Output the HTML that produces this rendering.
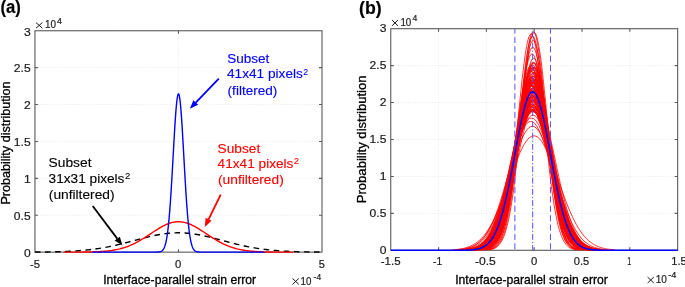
<!DOCTYPE html><html><head><meta charset="utf-8"><style>html,body{margin:0;padding:0;background:#fff;width:685px;height:287px;overflow:hidden}</style></head><body><svg width="685" height="287" viewBox="0 0 685 287" style="position:absolute;left:0;top:0;font-family:'Liberation Sans',sans-serif;will-change:transform">
<rect width="685" height="287" fill="#fff"/>
<line x1="34.95" y1="30.75" x2="34.95" y2="252.15" stroke="#dedede" stroke-width="0.7" stroke-dasharray="0.9,1.55"/>
<line x1="178.48" y1="30.75" x2="178.48" y2="252.15" stroke="#dedede" stroke-width="0.7" stroke-dasharray="0.9,1.55"/>
<line x1="322.00" y1="30.75" x2="322.00" y2="252.15" stroke="#dedede" stroke-width="0.7" stroke-dasharray="0.9,1.55"/>
<line x1="34.95" y1="252.15" x2="322.0" y2="252.15" stroke="#dedede" stroke-width="0.7" stroke-dasharray="0.9,1.55"/>
<line x1="34.95" y1="215.25" x2="322.0" y2="215.25" stroke="#dedede" stroke-width="0.7" stroke-dasharray="0.9,1.55"/>
<line x1="34.95" y1="178.35" x2="322.0" y2="178.35" stroke="#dedede" stroke-width="0.7" stroke-dasharray="0.9,1.55"/>
<line x1="34.95" y1="141.45" x2="322.0" y2="141.45" stroke="#dedede" stroke-width="0.7" stroke-dasharray="0.9,1.55"/>
<line x1="34.95" y1="104.55" x2="322.0" y2="104.55" stroke="#dedede" stroke-width="0.7" stroke-dasharray="0.9,1.55"/>
<line x1="34.95" y1="67.65" x2="322.0" y2="67.65" stroke="#dedede" stroke-width="0.7" stroke-dasharray="0.9,1.55"/>
<line x1="34.95" y1="30.75" x2="322.0" y2="30.75" stroke="#dedede" stroke-width="0.7" stroke-dasharray="0.9,1.55"/>
<line x1="390.75" y1="28.7" x2="390.75" y2="250.3" stroke="#dedede" stroke-width="0.7" stroke-dasharray="0.9,1.55"/>
<line x1="438.57" y1="28.7" x2="438.57" y2="250.3" stroke="#dedede" stroke-width="0.7" stroke-dasharray="0.9,1.55"/>
<line x1="486.38" y1="28.7" x2="486.38" y2="250.3" stroke="#dedede" stroke-width="0.7" stroke-dasharray="0.9,1.55"/>
<line x1="534.20" y1="28.7" x2="534.20" y2="250.3" stroke="#dedede" stroke-width="0.7" stroke-dasharray="0.9,1.55"/>
<line x1="582.02" y1="28.7" x2="582.02" y2="250.3" stroke="#dedede" stroke-width="0.7" stroke-dasharray="0.9,1.55"/>
<line x1="629.83" y1="28.7" x2="629.83" y2="250.3" stroke="#dedede" stroke-width="0.7" stroke-dasharray="0.9,1.55"/>
<line x1="677.65" y1="28.7" x2="677.65" y2="250.3" stroke="#dedede" stroke-width="0.7" stroke-dasharray="0.9,1.55"/>
<line x1="390.75" y1="250.30" x2="677.65" y2="250.30" stroke="#dedede" stroke-width="0.7" stroke-dasharray="0.9,1.55"/>
<line x1="390.75" y1="213.37" x2="677.65" y2="213.37" stroke="#dedede" stroke-width="0.7" stroke-dasharray="0.9,1.55"/>
<line x1="390.75" y1="176.43" x2="677.65" y2="176.43" stroke="#dedede" stroke-width="0.7" stroke-dasharray="0.9,1.55"/>
<line x1="390.75" y1="139.50" x2="677.65" y2="139.50" stroke="#dedede" stroke-width="0.7" stroke-dasharray="0.9,1.55"/>
<line x1="390.75" y1="102.57" x2="677.65" y2="102.57" stroke="#dedede" stroke-width="0.7" stroke-dasharray="0.9,1.55"/>
<line x1="390.75" y1="65.63" x2="677.65" y2="65.63" stroke="#dedede" stroke-width="0.7" stroke-dasharray="0.9,1.55"/>
<line x1="390.75" y1="28.70" x2="677.65" y2="28.70" stroke="#dedede" stroke-width="0.7" stroke-dasharray="0.9,1.55"/>
<rect x="34.95" y="30.75" width="287.05" height="221.40" fill="none" stroke="#5c5c5c" stroke-width="1.1"/>
<path d="M178.48,252.15v-3M178.48,30.75v3M34.95,215.25h3M322.0,215.25h-3M34.95,178.35h3M322.0,178.35h-3M34.95,141.45h3M322.0,141.45h-3M34.95,104.55h3M322.0,104.55h-3M34.95,67.65h3M322.0,67.65h-3" stroke="#5c5c5c" stroke-width="1.1" fill="none"/>
<rect x="390.75" y="28.7" width="286.90" height="221.60" fill="none" stroke="#5c5c5c" stroke-width="1.1"/>
<path d="M438.57,250.3v-3M438.57,28.7v3M486.38,250.3v-3M486.38,28.7v3M534.20,250.3v-3M534.20,28.7v3M582.02,250.3v-3M582.02,28.7v3M629.83,250.3v-3M629.83,28.7v3M390.75,213.37h3M677.65,213.37h-3M390.75,176.43h3M677.65,176.43h-3M390.75,139.50h3M677.65,139.50h-3M390.75,102.57h3M677.65,102.57h-3M390.75,65.63h3M677.65,65.63h-3" stroke="#5c5c5c" stroke-width="1.1" fill="none"/>
<polyline points="34.95,252.06 36.39,252.05 37.82,252.04 39.26,252.03 40.69,252.02 42.13,252.00 43.56,251.98 45.00,251.97 46.43,251.95 47.87,251.93 49.30,251.90 50.74,251.88 52.17,251.85 53.61,251.82 55.04,251.79 56.48,251.76 57.91,251.72 59.35,251.68 60.78,251.63 62.22,251.59 63.66,251.54 65.09,251.48 66.53,251.42 67.96,251.36 69.40,251.29 70.83,251.22 72.27,251.14 73.70,251.06 75.14,250.97 76.57,250.87 78.01,250.77 79.44,250.67 80.88,250.55 82.31,250.43 83.75,250.30 85.18,250.17 86.62,250.03 88.05,249.87 89.49,249.72 90.92,249.55 92.36,249.37 93.80,249.19 95.23,249.00 96.67,248.80 98.10,248.58 99.54,248.36 100.97,248.14 102.41,247.90 103.84,247.65 105.28,247.39 106.71,247.13 108.15,246.85 109.58,246.57 111.02,246.27 112.45,245.97 113.89,245.66 115.32,245.34 116.76,245.01 118.19,244.68 119.63,244.34 121.06,243.99 122.50,243.63 123.94,243.27 125.37,242.91 126.81,242.54 128.24,242.16 129.68,241.78 131.11,241.40 132.55,241.02 133.98,240.63 135.42,240.25 136.85,239.86 138.29,239.48 139.72,239.10 141.16,238.72 142.59,238.35 144.03,237.98 145.46,237.61 146.90,237.26 148.33,236.91 149.77,236.57 151.21,236.23 152.64,235.91 154.08,235.60 155.51,235.31 156.95,235.02 158.38,234.75 159.82,234.50 161.25,234.26 162.69,234.04 164.12,233.83 165.56,233.64 166.99,233.47 168.43,233.32 169.86,233.19 171.30,233.07 172.73,232.98 174.17,232.91 175.60,232.86 177.04,232.82 178.48,232.81 179.91,232.82 181.35,232.86 182.78,232.91 184.22,232.98 185.65,233.07 187.09,233.19 188.52,233.32 189.96,233.47 191.39,233.64 192.83,233.83 194.26,234.04 195.70,234.26 197.13,234.50 198.57,234.75 200.00,235.02 201.44,235.31 202.87,235.60 204.31,235.91 205.74,236.23 207.18,236.57 208.62,236.91 210.05,237.26 211.49,237.61 212.92,237.98 214.36,238.35 215.79,238.72 217.23,239.10 218.66,239.48 220.10,239.86 221.53,240.25 222.97,240.63 224.40,241.02 225.84,241.40 227.27,241.78 228.71,242.16 230.14,242.54 231.58,242.91 233.01,243.27 234.45,243.63 235.89,243.99 237.32,244.34 238.76,244.68 240.19,245.01 241.63,245.34 243.06,245.66 244.50,245.97 245.93,246.27 247.37,246.57 248.80,246.85 250.24,247.13 251.67,247.39 253.11,247.65 254.54,247.90 255.98,248.14 257.41,248.36 258.85,248.58 260.28,248.80 261.72,249.00 263.15,249.19 264.59,249.37 266.03,249.55 267.46,249.72 268.90,249.87 270.33,250.03 271.77,250.17 273.20,250.30 274.64,250.43 276.07,250.55 277.51,250.67 278.94,250.77 280.38,250.87 281.81,250.97 283.25,251.06 284.68,251.14 286.12,251.22 287.55,251.29 288.99,251.36 290.42,251.42 291.86,251.48 293.29,251.54 294.73,251.59 296.17,251.63 297.60,251.68 299.04,251.72 300.47,251.76 301.91,251.79 303.34,251.82 304.78,251.85 306.21,251.88 307.65,251.90 309.08,251.93 310.52,251.95 311.95,251.97 313.39,251.98 314.82,252.00 316.26,252.02 317.69,252.03 319.13,252.04 320.56,252.05 322.00,252.06" fill="none" stroke="#000" stroke-width="1.4" stroke-dasharray="5.6,4.5"/>
<polyline points="63.66,252.14 64.80,252.14 65.95,252.14 67.10,252.14 68.25,252.14 69.40,252.14 70.54,252.13 71.69,252.13 72.84,252.13 73.99,252.12 75.14,252.12 76.29,252.11 77.43,252.11 78.58,252.10 79.73,252.09 80.88,252.09 82.03,252.08 83.17,252.06 84.32,252.05 85.47,252.04 86.62,252.02 87.77,252.00 88.92,251.98 90.06,251.96 91.21,251.93 92.36,251.90 93.51,251.87 94.66,251.83 95.80,251.79 96.95,251.74 98.10,251.69 99.25,251.63 100.40,251.56 101.55,251.49 102.69,251.41 103.84,251.32 104.99,251.23 106.14,251.12 107.29,251.01 108.43,250.88 109.58,250.74 110.73,250.59 111.88,250.43 113.03,250.25 114.18,250.06 115.32,249.85 116.47,249.62 117.62,249.38 118.77,249.12 119.92,248.85 121.07,248.55 122.21,248.23 123.36,247.89 124.51,247.53 125.66,247.15 126.81,246.75 127.95,246.32 129.10,245.87 130.25,245.40 131.40,244.90 132.55,244.39 133.70,243.84 134.84,243.28 135.99,242.69 137.14,242.09 138.29,241.46 139.44,240.81 140.58,240.14 141.73,239.46 142.88,238.76 144.03,238.04 145.18,237.31 146.33,236.57 147.47,235.83 148.62,235.07 149.77,234.31 150.92,233.55 152.07,232.79 153.21,232.03 154.36,231.28 155.51,230.54 156.66,229.80 157.81,229.09 158.96,228.39 160.10,227.71 161.25,227.06 162.40,226.43 163.55,225.83 164.70,225.26 165.84,224.73 166.99,224.23 168.14,223.77 169.29,223.36 170.44,222.99 171.59,222.66 172.73,222.39 173.88,222.16 175.03,221.98 176.18,221.85 177.33,221.77 178.48,221.74 179.62,221.77 180.77,221.85 181.92,221.98 183.07,222.16 184.22,222.39 185.36,222.66 186.51,222.99 187.66,223.36 188.81,223.77 189.96,224.23 191.11,224.73 192.25,225.26 193.40,225.83 194.55,226.43 195.70,227.06 196.85,227.71 197.99,228.39 199.14,229.09 200.29,229.80 201.44,230.54 202.59,231.28 203.74,232.03 204.88,232.79 206.03,233.55 207.18,234.31 208.33,235.07 209.48,235.83 210.62,236.57 211.77,237.31 212.92,238.04 214.07,238.76 215.22,239.46 216.37,240.14 217.51,240.81 218.66,241.46 219.81,242.09 220.96,242.69 222.11,243.28 223.25,243.84 224.40,244.39 225.55,244.90 226.70,245.40 227.85,245.87 229.00,246.32 230.14,246.75 231.29,247.15 232.44,247.53 233.59,247.89 234.74,248.23 235.89,248.55 237.03,248.85 238.18,249.12 239.33,249.38 240.48,249.62 241.63,249.85 242.77,250.06 243.92,250.25 245.07,250.43 246.22,250.59 247.37,250.74 248.52,250.88 249.66,251.01 250.81,251.12 251.96,251.23 253.11,251.32 254.26,251.41 255.40,251.49 256.55,251.56 257.70,251.63 258.85,251.69 260.00,251.74 261.15,251.79 262.29,251.83 263.44,251.87 264.59,251.90 265.74,251.93 266.89,251.96 268.03,251.98 269.18,252.00 270.33,252.02 271.48,252.04 272.63,252.05 273.78,252.06 274.92,252.08 276.07,252.09 277.22,252.09 278.37,252.10 279.52,252.11 280.66,252.11 281.81,252.12 282.96,252.12 284.11,252.13 285.26,252.13 286.41,252.13 287.55,252.14 288.70,252.14 289.85,252.14 291.00,252.14 292.15,252.14 293.29,252.14" fill="none" stroke="#f00" stroke-width="1.4"/>
<polyline points="92.36,252.15 92.70,252.15 93.05,252.15 93.39,252.15 93.74,252.15 94.08,252.15 94.43,252.15 94.77,252.15 95.12,252.15 95.46,252.15 95.80,252.15 96.15,252.15 96.49,252.15 96.84,252.15 97.18,252.15 97.53,252.15 97.87,252.15 98.22,252.15 98.56,252.15 98.90,252.15 99.25,252.15 99.59,252.15 99.94,252.15 100.28,252.15 100.63,252.15 100.97,252.15 101.32,252.15 101.66,252.15 102.00,252.15 102.35,252.15 102.69,252.15 103.04,252.15 103.38,252.15 103.73,252.15 104.07,252.15 104.42,252.15 104.76,252.15 105.11,252.15 105.45,252.15 105.79,252.15 106.14,252.15 106.48,252.15 106.83,252.15 107.17,252.15 107.52,252.15 107.86,252.15 108.21,252.15 108.55,252.15 108.89,252.15 109.24,252.15 109.58,252.15 109.93,252.15 110.27,252.15 110.62,252.15 110.96,252.15 111.31,252.15 111.65,252.15 111.99,252.15 112.34,252.15 112.68,252.15 113.03,252.15 113.37,252.15 113.72,252.15 114.06,252.15 114.41,252.15 114.75,252.15 115.09,252.15 115.44,252.15 115.78,252.15 116.13,252.15 116.47,252.15 116.82,252.15 117.16,252.15 117.51,252.15 117.85,252.15 118.19,252.15 118.54,252.15 118.88,252.15 119.23,252.15 119.57,252.15 119.92,252.15 120.26,252.15 120.61,252.15 120.95,252.15 121.29,252.15 121.64,252.15 121.98,252.15 122.33,252.15 122.67,252.15 123.02,252.15 123.36,252.15 123.71,252.15 124.05,252.15 124.39,252.15 124.74,252.15 125.08,252.15 125.43,252.15 125.77,252.15 126.12,252.15 126.46,252.15 126.81,252.15 127.15,252.15 127.49,252.15 127.84,252.15 128.18,252.15 128.53,252.15 128.87,252.15 129.22,252.15 129.56,252.15 129.91,252.15 130.25,252.15 130.60,252.15 130.94,252.15 131.28,252.15 131.63,252.15 131.97,252.15 132.32,252.15 132.66,252.15 133.01,252.15 133.35,252.15 133.70,252.15 134.04,252.15 134.38,252.15 134.73,252.15 135.07,252.15 135.42,252.15 135.76,252.15 136.11,252.15 136.45,252.15 136.80,252.15 137.14,252.15 137.48,252.15 137.83,252.15 138.17,252.15 138.52,252.15 138.86,252.15 139.21,252.15 139.55,252.15 139.90,252.15 140.24,252.15 140.58,252.15 140.93,252.15 141.27,252.15 141.62,252.15 141.96,252.15 142.31,252.15 142.65,252.15 143.00,252.15 143.34,252.15 143.68,252.15 144.03,252.15 144.37,252.15 144.72,252.15 145.06,252.15 145.41,252.15 145.75,252.15 146.10,252.15 146.44,252.15 146.78,252.15 147.13,252.15 147.47,252.15 147.82,252.15 148.16,252.15 148.51,252.15 148.85,252.15 149.20,252.15 149.54,252.15 149.88,252.15 150.23,252.15 150.57,252.15 150.92,252.15 151.26,252.15 151.61,252.15 151.95,252.15 152.30,252.15 152.64,252.15 152.98,252.15 153.33,252.15 153.67,252.15 154.02,252.15 154.36,252.14 154.71,252.14 155.05,252.14 155.40,252.14 155.74,252.13 156.09,252.13 156.43,252.12 156.77,252.11 157.12,252.10 157.46,252.08 157.81,252.06 158.15,252.04 158.50,252.01 158.84,251.97 159.19,251.92 159.53,251.86 159.87,251.78 160.22,251.69 160.56,251.58 160.91,251.44 161.25,251.28 161.60,251.08 161.94,250.84 162.29,250.56 162.63,250.21 162.97,249.81 163.32,249.34 163.66,248.78 164.01,248.12 164.35,247.36 164.70,246.49 165.04,245.47 165.39,244.31 165.73,242.99 166.07,241.49 166.42,239.79 166.76,237.88 167.11,235.74 167.45,233.36 167.80,230.73 168.14,227.83 168.49,224.66 168.83,221.19 169.17,217.44 169.52,213.39 169.86,209.05 170.21,204.42 170.55,199.51 170.90,194.35 171.24,188.93 171.59,183.30 171.93,177.48 172.27,171.50 172.62,165.41 172.96,159.24 173.31,153.05 173.65,146.88 174.00,140.79 174.34,134.85 174.69,129.09 175.03,123.60 175.37,118.41 175.72,113.59 176.06,109.20 176.41,105.28 176.75,101.88 177.10,99.03 177.44,96.79 177.79,95.16 178.13,94.18 178.48,93.85 178.82,94.18 179.16,95.16 179.51,96.79 179.85,99.03 180.20,101.88 180.54,105.28 180.89,109.20 181.23,113.59 181.58,118.41 181.92,123.60 182.26,129.09 182.61,134.85 182.95,140.79 183.30,146.88 183.64,153.05 183.99,159.24 184.33,165.41 184.68,171.50 185.02,177.48 185.36,183.30 185.71,188.93 186.05,194.35 186.40,199.51 186.74,204.42 187.09,209.05 187.43,213.39 187.78,217.44 188.12,221.19 188.46,224.66 188.81,227.83 189.15,230.73 189.50,233.36 189.84,235.74 190.19,237.88 190.53,239.79 190.88,241.49 191.22,242.99 191.56,244.31 191.91,245.47 192.25,246.49 192.60,247.36 192.94,248.12 193.29,248.78 193.63,249.34 193.98,249.81 194.32,250.21 194.66,250.56 195.01,250.84 195.35,251.08 195.70,251.28 196.04,251.44 196.39,251.58 196.73,251.69 197.08,251.78 197.42,251.86 197.76,251.92 198.11,251.97 198.45,252.01 198.80,252.04 199.14,252.06 199.49,252.08 199.83,252.10 200.18,252.11 200.52,252.12 200.86,252.13 201.21,252.13 201.55,252.14 201.90,252.14 202.24,252.14 202.59,252.14 202.93,252.15 203.28,252.15 203.62,252.15 203.97,252.15 204.31,252.15 204.65,252.15 205.00,252.15 205.34,252.15 205.69,252.15 206.03,252.15 206.38,252.15 206.72,252.15 207.07,252.15 207.41,252.15 207.75,252.15 208.10,252.15 208.44,252.15 208.79,252.15 209.13,252.15 209.48,252.15 209.82,252.15 210.17,252.15 210.51,252.15 210.85,252.15 211.20,252.15 211.54,252.15 211.89,252.15 212.23,252.15 212.58,252.15 212.92,252.15 213.27,252.15 213.61,252.15 213.95,252.15 214.30,252.15 214.64,252.15 214.99,252.15 215.33,252.15 215.68,252.15 216.02,252.15 216.37,252.15 216.71,252.15 217.05,252.15 217.40,252.15 217.74,252.15 218.09,252.15 218.43,252.15 218.78,252.15 219.12,252.15 219.47,252.15 219.81,252.15 220.15,252.15 220.50,252.15 220.84,252.15 221.19,252.15 221.53,252.15 221.88,252.15 222.22,252.15 222.57,252.15 222.91,252.15 223.25,252.15 223.60,252.15 223.94,252.15 224.29,252.15 224.63,252.15 224.98,252.15 225.32,252.15 225.67,252.15 226.01,252.15 226.35,252.15 226.70,252.15 227.04,252.15 227.39,252.15 227.73,252.15 228.08,252.15 228.42,252.15 228.77,252.15 229.11,252.15 229.46,252.15 229.80,252.15 230.14,252.15 230.49,252.15 230.83,252.15 231.18,252.15 231.52,252.15 231.87,252.15 232.21,252.15 232.56,252.15 232.90,252.15 233.24,252.15 233.59,252.15 233.93,252.15 234.28,252.15 234.62,252.15 234.97,252.15 235.31,252.15 235.66,252.15 236.00,252.15 236.34,252.15 236.69,252.15 237.03,252.15 237.38,252.15 237.72,252.15 238.07,252.15 238.41,252.15 238.76,252.15 239.10,252.15 239.44,252.15 239.79,252.15 240.13,252.15 240.48,252.15 240.82,252.15 241.17,252.15 241.51,252.15 241.86,252.15 242.20,252.15 242.54,252.15 242.89,252.15 243.23,252.15 243.58,252.15 243.92,252.15 244.27,252.15 244.61,252.15 244.96,252.15 245.30,252.15 245.64,252.15 245.99,252.15 246.33,252.15 246.68,252.15 247.02,252.15 247.37,252.15 247.71,252.15 248.06,252.15 248.40,252.15 248.74,252.15 249.09,252.15 249.43,252.15 249.78,252.15 250.12,252.15 250.47,252.15 250.81,252.15 251.16,252.15 251.50,252.15 251.84,252.15 252.19,252.15 252.53,252.15 252.88,252.15 253.22,252.15 253.57,252.15 253.91,252.15 254.26,252.15 254.60,252.15 254.95,252.15 255.29,252.15 255.63,252.15 255.98,252.15 256.32,252.15 256.67,252.15 257.01,252.15 257.36,252.15 257.70,252.15 258.05,252.15 258.39,252.15 258.73,252.15 259.08,252.15 259.42,252.15 259.77,252.15 260.11,252.15 260.46,252.15 260.80,252.15 261.15,252.15 261.49,252.15 261.83,252.15 262.18,252.15 262.52,252.15 262.87,252.15 263.21,252.15 263.56,252.15 263.90,252.15 264.25,252.15 264.59,252.15" fill="none" stroke="#00f" stroke-width="1.4"/>
<g fill="none" stroke="#f00" stroke-width="0.8">
<polyline points="452.9,249.8 455.0,249.6 457.0,249.4 459.0,249.2 461.0,248.9 463.1,248.5 465.1,248.0 467.1,247.4 469.1,246.7 471.1,245.8 473.2,244.8 475.2,243.6 477.2,242.2 479.2,240.5 481.3,238.6 483.3,236.4 485.3,233.9 487.3,231.1 489.3,227.9 491.4,224.5 493.4,220.6 495.4,216.4 497.4,211.9 499.5,207.1 501.5,202.0 503.5,196.7 505.5,191.2 507.6,185.6 509.6,179.9 511.6,174.2 513.6,168.6 515.6,163.2 517.7,158.0 519.7,153.3 521.7,148.9 523.7,145.1 525.8,141.8 527.8,139.2 529.8,137.3 531.8,136.2 533.8,135.8 535.9,136.2 537.9,137.3 539.9,139.2 541.9,141.8 544.0,145.1 546.0,148.9 548.0,153.3 550.0,158.0 552.0,163.2 554.1,168.6 556.1,174.2 558.1,179.9 560.1,185.6 562.2,191.2 564.2,196.7 566.2,202.0 568.2,207.1 570.2,211.9 572.3,216.4 574.3,220.6 576.3,224.5 578.3,227.9 580.4,231.1 582.4,233.9 584.4,236.4 586.4,238.6 588.4,240.5 590.5,242.2 592.5,243.6 594.5,244.8 596.5,245.8 598.6,246.7 600.6,247.4 602.6,248.0 604.6,248.5 606.6,248.9 608.7,249.2 610.7,249.4 612.7,249.6 614.7,249.8"/>
<polyline points="457.2,249.8 459.1,249.6 460.9,249.4 462.8,249.2 464.7,248.8 466.6,248.4 468.5,247.9 470.3,247.3 472.2,246.6 474.1,245.7 476.0,244.6 477.9,243.3 479.7,241.8 481.6,240.1 483.5,238.1 485.4,235.7 487.3,233.0 489.1,230.0 491.0,226.7 492.9,222.9 494.8,218.8 496.6,214.3 498.5,209.4 500.4,204.2 502.3,198.7 504.2,192.9 506.0,186.9 507.9,180.7 509.8,174.5 511.7,168.3 513.6,162.2 515.4,156.3 517.3,150.6 519.2,145.4 521.1,140.6 523.0,136.4 524.8,132.8 526.7,130.0 528.6,127.9 530.5,126.6 532.4,126.2 534.2,126.6 536.1,127.9 538.0,130.0 539.9,132.8 541.8,136.4 543.6,140.6 545.5,145.4 547.4,150.6 549.3,156.3 551.2,162.2 553.0,168.3 554.9,174.5 556.8,180.7 558.7,186.9 560.6,192.9 562.4,198.7 564.3,204.2 566.2,209.4 568.1,214.3 570.0,218.8 571.8,222.9 573.7,226.7 575.6,230.0 577.5,233.0 579.4,235.7 581.2,238.1 583.1,240.1 585.0,241.8 586.9,243.3 588.8,244.6 590.6,245.7 592.5,246.6 594.4,247.3 596.3,247.9 598.2,248.4 600.0,248.8 601.9,249.2 603.8,249.4 605.7,249.6 607.5,249.8"/>
<polyline points="458.1,249.8 460.0,249.6 461.8,249.4 463.6,249.2 465.4,248.8 467.2,248.4 469.0,247.9 470.9,247.3 472.7,246.5 474.5,245.6 476.3,244.5 478.1,243.2 479.9,241.7 481.8,239.9 483.6,237.8 485.4,235.4 487.2,232.6 489.0,229.5 490.8,226.0 492.7,222.1 494.5,217.9 496.3,213.2 498.1,208.1 499.9,202.7 501.7,197.0 503.5,191.0 505.4,184.7 507.2,178.3 509.0,171.9 510.8,165.4 512.6,159.0 514.4,152.8 516.3,146.9 518.1,141.4 519.9,136.5 521.7,132.1 523.5,128.3 525.3,125.3 527.2,123.2 529.0,121.8 530.8,121.4 532.6,121.8 534.4,123.2 536.2,125.3 538.0,128.3 539.9,132.1 541.7,136.5 543.5,141.4 545.3,146.9 547.1,152.8 548.9,159.0 550.8,165.4 552.6,171.9 554.4,178.3 556.2,184.7 558.0,191.0 559.8,197.0 561.7,202.7 563.5,208.1 565.3,213.2 567.1,217.9 568.9,222.1 570.7,226.0 572.6,229.5 574.4,232.6 576.2,235.4 578.0,237.8 579.8,239.9 581.6,241.7 583.4,243.2 585.3,244.5 587.1,245.6 588.9,246.5 590.7,247.3 592.5,247.9 594.3,248.4 596.2,248.8 598.0,249.2 599.8,249.4 601.6,249.6 603.4,249.8"/>
<polyline points="460.7,249.8 462.5,249.6 464.3,249.4 466.1,249.1 467.8,248.8 469.6,248.4 471.4,247.9 473.2,247.3 474.9,246.5 476.7,245.6 478.5,244.5 480.3,243.1 482.0,241.6 483.8,239.7 485.6,237.6 487.4,235.1 489.1,232.3 490.9,229.2 492.7,225.6 494.5,221.6 496.2,217.2 498.0,212.5 499.8,207.3 501.6,201.7 503.3,195.8 505.1,189.7 506.9,183.3 508.7,176.7 510.4,170.0 512.2,163.4 514.0,156.8 515.7,150.4 517.5,144.4 519.3,138.7 521.1,133.6 522.8,129.1 524.6,125.2 526.4,122.1 528.2,119.9 529.9,118.5 531.7,118.1 533.5,118.5 535.3,119.9 537.0,122.1 538.8,125.2 540.6,129.1 542.4,133.6 544.1,138.7 545.9,144.4 547.7,150.4 549.5,156.8 551.2,163.4 553.0,170.0 554.8,176.7 556.6,183.3 558.3,189.7 560.1,195.8 561.9,201.7 563.7,207.3 565.4,212.5 567.2,217.2 569.0,221.6 570.8,225.6 572.5,229.2 574.3,232.3 576.1,235.1 577.8,237.6 579.6,239.7 581.4,241.6 583.2,243.1 584.9,244.5 586.7,245.6 588.5,246.5 590.3,247.3 592.0,247.9 593.8,248.4 595.6,248.8 597.4,249.1 599.1,249.4 600.9,249.6 602.7,249.8"/>
<polyline points="463.4,249.8 465.1,249.6 466.8,249.4 468.6,249.1 470.3,248.8 472.1,248.4 473.8,247.9 475.5,247.2 477.3,246.5 479.0,245.5 480.7,244.4 482.5,243.1 484.2,241.5 486.0,239.6 487.7,237.4 489.4,234.9 491.2,232.1 492.9,228.8 494.7,225.2 496.4,221.2 498.1,216.7 499.9,211.8 501.6,206.5 503.4,200.8 505.1,194.8 506.8,188.5 508.6,181.9 510.3,175.2 512.1,168.4 513.8,161.6 515.5,154.8 517.3,148.3 519.0,142.1 520.7,136.3 522.5,131.0 524.2,126.4 526.0,122.4 527.7,119.3 529.4,117.0 531.2,115.6 532.9,115.1 534.7,115.6 536.4,117.0 538.1,119.3 539.9,122.4 541.6,126.4 543.4,131.0 545.1,136.3 546.8,142.1 548.6,148.3 550.3,154.8 552.0,161.6 553.8,168.4 555.5,175.2 557.3,181.9 559.0,188.5 560.7,194.8 562.5,200.8 564.2,206.5 566.0,211.8 567.7,216.7 569.4,221.2 571.2,225.2 572.9,228.8 574.7,232.1 576.4,234.9 578.1,237.4 579.9,239.6 581.6,241.5 583.4,243.1 585.1,244.4 586.8,245.5 588.6,246.5 590.3,247.2 592.0,247.9 593.8,248.4 595.5,248.8 597.3,249.1 599.0,249.4 600.7,249.6 602.5,249.8"/>
<polyline points="465.3,249.8 467.0,249.6 468.7,249.4 470.4,249.1 472.0,248.8 473.7,248.4 475.4,247.9 477.1,247.2 478.8,246.4 480.5,245.5 482.2,244.3 483.9,243.0 485.6,241.3 487.3,239.4 489.0,237.2 490.7,234.7 492.4,231.8 494.1,228.5 495.8,224.8 497.5,220.6 499.2,216.0 500.9,211.0 502.6,205.6 504.3,199.8 506.0,193.6 507.7,187.1 509.4,180.4 511.1,173.5 512.8,166.5 514.5,159.5 516.2,152.5 517.9,145.8 519.6,139.4 521.3,133.5 523.0,128.0 524.7,123.3 526.4,119.2 528.1,115.9 529.8,113.6 531.5,112.1 533.2,111.7 534.9,112.1 536.6,113.6 538.3,115.9 540.0,119.2 541.7,123.3 543.4,128.0 545.1,133.5 546.8,139.4 548.5,145.8 550.2,152.5 551.9,159.5 553.6,166.5 555.3,173.5 557.0,180.4 558.7,187.1 560.4,193.6 562.1,199.8 563.8,205.6 565.5,211.0 567.2,216.0 568.9,220.6 570.6,224.8 572.3,228.5 574.0,231.8 575.7,234.7 577.4,237.2 579.1,239.4 580.8,241.3 582.5,243.0 584.2,244.3 585.9,245.5 587.6,246.4 589.3,247.2 591.0,247.9 592.7,248.4 594.4,248.8 596.1,249.1 597.8,249.4 599.5,249.6 601.2,249.8"/>
<polyline points="483.2,249.8 484.5,249.6 485.7,249.4 487.0,249.1 488.3,248.7 489.5,248.2 490.8,247.6 492.1,246.9 493.3,245.9 494.6,244.8 495.8,243.4 497.1,241.7 498.4,239.7 499.6,237.3 500.9,234.5 502.2,231.3 503.4,227.5 504.7,223.2 505.9,218.2 507.2,212.7 508.5,206.6 509.7,199.8 511.0,192.4 512.3,184.3 513.5,175.8 514.8,166.7 516.0,157.3 517.3,147.5 518.6,137.5 519.8,127.5 521.1,117.6 522.3,108.0 523.6,98.7 524.9,90.1 526.1,82.2 527.4,75.2 528.7,69.3 529.9,64.5 531.2,61.1 532.4,59.0 533.7,58.2 535.0,59.0 536.2,61.1 537.5,64.5 538.8,69.3 540.0,75.2 541.3,82.2 542.5,90.1 543.8,98.7 545.1,108.0 546.3,117.6 547.6,127.5 548.9,137.5 550.1,147.5 551.4,157.3 552.6,166.7 553.9,175.8 555.2,184.3 556.4,192.4 557.7,199.8 558.9,206.6 560.2,212.7 561.5,218.2 562.7,223.2 564.0,227.5 565.3,231.3 566.5,234.5 567.8,237.3 569.0,239.7 570.3,241.7 571.6,243.4 572.8,244.8 574.1,245.9 575.4,246.9 576.6,247.6 577.9,248.2 579.1,248.7 580.4,249.1 581.7,249.4 582.9,249.6 584.2,249.8"/>
<polyline points="482.6,249.8 483.8,249.6 485.0,249.4 486.3,249.1 487.5,248.7 488.7,248.2 490.0,247.6 491.2,246.9 492.4,245.9 493.7,244.8 494.9,243.3 496.2,241.6 497.4,239.6 498.6,237.2 499.9,234.3 501.1,231.0 502.3,227.1 503.6,222.7 504.8,217.7 506.0,212.1 507.3,205.8 508.5,198.9 509.8,191.3 511.0,183.1 512.2,174.3 513.5,165.1 514.7,155.4 515.9,145.4 517.2,135.2 518.4,124.9 519.6,114.8 520.9,104.8 522.1,95.4 523.3,86.5 524.6,78.4 525.8,71.2 527.1,65.1 528.3,60.3 529.5,56.7 530.8,54.5 532.0,53.8 533.2,54.5 534.5,56.7 535.7,60.3 536.9,65.1 538.2,71.2 539.4,78.4 540.6,86.5 541.9,95.4 543.1,104.8 544.4,114.8 545.6,124.9 546.8,135.2 548.1,145.4 549.3,155.4 550.5,165.1 551.8,174.3 553.0,183.1 554.2,191.3 555.5,198.9 556.7,205.8 558.0,212.1 559.2,217.7 560.4,222.7 561.7,227.1 562.9,231.0 564.1,234.3 565.4,237.2 566.6,239.6 567.8,241.6 569.1,243.3 570.3,244.8 571.5,245.9 572.8,246.9 574.0,247.6 575.3,248.2 576.5,248.7 577.7,249.1 579.0,249.4 580.2,249.6 581.4,249.8"/>
<polyline points="484.7,249.8 485.9,249.6 487.1,249.4 488.3,249.1 489.5,248.7 490.7,248.2 491.9,247.6 493.1,246.8 494.3,245.9 495.5,244.7 496.7,243.2 497.9,241.5 499.1,239.4 500.3,236.9 501.5,234.0 502.7,230.6 503.9,226.6 505.1,222.1 506.3,217.0 507.5,211.1 508.7,204.7 509.9,197.5 511.1,189.7 512.3,181.2 513.5,172.2 514.7,162.6 515.9,152.6 517.1,142.2 518.3,131.6 519.5,121.0 520.7,110.5 521.9,100.2 523.1,90.3 524.3,81.1 525.5,72.7 526.7,65.3 527.9,58.9 529.1,53.9 530.3,50.2 531.5,47.9 532.7,47.2 533.9,47.9 535.1,50.2 536.3,53.9 537.5,58.9 538.7,65.3 539.9,72.7 541.1,81.1 542.3,90.3 543.5,100.2 544.7,110.5 545.9,121.0 547.1,131.6 548.3,142.2 549.5,152.6 550.7,162.6 551.9,172.2 553.1,181.2 554.3,189.7 555.4,197.5 556.6,204.7 557.8,211.1 559.0,217.0 560.2,222.1 561.4,226.6 562.6,230.6 563.8,234.0 565.0,236.9 566.2,239.4 567.4,241.5 568.6,243.2 569.8,244.7 571.0,245.9 572.2,246.8 573.4,247.6 574.6,248.2 575.8,248.7 577.0,249.1 578.2,249.4 579.4,249.6 580.6,249.8"/>
<polyline points="486.5,249.8 487.7,249.6 488.9,249.4 490.0,249.1 491.2,248.7 492.4,248.2 493.5,247.6 494.7,246.8 495.9,245.8 497.0,244.6 498.2,243.1 499.3,241.4 500.5,239.2 501.7,236.7 502.8,233.7 504.0,230.2 505.2,226.2 506.3,221.5 507.5,216.2 508.7,210.2 509.8,203.6 511.0,196.2 512.2,188.1 513.3,179.4 514.5,170.0 515.6,160.1 516.8,149.8 518.0,139.1 519.1,128.1 520.3,117.1 521.5,106.2 522.6,95.5 523.8,85.3 525.0,75.8 526.1,67.0 527.3,59.3 528.4,52.7 529.6,47.5 530.8,43.6 531.9,41.3 533.1,40.5 534.3,41.3 535.4,43.6 536.6,47.5 537.8,52.7 538.9,59.3 540.1,67.0 541.3,75.8 542.4,85.3 543.6,95.5 544.7,106.2 545.9,117.1 547.1,128.1 548.2,139.1 549.4,149.8 550.6,160.1 551.7,170.0 552.9,179.4 554.1,188.1 555.2,196.2 556.4,203.6 557.5,210.2 558.7,216.2 559.9,221.5 561.0,226.2 562.2,230.2 563.4,233.7 564.5,236.7 565.7,239.2 566.9,241.4 568.0,243.1 569.2,244.6 570.4,245.8 571.5,246.8 572.7,247.6 573.8,248.2 575.0,248.7 576.2,249.1 577.3,249.4 578.5,249.6 579.7,249.8"/>
<polyline points="486.9,249.8 488.0,249.6 489.2,249.4 490.3,249.1 491.5,248.7 492.6,248.2 493.7,247.5 494.9,246.8 496.0,245.8 497.2,244.6 498.3,243.1 499.5,241.3 500.6,239.1 501.7,236.5 502.9,233.5 504.0,230.0 505.2,225.8 506.3,221.1 507.4,215.7 508.6,209.6 509.7,202.8 510.9,195.3 512.0,187.1 513.2,178.2 514.3,168.6 515.4,158.5 516.6,147.9 517.7,137.0 518.9,125.8 520.0,114.5 521.1,103.3 522.3,92.4 523.4,82.0 524.6,72.2 525.7,63.3 526.9,55.3 528.0,48.6 529.1,43.2 530.3,39.3 531.4,36.9 532.6,36.1 533.7,36.9 534.8,39.3 536.0,43.2 537.1,48.6 538.3,55.3 539.4,63.3 540.6,72.2 541.7,82.0 542.8,92.4 544.0,103.3 545.1,114.5 546.3,125.8 547.4,137.0 548.6,147.9 549.7,158.5 550.8,168.6 552.0,178.2 553.1,187.1 554.3,195.3 555.4,202.8 556.5,209.6 557.7,215.7 558.8,221.1 560.0,225.8 561.1,230.0 562.3,233.5 563.4,236.5 564.5,239.1 565.7,241.3 566.8,243.1 568.0,244.6 569.1,245.8 570.2,246.8 571.4,247.5 572.5,248.2 573.7,248.7 574.8,249.1 576.0,249.4 577.1,249.6 578.2,249.8"/>
<polyline points="485.8,249.8 487.0,249.6 488.1,249.4 489.2,249.1 490.4,248.7 491.5,248.2 492.6,247.5 493.8,246.7 494.9,245.8 496.0,244.5 497.1,243.0 498.3,241.2 499.4,239.1 500.5,236.5 501.7,233.4 502.8,229.8 503.9,225.7 505.1,220.9 506.2,215.4 507.3,209.3 508.5,202.5 509.6,194.9 510.7,186.6 511.9,177.6 513.0,167.9 514.1,157.7 515.2,147.0 516.4,135.9 517.5,124.6 518.6,113.2 519.8,101.9 520.9,90.9 522.0,80.3 523.2,70.4 524.3,61.4 525.4,53.4 526.6,46.5 527.7,41.1 528.8,37.1 530.0,34.7 531.1,33.9 532.2,34.7 533.3,37.1 534.5,41.1 535.6,46.5 536.7,53.4 537.9,61.4 539.0,70.4 540.1,80.3 541.3,90.9 542.4,101.9 543.5,113.2 544.7,124.6 545.8,135.9 546.9,147.0 548.1,157.7 549.2,167.9 550.3,177.6 551.4,186.6 552.6,194.9 553.7,202.5 554.8,209.3 556.0,215.4 557.1,220.9 558.2,225.7 559.4,229.8 560.5,233.4 561.6,236.5 562.8,239.1 563.9,241.2 565.0,243.0 566.1,244.5 567.3,245.8 568.4,246.7 569.5,247.5 570.7,248.2 571.8,248.7 572.9,249.1 574.1,249.4 575.2,249.6 576.3,249.8"/>
<polyline points="488.4,249.8 489.5,249.6 490.6,249.4 491.7,249.1 492.9,248.7 494.0,248.2 495.1,247.5 496.2,246.7 497.4,245.7 498.5,244.5 499.6,243.0 500.7,241.2 501.8,239.0 503.0,236.4 504.1,233.3 505.2,229.7 506.3,225.5 507.4,220.7 508.6,215.2 509.7,209.0 510.8,202.1 511.9,194.4 513.0,186.0 514.2,177.0 515.3,167.2 516.4,156.9 517.5,146.1 518.6,134.9 519.8,123.4 520.9,111.9 522.0,100.5 523.1,89.3 524.2,78.6 525.4,68.6 526.5,59.5 527.6,51.4 528.7,44.5 529.8,39.0 531.0,34.9 532.1,32.5 533.2,31.7 534.3,32.5 535.5,34.9 536.6,39.0 537.7,44.5 538.8,51.4 539.9,59.5 541.1,68.6 542.2,78.6 543.3,89.3 544.4,100.5 545.5,111.9 546.7,123.4 547.8,134.9 548.9,146.1 550.0,156.9 551.1,167.2 552.3,177.0 553.4,186.0 554.5,194.4 555.6,202.1 556.7,209.0 557.9,215.2 559.0,220.7 560.1,225.5 561.2,229.7 562.3,233.3 563.5,236.4 564.6,239.0 565.7,241.2 566.8,243.0 567.9,244.5 569.1,245.7 570.2,246.7 571.3,247.5 572.4,248.2 573.6,248.7 574.7,249.1 575.8,249.4 576.9,249.6 578.0,249.8"/>
<polyline points="489.3,249.8 490.4,249.6 491.5,249.4 492.6,249.1 493.8,248.7 494.9,248.2 496.0,247.5 497.1,246.7 498.2,245.7 499.4,244.5 500.5,243.0 501.6,241.2 502.7,239.0 503.9,236.4 505.0,233.3 506.1,229.7 507.2,225.6 508.4,220.8 509.5,215.3 510.6,209.1 511.7,202.2 512.9,194.6 514.0,186.2 515.1,177.2 516.2,167.4 517.4,157.2 518.5,146.4 519.6,135.2 520.7,123.8 521.9,112.3 523.0,100.9 524.1,89.8 525.2,79.2 526.3,69.2 527.5,60.1 528.6,52.0 529.7,45.2 530.8,39.7 532.0,35.7 533.1,33.2 534.2,32.4 535.3,33.2 536.5,35.7 537.6,39.7 538.7,45.2 539.8,52.0 541.0,60.1 542.1,69.2 543.2,79.2 544.3,89.8 545.5,100.9 546.6,112.3 547.7,123.8 548.8,135.2 550.0,146.4 551.1,157.2 552.2,167.4 553.3,177.2 554.5,186.2 555.6,194.6 556.7,202.2 557.8,209.1 558.9,215.3 560.1,220.8 561.2,225.6 562.3,229.7 563.4,233.3 564.6,236.4 565.7,239.0 566.8,241.2 567.9,243.0 569.1,244.5 570.2,245.7 571.3,246.7 572.4,247.5 573.6,248.2 574.7,248.7 575.8,249.1 576.9,249.4 578.1,249.6 579.2,249.8"/>
<polyline points="470.3,249.8 471.9,249.6 473.5,249.4 475.0,249.1 476.6,248.8 478.2,248.3 479.8,247.8 481.4,247.1 483.0,246.3 484.6,245.3 486.1,244.1 487.7,242.7 489.3,241.0 490.9,239.0 492.5,236.7 494.1,234.0 495.7,230.9 497.2,227.3 498.8,223.4 500.4,218.9 502.0,214.0 503.6,208.7 505.2,202.8 506.8,196.6 508.4,189.9 509.9,182.9 511.5,175.6 513.1,168.1 514.7,160.5 516.3,152.9 517.9,145.3 519.5,138.0 521.0,131.1 522.6,124.6 524.2,118.6 525.8,113.4 527.4,109.0 529.0,105.4 530.6,102.8 532.1,101.3 533.7,100.7 535.3,101.3 536.9,102.8 538.5,105.4 540.1,109.0 541.7,113.4 543.2,118.6 544.8,124.6 546.4,131.1 548.0,138.0 549.6,145.3 551.2,152.9 552.8,160.5 554.3,168.1 555.9,175.6 557.5,182.9 559.1,189.9 560.7,196.6 562.3,202.8 563.9,208.7 565.4,214.0 567.0,218.9 568.6,223.4 570.2,227.3 571.8,230.9 573.4,234.0 575.0,236.7 576.5,239.0 578.1,241.0 579.7,242.7 581.3,244.1 582.9,245.3 584.5,246.3 586.1,247.1 587.6,247.8 589.2,248.3 590.8,248.8 592.4,249.1 594.0,249.4 595.6,249.6 597.2,249.8"/>
<polyline points="469.2,249.8 470.8,249.6 472.4,249.4 473.9,249.1 475.5,248.8 477.0,248.3 478.6,247.8 480.2,247.1 481.7,246.3 483.3,245.3 484.9,244.1 486.4,242.6 488.0,240.9 489.5,238.9 491.1,236.5 492.7,233.8 494.2,230.6 495.8,227.1 497.3,223.0 498.9,218.6 500.5,213.6 502.0,208.1 503.6,202.2 505.2,195.8 506.7,189.0 508.3,181.9 509.8,174.5 511.4,166.9 513.0,159.1 514.5,151.3 516.1,143.7 517.6,136.2 519.2,129.1 520.8,122.5 522.3,116.5 523.9,111.1 525.5,106.6 527.0,103.0 528.6,100.3 530.1,98.7 531.7,98.2 533.3,98.7 534.8,100.3 536.4,103.0 538.0,106.6 539.5,111.1 541.1,116.5 542.6,122.5 544.2,129.1 545.8,136.2 547.3,143.7 548.9,151.3 550.4,159.1 552.0,166.9 553.6,174.5 555.1,181.9 556.7,189.0 558.3,195.8 559.8,202.2 561.4,208.1 562.9,213.6 564.5,218.6 566.1,223.0 567.6,227.1 569.2,230.6 570.7,233.8 572.3,236.5 573.9,238.9 575.4,240.9 577.0,242.6 578.6,244.1 580.1,245.3 581.7,246.3 583.2,247.1 584.8,247.8 586.4,248.3 587.9,248.8 589.5,249.1 591.1,249.4 592.6,249.6 594.2,249.8"/>
<polyline points="472.8,249.8 474.3,249.6 475.8,249.4 477.3,249.1 478.8,248.8 480.3,248.3 481.7,247.8 483.2,247.1 484.7,246.2 486.2,245.2 487.7,243.9 489.2,242.4 490.6,240.6 492.1,238.5 493.6,236.1 495.1,233.2 496.6,229.9 498.1,226.2 499.6,222.0 501.0,217.3 502.5,212.0 504.0,206.3 505.5,200.0 507.0,193.3 508.5,186.1 510.0,178.6 511.4,170.7 512.9,162.6 514.4,154.4 515.9,146.2 517.4,138.0 518.9,130.1 520.4,122.6 521.8,115.5 523.3,109.1 524.8,103.4 526.3,98.5 527.8,94.7 529.3,91.9 530.8,90.2 532.2,89.6 533.7,90.2 535.2,91.9 536.7,94.7 538.2,98.5 539.7,103.4 541.1,109.1 542.6,115.5 544.1,122.6 545.6,130.1 547.1,138.0 548.6,146.2 550.1,154.4 551.5,162.6 553.0,170.7 554.5,178.6 556.0,186.1 557.5,193.3 559.0,200.0 560.5,206.3 561.9,212.0 563.4,217.3 564.9,222.0 566.4,226.2 567.9,229.9 569.4,233.2 570.9,236.1 572.3,238.5 573.8,240.6 575.3,242.4 576.8,243.9 578.3,245.2 579.8,246.2 581.2,247.1 582.7,247.8 584.2,248.3 585.7,248.8 587.2,249.1 588.7,249.4 590.2,249.6 591.6,249.8"/>
<polyline points="469.6,249.8 471.2,249.6 472.8,249.4 474.3,249.1 475.9,248.8 477.5,248.3 479.1,247.8 480.7,247.1 482.2,246.3 483.8,245.3 485.4,244.1 487.0,242.7 488.6,241.0 490.2,239.0 491.7,236.6 493.3,233.9 494.9,230.8 496.5,227.3 498.1,223.3 499.7,218.9 501.2,214.0 502.8,208.6 504.4,202.8 506.0,196.5 507.6,189.8 509.2,182.8 510.7,175.5 512.3,167.9 513.9,160.3 515.5,152.7 517.1,145.1 518.7,137.8 520.2,130.8 521.8,124.3 523.4,118.4 525.0,113.1 526.6,108.7 528.2,105.1 529.7,102.5 531.3,101.0 532.9,100.4 534.5,101.0 536.1,102.5 537.7,105.1 539.2,108.7 540.8,113.1 542.4,118.4 544.0,124.3 545.6,130.8 547.1,137.8 548.7,145.1 550.3,152.7 551.9,160.3 553.5,167.9 555.1,175.5 556.6,182.8 558.2,189.8 559.8,196.5 561.4,202.8 563.0,208.6 564.6,214.0 566.1,218.9 567.7,223.3 569.3,227.3 570.9,230.8 572.5,233.9 574.1,236.6 575.6,239.0 577.2,241.0 578.8,242.7 580.4,244.1 582.0,245.3 583.6,246.3 585.1,247.1 586.7,247.8 588.3,248.3 589.9,248.8 591.5,249.1 593.1,249.4 594.6,249.6 596.2,249.8"/>
<polyline points="472.4,249.8 473.9,249.6 475.5,249.4 477.1,249.1 478.6,248.8 480.2,248.3 481.8,247.8 483.4,247.1 484.9,246.3 486.5,245.3 488.1,244.1 489.7,242.7 491.2,241.0 492.8,238.9 494.4,236.6 496.0,233.9 497.5,230.7 499.1,227.2 500.7,223.2 502.2,218.7 503.8,213.8 505.4,208.4 507.0,202.5 508.5,196.2 510.1,189.5 511.7,182.4 513.3,175.0 514.8,167.5 516.4,159.8 518.0,152.1 519.6,144.5 521.1,137.1 522.7,130.1 524.3,123.5 525.8,117.5 527.4,112.2 529.0,107.8 530.6,104.2 532.1,101.6 533.7,100.0 535.3,99.4 536.9,100.0 538.4,101.6 540.0,104.2 541.6,107.8 543.2,112.2 544.7,117.5 546.3,123.5 547.9,130.1 549.4,137.1 551.0,144.5 552.6,152.1 554.2,159.8 555.7,167.5 557.3,175.0 558.9,182.4 560.5,189.5 562.0,196.2 563.6,202.5 565.2,208.4 566.8,213.8 568.3,218.7 569.9,223.2 571.5,227.2 573.0,230.7 574.6,233.9 576.2,236.6 577.8,238.9 579.3,241.0 580.9,242.7 582.5,244.1 584.1,245.3 585.6,246.3 587.2,247.1 588.8,247.8 590.4,248.3 591.9,248.8 593.5,249.1 595.1,249.4 596.6,249.6 598.2,249.8"/>
<polyline points="471.1,249.8 472.6,249.6 474.2,249.4 475.8,249.1 477.3,248.8 478.9,248.3 480.4,247.8 482.0,247.1 483.5,246.3 485.1,245.3 486.6,244.1 488.2,242.6 489.8,240.9 491.3,238.9 492.9,236.5 494.4,233.7 496.0,230.6 497.5,227.0 499.1,223.0 500.6,218.5 502.2,213.5 503.8,208.0 505.3,202.0 506.9,195.6 508.4,188.8 510.0,181.7 511.5,174.2 513.1,166.5 514.7,158.8 516.2,151.0 517.8,143.2 519.3,135.8 520.9,128.6 522.4,122.0 524.0,115.9 525.5,110.5 527.1,106.0 528.7,102.4 530.2,99.7 531.8,98.1 533.3,97.5 534.9,98.1 536.4,99.7 538.0,102.4 539.5,106.0 541.1,110.5 542.7,115.9 544.2,122.0 545.8,128.6 547.3,135.8 548.9,143.2 550.4,151.0 552.0,158.8 553.5,166.5 555.1,174.2 556.7,181.7 558.2,188.8 559.8,195.6 561.3,202.0 562.9,208.0 564.4,213.5 566.0,218.5 567.5,223.0 569.1,227.0 570.7,230.6 572.2,233.7 573.8,236.5 575.3,238.9 576.9,240.9 578.4,242.6 580.0,244.1 581.5,245.3 583.1,246.3 584.7,247.1 586.2,247.8 587.8,248.3 589.3,248.8 590.9,249.1 592.4,249.4 594.0,249.6 595.5,249.8"/>
<polyline points="466.8,249.8 468.5,249.6 470.1,249.4 471.8,249.1 473.4,248.8 475.1,248.4 476.7,247.8 478.3,247.2 480.0,246.4 481.6,245.4 483.3,244.2 484.9,242.8 486.6,241.2 488.2,239.3 489.9,237.0 491.5,234.4 493.2,231.4 494.8,228.0 496.5,224.2 498.1,219.9 499.8,215.2 501.4,210.0 503.1,204.4 504.7,198.4 506.4,192.1 508.0,185.4 509.7,178.4 511.3,171.2 513.0,164.0 514.6,156.7 516.3,149.5 517.9,142.6 519.6,135.9 521.2,129.7 522.9,124.1 524.5,119.1 526.2,114.9 527.8,111.5 529.5,109.1 531.1,107.6 532.8,107.1 534.4,107.6 536.1,109.1 537.7,111.5 539.4,114.9 541.0,119.1 542.7,124.1 544.3,129.7 546.0,135.9 547.6,142.6 549.3,149.5 550.9,156.7 552.6,164.0 554.2,171.2 555.9,178.4 557.5,185.4 559.2,192.1 560.8,198.4 562.5,204.4 564.1,210.0 565.8,215.2 567.4,219.9 569.1,224.2 570.7,228.0 572.4,231.4 574.0,234.4 575.7,237.0 577.3,239.3 579.0,241.2 580.6,242.8 582.3,244.2 583.9,245.4 585.6,246.4 587.2,247.2 588.9,247.8 590.5,248.4 592.2,248.8 593.8,249.1 595.5,249.4 597.1,249.6 598.8,249.8"/>
<polyline points="471.4,249.8 473.0,249.6 474.6,249.4 476.1,249.1 477.7,248.8 479.3,248.3 480.8,247.8 482.4,247.1 484.0,246.3 485.6,245.3 487.1,244.1 488.7,242.7 490.3,240.9 491.9,238.9 493.4,236.6 495.0,233.9 496.6,230.7 498.1,227.2 499.7,223.2 501.3,218.7 502.9,213.8 504.4,208.4 506.0,202.5 507.6,196.2 509.1,189.4 510.7,182.3 512.3,175.0 513.9,167.4 515.4,159.7 517.0,152.0 518.6,144.4 520.2,137.0 521.7,130.0 523.3,123.4 524.9,117.4 526.4,112.1 528.0,107.7 529.6,104.1 531.2,101.5 532.7,99.9 534.3,99.3 535.9,99.9 537.5,101.5 539.0,104.1 540.6,107.7 542.2,112.1 543.7,117.4 545.3,123.4 546.9,130.0 548.5,137.0 550.0,144.4 551.6,152.0 553.2,159.7 554.8,167.4 556.3,175.0 557.9,182.3 559.5,189.4 561.0,196.2 562.6,202.5 564.2,208.4 565.8,213.8 567.3,218.7 568.9,223.2 570.5,227.2 572.0,230.7 573.6,233.9 575.2,236.6 576.8,238.9 578.3,240.9 579.9,242.7 581.5,244.1 583.1,245.3 584.6,246.3 586.2,247.1 587.8,247.8 589.3,248.3 590.9,248.8 592.5,249.1 594.1,249.4 595.6,249.6 597.2,249.8"/>
<polyline points="470.7,249.8 472.3,249.6 473.8,249.4 475.4,249.1 476.9,248.8 478.5,248.3 480.0,247.8 481.6,247.1 483.1,246.3 484.6,245.3 486.2,244.1 487.7,242.6 489.3,240.9 490.8,238.8 492.4,236.4 493.9,233.7 495.5,230.5 497.0,226.9 498.6,222.8 500.1,218.3 501.7,213.3 503.2,207.8 504.7,201.8 506.3,195.3 507.8,188.5 509.4,181.3 510.9,173.8 512.5,166.0 514.0,158.2 515.6,150.3 517.1,142.6 518.7,135.1 520.2,127.9 521.8,121.2 523.3,115.0 524.9,109.6 526.4,105.1 527.9,101.4 529.5,98.7 531.0,97.1 532.6,96.5 534.1,97.1 535.7,98.7 537.2,101.4 538.8,105.1 540.3,109.6 541.9,115.0 543.4,121.2 545.0,127.9 546.5,135.1 548.0,142.6 549.6,150.3 551.1,158.2 552.7,166.0 554.2,173.8 555.8,181.3 557.3,188.5 558.9,195.3 560.4,201.8 562.0,207.8 563.5,213.3 565.1,218.3 566.6,222.8 568.2,226.9 569.7,230.5 571.2,233.7 572.8,236.4 574.3,238.8 575.9,240.9 577.4,242.6 579.0,244.1 580.5,245.3 582.1,246.3 583.6,247.1 585.2,247.8 586.7,248.3 588.3,248.8 589.8,249.1 591.3,249.4 592.9,249.6 594.4,249.8"/>
<polyline points="474.2,249.8 475.7,249.6 477.2,249.4 478.7,249.1 480.2,248.8 481.7,248.3 483.2,247.8 484.7,247.1 486.2,246.2 487.8,245.2 489.3,244.0 490.8,242.5 492.3,240.7 493.8,238.7 495.3,236.2 496.8,233.4 498.3,230.2 499.9,226.5 501.4,222.4 502.9,217.7 504.4,212.6 505.9,206.9 507.4,200.8 508.9,194.2 510.4,187.2 511.9,179.8 513.5,172.1 515.0,164.2 516.5,156.1 518.0,148.0 519.5,140.1 521.0,132.3 522.5,124.9 524.0,118.0 525.6,111.7 527.1,106.2 528.6,101.4 530.1,97.7 531.6,94.9 533.1,93.2 534.6,92.7 536.1,93.2 537.7,94.9 539.2,97.7 540.7,101.4 542.2,106.2 543.7,111.7 545.2,118.0 546.7,124.9 548.2,132.3 549.7,140.1 551.3,148.0 552.8,156.1 554.3,164.2 555.8,172.1 557.3,179.8 558.8,187.2 560.3,194.2 561.8,200.8 563.4,206.9 564.9,212.6 566.4,217.7 567.9,222.4 569.4,226.5 570.9,230.2 572.4,233.4 573.9,236.2 575.4,238.7 577.0,240.7 578.5,242.5 580.0,244.0 581.5,245.2 583.0,246.2 584.5,247.1 586.0,247.8 587.5,248.3 589.1,248.8 590.6,249.1 592.1,249.4 593.6,249.6 595.1,249.8"/>
<polyline points="465.1,249.8 466.7,249.6 468.4,249.4 470.1,249.1 471.7,248.8 473.4,248.4 475.1,247.8 476.8,247.2 478.4,246.4 480.1,245.4 481.8,244.3 483.4,242.9 485.1,241.3 486.8,239.3 488.5,237.1 490.1,234.5 491.8,231.6 493.5,228.2 495.2,224.4 496.8,220.2 498.5,215.6 500.2,210.5 501.8,205.0 503.5,199.1 505.2,192.8 506.9,186.2 508.5,179.3 510.2,172.3 511.9,165.1 513.6,158.0 515.2,150.9 516.9,144.1 518.6,137.6 520.2,131.5 521.9,125.9 523.6,121.0 525.3,116.9 526.9,113.6 528.6,111.2 530.3,109.7 531.9,109.2 533.6,109.7 535.3,111.2 537.0,113.6 538.6,116.9 540.3,121.0 542.0,125.9 543.7,131.5 545.3,137.6 547.0,144.1 548.7,150.9 550.3,158.0 552.0,165.1 553.7,172.3 555.4,179.3 557.0,186.2 558.7,192.8 560.4,199.1 562.1,205.0 563.7,210.5 565.4,215.6 567.1,220.2 568.7,224.4 570.4,228.2 572.1,231.6 573.8,234.5 575.4,237.1 577.1,239.3 578.8,241.3 580.5,242.9 582.1,244.3 583.8,245.4 585.5,246.4 587.1,247.2 588.8,247.8 590.5,248.4 592.2,248.8 593.8,249.1 595.5,249.4 597.2,249.6 598.8,249.8"/>
<polyline points="467.3,249.8 469.0,249.6 470.6,249.4 472.2,249.1 473.8,248.8 475.4,248.4 477.1,247.8 478.7,247.2 480.3,246.4 481.9,245.4 483.5,244.2 485.2,242.8 486.8,241.1 488.4,239.1 490.0,236.8 491.7,234.2 493.3,231.2 494.9,227.7 496.5,223.8 498.1,219.5 499.8,214.7 501.4,209.4 503.0,203.7 504.6,197.6 506.2,191.1 507.9,184.3 509.5,177.1 511.1,169.8 512.7,162.4 514.3,155.0 516.0,147.7 517.6,140.6 519.2,133.8 520.8,127.4 522.4,121.7 524.1,116.6 525.7,112.3 527.3,108.8 528.9,106.3 530.5,104.8 532.2,104.3 533.8,104.8 535.4,106.3 537.0,108.8 538.7,112.3 540.3,116.6 541.9,121.7 543.5,127.4 545.1,133.8 546.8,140.6 548.4,147.7 550.0,155.0 551.6,162.4 553.2,169.8 554.9,177.1 556.5,184.3 558.1,191.1 559.7,197.6 561.3,203.7 563.0,209.4 564.6,214.7 566.2,219.5 567.8,223.8 569.4,227.7 571.1,231.2 572.7,234.2 574.3,236.8 575.9,239.1 577.6,241.1 579.2,242.8 580.8,244.2 582.4,245.4 584.0,246.4 585.7,247.2 587.3,247.8 588.9,248.4 590.5,248.8 592.1,249.1 593.8,249.4 595.4,249.6 597.0,249.8"/>
<polyline points="466.5,249.8 468.2,249.6 469.8,249.4 471.5,249.1 473.2,248.8 474.9,248.4 476.5,247.8 478.2,247.2 479.9,246.4 481.6,245.4 483.2,244.3 484.9,242.9 486.6,241.3 488.2,239.3 489.9,237.1 491.6,234.5 493.3,231.6 494.9,228.2 496.6,224.5 498.3,220.2 500.0,215.6 501.6,210.5 503.3,205.0 505.0,199.1 506.7,192.8 508.3,186.2 510.0,179.4 511.7,172.3 513.3,165.2 515.0,158.0 516.7,151.0 518.4,144.1 520.0,137.6 521.7,131.5 523.4,126.0 525.1,121.1 526.7,117.0 528.4,113.7 530.1,111.3 531.8,109.8 533.4,109.3 535.1,109.8 536.8,111.3 538.4,113.7 540.1,117.0 541.8,121.1 543.5,126.0 545.1,131.5 546.8,137.6 548.5,144.1 550.2,151.0 551.8,158.0 553.5,165.2 555.2,172.3 556.9,179.4 558.5,186.2 560.2,192.8 561.9,199.1 563.5,205.0 565.2,210.5 566.9,215.6 568.6,220.2 570.2,224.5 571.9,228.2 573.6,231.6 575.3,234.5 576.9,237.1 578.6,239.3 580.3,241.3 582.0,242.9 583.6,244.3 585.3,245.4 587.0,246.4 588.6,247.2 590.3,247.8 592.0,248.4 593.7,248.8 595.3,249.1 597.0,249.4 598.7,249.6 600.4,249.8"/>
<polyline points="473.8,249.8 475.3,249.6 476.8,249.4 478.4,249.1 479.9,248.8 481.4,248.3 482.9,247.8 484.4,247.1 485.9,246.2 487.4,245.2 488.9,244.0 490.4,242.5 491.9,240.7 493.4,238.6 494.9,236.2 496.5,233.4 498.0,230.2 499.5,226.5 501.0,222.3 502.5,217.7 504.0,212.5 505.5,206.9 507.0,200.7 508.5,194.1 510.0,187.1 511.5,179.6 513.1,171.9 514.6,164.0 516.1,155.9 517.6,147.8 519.1,139.8 520.6,132.0 522.1,124.6 523.6,117.7 525.1,111.4 526.6,105.8 528.1,101.1 529.6,97.3 531.2,94.5 532.7,92.9 534.2,92.3 535.7,92.9 537.2,94.5 538.7,97.3 540.2,101.1 541.7,105.8 543.2,111.4 544.7,117.7 546.2,124.6 547.7,132.0 549.3,139.8 550.8,147.8 552.3,155.9 553.8,164.0 555.3,171.9 556.8,179.6 558.3,187.1 559.8,194.1 561.3,200.7 562.8,206.9 564.3,212.5 565.8,217.7 567.4,222.3 568.9,226.5 570.4,230.2 571.9,233.4 573.4,236.2 574.9,238.6 576.4,240.7 577.9,242.5 579.4,244.0 580.9,245.2 582.4,246.2 583.9,247.1 585.5,247.8 587.0,248.3 588.5,248.8 590.0,249.1 591.5,249.4 593.0,249.6 594.5,249.8"/>
<polyline points="472.0,249.8 473.6,249.6 475.1,249.4 476.6,249.1 478.2,248.8 479.7,248.3 481.2,247.8 482.8,247.1 484.3,246.3 485.8,245.3 487.4,244.0 488.9,242.6 490.4,240.8 492.0,238.8 493.5,236.4 495.0,233.6 496.6,230.4 498.1,226.8 499.6,222.7 501.2,218.1 502.7,213.0 504.2,207.4 505.8,201.4 507.3,194.9 508.8,188.0 510.4,180.7 511.9,173.1 513.4,165.3 515.0,157.4 516.5,149.4 518.0,141.6 519.6,134.0 521.1,126.7 522.6,119.9 524.2,113.7 525.7,108.3 527.2,103.6 528.8,99.9 530.3,97.2 531.8,95.6 533.4,95.0 534.9,95.6 536.4,97.2 538.0,99.9 539.5,103.6 541.0,108.3 542.6,113.7 544.1,119.9 545.6,126.7 547.2,134.0 548.7,141.6 550.2,149.4 551.8,157.4 553.3,165.3 554.8,173.1 556.3,180.7 557.9,188.0 559.4,194.9 560.9,201.4 562.5,207.4 564.0,213.0 565.5,218.1 567.1,222.7 568.6,226.8 570.1,230.4 571.7,233.6 573.2,236.4 574.7,238.8 576.3,240.8 577.8,242.6 579.3,244.0 580.9,245.3 582.4,246.3 583.9,247.1 585.5,247.8 587.0,248.3 588.5,248.8 590.1,249.1 591.6,249.4 593.1,249.6 594.7,249.8"/>
<polyline points="465.6,249.8 467.2,249.6 468.9,249.4 470.6,249.1 472.3,248.8 474.0,248.4 475.7,247.9 477.4,247.2 479.0,246.4 480.7,245.5 482.4,244.3 484.1,242.9 485.8,241.3 487.5,239.4 489.2,237.2 490.8,234.6 492.5,231.7 494.2,228.3 495.9,224.6 497.6,220.4 499.3,215.8 501.0,210.8 502.6,205.3 504.3,199.4 506.0,193.2 507.7,186.7 509.4,179.9 511.1,172.9 512.8,165.8 514.4,158.7 516.1,151.7 517.8,145.0 519.5,138.5 521.2,132.5 522.9,127.0 524.6,122.2 526.2,118.1 527.9,114.8 529.6,112.4 531.3,110.9 533.0,110.4 534.7,110.9 536.4,112.4 538.0,114.8 539.7,118.1 541.4,122.2 543.1,127.0 544.8,132.5 546.5,138.5 548.2,145.0 549.8,151.7 551.5,158.7 553.2,165.8 554.9,172.9 556.6,179.9 558.3,186.7 560.0,193.2 561.6,199.4 563.3,205.3 565.0,210.8 566.7,215.8 568.4,220.4 570.1,224.6 571.8,228.3 573.4,231.7 575.1,234.6 576.8,237.2 578.5,239.4 580.2,241.3 581.9,242.9 583.6,244.3 585.3,245.5 586.9,246.4 588.6,247.2 590.3,247.9 592.0,248.4 593.7,248.8 595.4,249.1 597.1,249.4 598.7,249.6 600.4,249.8"/>
<polyline points="471.8,249.8 473.3,249.6 474.8,249.4 476.2,249.1 477.7,248.8 479.2,248.3 480.6,247.8 482.1,247.1 483.6,246.2 485.1,245.2 486.5,243.9 488.0,242.4 489.5,240.6 491.0,238.5 492.4,236.0 493.9,233.1 495.4,229.8 496.9,226.1 498.3,221.8 499.8,217.1 501.3,211.8 502.8,206.0 504.2,199.7 505.7,192.9 507.2,185.7 508.6,178.1 510.1,170.1 511.6,162.0 513.1,153.7 514.5,145.4 516.0,137.1 517.5,129.1 519.0,121.5 520.4,114.4 521.9,107.9 523.4,102.1 524.9,97.3 526.3,93.4 527.8,90.5 529.3,88.8 530.8,88.2 532.2,88.8 533.7,90.5 535.2,93.4 536.6,97.3 538.1,102.1 539.6,107.9 541.1,114.4 542.5,121.5 544.0,129.1 545.5,137.1 547.0,145.4 548.4,153.7 549.9,162.0 551.4,170.1 552.9,178.1 554.3,185.7 555.8,192.9 557.3,199.7 558.8,206.0 560.2,211.8 561.7,217.1 563.2,221.8 564.6,226.1 566.1,229.8 567.6,233.1 569.1,236.0 570.5,238.5 572.0,240.6 573.5,242.4 575.0,243.9 576.4,245.2 577.9,246.2 579.4,247.1 580.9,247.8 582.3,248.3 583.8,248.8 585.3,249.1 586.8,249.4 588.2,249.6 589.7,249.8"/>
<polyline points="472.8,249.8 474.3,249.6 475.8,249.4 477.3,249.1 478.7,248.8 480.2,248.3 481.7,247.8 483.2,247.1 484.7,246.2 486.1,245.2 487.6,243.9 489.1,242.4 490.6,240.6 492.0,238.5 493.5,236.0 495.0,233.2 496.5,229.9 497.9,226.1 499.4,221.9 500.9,217.1 502.4,211.9 503.9,206.1 505.3,199.8 506.8,193.0 508.3,185.8 509.8,178.2 511.2,170.3 512.7,162.2 514.2,153.9 515.7,145.6 517.1,137.4 518.6,129.4 520.1,121.8 521.6,114.7 523.1,108.2 524.5,102.5 526.0,97.7 527.5,93.8 529.0,90.9 530.4,89.2 531.9,88.6 533.4,89.2 534.9,90.9 536.4,93.8 537.8,97.7 539.3,102.5 540.8,108.2 542.3,114.7 543.7,121.8 545.2,129.4 546.7,137.4 548.2,145.6 549.6,153.9 551.1,162.2 552.6,170.3 554.1,178.2 555.6,185.8 557.0,193.0 558.5,199.8 560.0,206.1 561.5,211.9 562.9,217.1 564.4,221.9 565.9,226.1 567.4,229.9 568.8,233.2 570.3,236.0 571.8,238.5 573.3,240.6 574.8,242.4 576.2,243.9 577.7,245.2 579.2,246.2 580.7,247.1 582.1,247.8 583.6,248.3 585.1,248.8 586.6,249.1 588.1,249.4 589.5,249.6 591.0,249.8"/>
<polyline points="470.4,249.8 471.9,249.6 473.5,249.4 475.0,249.1 476.5,248.8 478.1,248.3 479.6,247.8 481.2,247.1 482.7,246.3 484.2,245.3 485.8,244.0 487.3,242.6 488.9,240.8 490.4,238.8 492.0,236.4 493.5,233.6 495.0,230.5 496.6,226.8 498.1,222.8 499.7,218.2 501.2,213.2 502.7,207.6 504.3,201.6 505.8,195.2 507.4,188.3 508.9,181.1 510.5,173.5 512.0,165.8 513.5,157.9 515.1,150.0 516.6,142.2 518.2,134.6 519.7,127.4 521.2,120.7 522.8,114.5 524.3,109.1 525.9,104.5 527.4,100.8 528.9,98.2 530.5,96.5 532.0,96.0 533.6,96.5 535.1,98.2 536.7,100.8 538.2,104.5 539.7,109.1 541.3,114.5 542.8,120.7 544.4,127.4 545.9,134.6 547.4,142.2 549.0,150.0 550.5,157.9 552.1,165.8 553.6,173.5 555.1,181.1 556.7,188.3 558.2,195.2 559.8,201.6 561.3,207.6 562.9,213.2 564.4,218.2 565.9,222.8 567.5,226.8 569.0,230.5 570.6,233.6 572.1,236.4 573.6,238.8 575.2,240.8 576.7,242.6 578.3,244.0 579.8,245.3 581.3,246.3 582.9,247.1 584.4,247.8 586.0,248.3 587.5,248.8 589.1,249.1 590.6,249.4 592.1,249.6 593.7,249.8"/>
<polyline points="470.1,249.8 471.7,249.6 473.2,249.4 474.8,249.1 476.3,248.8 477.9,248.3 479.4,247.8 481.0,247.1 482.5,246.3 484.1,245.3 485.6,244.1 487.2,242.6 488.7,240.9 490.3,238.8 491.8,236.5 493.4,233.7 494.9,230.5 496.5,226.9 498.0,222.9 499.6,218.4 501.1,213.3 502.7,207.8 504.2,201.9 505.8,195.4 507.3,188.6 508.9,181.4 510.4,173.9 512.0,166.2 513.5,158.4 515.1,150.6 516.6,142.8 518.2,135.3 519.7,128.1 521.3,121.4 522.8,115.3 524.4,109.9 525.9,105.4 527.5,101.7 529.0,99.0 530.6,97.4 532.1,96.9 533.7,97.4 535.2,99.0 536.8,101.7 538.3,105.4 539.9,109.9 541.4,115.3 543.0,121.4 544.5,128.1 546.1,135.3 547.6,142.8 549.2,150.6 550.7,158.4 552.3,166.2 553.8,173.9 555.4,181.4 556.9,188.6 558.5,195.4 560.0,201.9 561.5,207.8 563.1,213.3 564.6,218.4 566.2,222.9 567.7,226.9 569.3,230.5 570.8,233.7 572.4,236.5 573.9,238.8 575.5,240.9 577.0,242.6 578.6,244.1 580.1,245.3 581.7,246.3 583.2,247.1 584.8,247.8 586.3,248.3 587.9,248.8 589.4,249.1 591.0,249.4 592.5,249.6 594.1,249.8"/>
<polyline points="467.0,249.8 468.7,249.6 470.3,249.4 472.0,249.1 473.7,248.8 475.3,248.4 477.0,247.8 478.6,247.2 480.3,246.4 481.9,245.4 483.6,244.3 485.2,242.9 486.9,241.2 488.6,239.3 490.2,237.0 491.9,234.4 493.5,231.4 495.2,228.1 496.8,224.2 498.5,220.0 500.2,215.3 501.8,210.2 503.5,204.6 505.1,198.6 506.8,192.3 508.4,185.6 510.1,178.7 511.8,171.5 513.4,164.3 515.1,157.1 516.7,149.9 518.4,143.0 520.0,136.4 521.7,130.3 523.3,124.6 525.0,119.7 526.7,115.5 528.3,112.1 530.0,109.7 531.6,108.2 533.3,107.7 534.9,108.2 536.6,109.7 538.3,112.1 539.9,115.5 541.6,119.7 543.2,124.6 544.9,130.3 546.5,136.4 548.2,143.0 549.9,149.9 551.5,157.1 553.2,164.3 554.8,171.5 556.5,178.7 558.1,185.6 559.8,192.3 561.4,198.6 563.1,204.6 564.8,210.2 566.4,215.3 568.1,220.0 569.7,224.2 571.4,228.1 573.0,231.4 574.7,234.4 576.4,237.0 578.0,239.3 579.7,241.2 581.3,242.9 583.0,244.3 584.6,245.4 586.3,246.4 587.9,247.2 589.6,247.8 591.3,248.4 592.9,248.8 594.6,249.1 596.2,249.4 597.9,249.6 599.5,249.8"/>
<polyline points="464.6,249.8 466.3,249.6 468.0,249.4 469.7,249.1 471.4,248.8 473.1,248.4 474.8,247.9 476.5,247.2 478.1,246.4 479.8,245.5 481.5,244.3 483.2,242.9 484.9,241.3 486.6,239.4 488.3,237.2 490.0,234.7 491.7,231.7 493.4,228.4 495.1,224.7 496.8,220.5 498.5,215.9 500.2,210.9 501.8,205.5 503.5,199.6 505.2,193.4 506.9,186.9 508.6,180.2 510.3,173.2 512.0,166.2 513.7,159.1 515.4,152.2 517.1,145.4 518.8,139.0 520.5,133.0 522.2,127.5 523.9,122.7 525.5,118.7 527.2,115.4 528.9,113.0 530.6,111.6 532.3,111.1 534.0,111.6 535.7,113.0 537.4,115.4 539.1,118.7 540.8,122.7 542.5,127.5 544.2,133.0 545.9,139.0 547.6,145.4 549.2,152.2 550.9,159.1 552.6,166.2 554.3,173.2 556.0,180.2 557.7,186.9 559.4,193.4 561.1,199.6 562.8,205.5 564.5,210.9 566.2,215.9 567.9,220.5 569.6,224.7 571.3,228.4 572.9,231.7 574.6,234.7 576.3,237.2 578.0,239.4 579.7,241.3 581.4,242.9 583.1,244.3 584.8,245.5 586.5,246.4 588.2,247.2 589.9,247.9 591.6,248.4 593.3,248.8 595.0,249.1 596.6,249.4 598.3,249.6 600.0,249.8"/>
<polyline points="470.7,249.8 472.3,249.6 473.9,249.4 475.5,249.1 477.0,248.8 478.6,248.3 480.2,247.8 481.7,247.1 483.3,246.3 484.9,245.3 486.4,244.1 488.0,242.7 489.6,240.9 491.1,238.9 492.7,236.6 494.3,233.8 495.8,230.7 497.4,227.2 499.0,223.1 500.6,218.7 502.1,213.7 503.7,208.3 505.3,202.4 506.8,196.0 508.4,189.3 510.0,182.2 511.5,174.8 513.1,167.2 514.7,159.5 516.2,151.8 517.8,144.2 519.4,136.8 520.9,129.7 522.5,123.1 524.1,117.1 525.7,111.8 527.2,107.3 528.8,103.7 530.4,101.1 531.9,99.5 533.5,98.9 535.1,99.5 536.6,101.1 538.2,103.7 539.8,107.3 541.3,111.8 542.9,117.1 544.5,123.1 546.0,129.7 547.6,136.8 549.2,144.2 550.8,151.8 552.3,159.5 553.9,167.2 555.5,174.8 557.0,182.2 558.6,189.3 560.2,196.0 561.7,202.4 563.3,208.3 564.9,213.7 566.4,218.7 568.0,223.1 569.6,227.2 571.1,230.7 572.7,233.8 574.3,236.6 575.9,238.9 577.4,240.9 579.0,242.7 580.6,244.1 582.1,245.3 583.7,246.3 585.3,247.1 586.8,247.8 588.4,248.3 590.0,248.8 591.5,249.1 593.1,249.4 594.7,249.6 596.2,249.8"/>
<polyline points="465.5,249.8 467.2,249.6 468.9,249.4 470.5,249.1 472.2,248.8 473.9,248.4 475.6,247.9 477.3,247.2 479.0,246.4 480.6,245.5 482.3,244.3 484.0,242.9 485.7,241.3 487.4,239.4 489.0,237.2 490.7,234.6 492.4,231.6 494.1,228.3 495.8,224.5 497.4,220.4 499.1,215.7 500.8,210.7 502.5,205.2 504.2,199.3 505.9,193.1 507.5,186.5 509.2,179.7 510.9,172.7 512.6,165.6 514.3,158.5 515.9,151.5 517.6,144.7 519.3,138.2 521.0,132.1 522.7,126.6 524.3,121.8 526.0,117.7 527.7,114.4 529.4,112.0 531.1,110.5 532.8,110.0 534.4,110.5 536.1,112.0 537.8,114.4 539.5,117.7 541.2,121.8 542.8,126.6 544.5,132.1 546.2,138.2 547.9,144.7 549.6,151.5 551.3,158.5 552.9,165.6 554.6,172.7 556.3,179.7 558.0,186.5 559.7,193.1 561.3,199.3 563.0,205.2 564.7,210.7 566.4,215.7 568.1,220.4 569.7,224.5 571.4,228.3 573.1,231.6 574.8,234.6 576.5,237.2 578.2,239.4 579.8,241.3 581.5,242.9 583.2,244.3 584.9,245.5 586.6,246.4 588.2,247.2 589.9,247.9 591.6,248.4 593.3,248.8 595.0,249.1 596.6,249.4 598.3,249.6 600.0,249.8"/>
<polyline points="466.4,249.8 468.0,249.6 469.7,249.4 471.3,249.1 473.0,248.8 474.6,248.4 476.3,247.8 477.9,247.2 479.6,246.4 481.2,245.4 482.9,244.2 484.5,242.8 486.2,241.2 487.8,239.2 489.5,237.0 491.1,234.4 492.8,231.4 494.4,228.0 496.1,224.2 497.7,219.9 499.4,215.2 501.0,210.0 502.7,204.4 504.3,198.4 505.9,192.0 507.6,185.3 509.2,178.3 510.9,171.2 512.5,163.9 514.2,156.6 515.8,149.4 517.5,142.5 519.1,135.8 520.8,129.6 522.4,124.0 524.1,119.0 525.7,114.8 527.4,111.4 529.0,108.9 530.7,107.4 532.3,106.9 534.0,107.4 535.6,108.9 537.3,111.4 538.9,114.8 540.6,119.0 542.2,124.0 543.9,129.6 545.5,135.8 547.2,142.5 548.8,149.4 550.5,156.6 552.1,163.9 553.7,171.2 555.4,178.3 557.0,185.3 558.7,192.0 560.3,198.4 562.0,204.4 563.6,210.0 565.3,215.2 566.9,219.9 568.6,224.2 570.2,228.0 571.9,231.4 573.5,234.4 575.2,237.0 576.8,239.2 578.5,241.2 580.1,242.8 581.8,244.2 583.4,245.4 585.1,246.4 586.7,247.2 588.4,247.8 590.0,248.4 591.7,248.8 593.3,249.1 595.0,249.4 596.6,249.6 598.3,249.8"/>
<polyline points="467.4,249.8 469.0,249.6 470.6,249.4 472.3,249.1 473.9,248.8 475.5,248.4 477.2,247.8 478.8,247.2 480.5,246.4 482.1,245.4 483.7,244.2 485.4,242.8 487.0,241.2 488.6,239.2 490.3,236.9 491.9,234.3 493.5,231.3 495.2,227.8 496.8,224.0 498.4,219.7 500.1,214.9 501.7,209.7 503.4,204.1 505.0,198.0 506.6,191.6 508.3,184.8 509.9,177.8 511.5,170.6 513.2,163.2 514.8,155.9 516.4,148.6 518.1,141.6 519.7,134.9 521.3,128.6 523.0,122.9 524.6,117.9 526.3,113.6 527.9,110.2 529.5,107.7 531.2,106.2 532.8,105.7 534.4,106.2 536.1,107.7 537.7,110.2 539.3,113.6 541.0,117.9 542.6,122.9 544.2,128.6 545.9,134.9 547.5,141.6 549.2,148.6 550.8,155.9 552.4,163.2 554.1,170.6 555.7,177.8 557.3,184.8 559.0,191.6 560.6,198.0 562.2,204.1 563.9,209.7 565.5,214.9 567.1,219.7 568.8,224.0 570.4,227.8 572.0,231.3 573.7,234.3 575.3,236.9 577.0,239.2 578.6,241.2 580.2,242.8 581.9,244.2 583.5,245.4 585.1,246.4 586.8,247.2 588.4,247.8 590.0,248.4 591.7,248.8 593.3,249.1 594.9,249.4 596.6,249.6 598.2,249.8"/>
<polyline points="465.6,249.8 467.3,249.6 468.9,249.4 470.6,249.1 472.3,248.8 474.0,248.4 475.7,247.9 477.4,247.2 479.1,246.4 480.8,245.5 482.5,244.3 484.1,242.9 485.8,241.3 487.5,239.4 489.2,237.2 490.9,234.6 492.6,231.7 494.3,228.4 496.0,224.6 497.7,220.5 499.3,215.9 501.0,210.8 502.7,205.4 504.4,199.5 506.1,193.3 507.8,186.8 509.5,180.0 511.2,173.0 512.9,166.0 514.5,158.9 516.2,151.9 517.9,145.2 519.6,138.7 521.3,132.7 523.0,127.2 524.7,122.4 526.4,118.3 528.1,115.0 529.7,112.7 531.4,111.2 533.1,110.7 534.8,111.2 536.5,112.7 538.2,115.0 539.9,118.3 541.6,122.4 543.3,127.2 544.9,132.7 546.6,138.7 548.3,145.2 550.0,151.9 551.7,158.9 553.4,166.0 555.1,173.0 556.8,180.0 558.5,186.8 560.1,193.3 561.8,199.5 563.5,205.4 565.2,210.8 566.9,215.9 568.6,220.5 570.3,224.6 572.0,228.4 573.7,231.7 575.3,234.6 577.0,237.2 578.7,239.4 580.4,241.3 582.1,242.9 583.8,244.3 585.5,245.5 587.2,246.4 588.9,247.2 590.5,247.9 592.2,248.4 593.9,248.8 595.6,249.1 597.3,249.4 599.0,249.6 600.7,249.8"/>
<polyline points="470.2,249.8 471.8,249.6 473.4,249.4 475.0,249.1 476.6,248.8 478.2,248.3 479.7,247.8 481.3,247.1 482.9,246.3 484.5,245.3 486.1,244.1 487.7,242.7 489.2,241.0 490.8,239.0 492.4,236.6 494.0,233.9 495.6,230.8 497.2,227.3 498.7,223.3 500.3,218.9 501.9,214.0 503.5,208.6 505.1,202.8 506.7,196.5 508.2,189.8 509.8,182.8 511.4,175.5 513.0,168.0 514.6,160.3 516.2,152.7 517.7,145.2 519.3,137.8 520.9,130.9 522.5,124.3 524.1,118.4 525.7,113.2 527.2,108.7 528.8,105.2 530.4,102.6 532.0,101.0 533.6,100.5 535.2,101.0 536.7,102.6 538.3,105.2 539.9,108.7 541.5,113.2 543.1,118.4 544.7,124.3 546.2,130.9 547.8,137.8 549.4,145.2 551.0,152.7 552.6,160.3 554.2,168.0 555.7,175.5 557.3,182.8 558.9,189.8 560.5,196.5 562.1,202.8 563.7,208.6 565.2,214.0 566.8,218.9 568.4,223.3 570.0,227.3 571.6,230.8 573.2,233.9 574.7,236.6 576.3,239.0 577.9,241.0 579.5,242.7 581.1,244.1 582.7,245.3 584.2,246.3 585.8,247.1 587.4,247.8 589.0,248.3 590.6,248.8 592.2,249.1 593.7,249.4 595.3,249.6 596.9,249.8"/>
<polyline points="468.6,249.8 470.2,249.6 471.8,249.4 473.4,249.1 475.0,248.8 476.6,248.3 478.2,247.8 479.7,247.1 481.3,246.3 482.9,245.3 484.5,244.1 486.1,242.7 487.7,241.0 489.3,239.0 490.9,236.7 492.5,234.0 494.0,230.9 495.6,227.4 497.2,223.4 498.8,219.0 500.4,214.1 502.0,208.7 503.6,202.9 505.2,196.6 506.7,190.0 508.3,183.0 509.9,175.7 511.5,168.2 513.1,160.6 514.7,153.0 516.3,145.5 517.9,138.2 519.5,131.3 521.0,124.8 522.6,118.9 524.2,113.7 525.8,109.2 527.4,105.7 529.0,103.1 530.6,101.5 532.2,101.0 533.8,101.5 535.3,103.1 536.9,105.7 538.5,109.2 540.1,113.7 541.7,118.9 543.3,124.8 544.9,131.3 546.5,138.2 548.1,145.5 549.6,153.0 551.2,160.6 552.8,168.2 554.4,175.7 556.0,183.0 557.6,190.0 559.2,196.6 560.8,202.9 562.4,208.7 563.9,214.1 565.5,219.0 567.1,223.4 568.7,227.4 570.3,230.9 571.9,234.0 573.5,236.7 575.1,239.0 576.7,241.0 578.2,242.7 579.8,244.1 581.4,245.3 583.0,246.3 584.6,247.1 586.2,247.8 587.8,248.3 589.4,248.8 590.9,249.1 592.5,249.4 594.1,249.6 595.7,249.8"/>
<polyline points="472.4,249.8 473.9,249.6 475.4,249.4 476.9,249.1 478.4,248.8 479.9,248.3 481.4,247.8 482.9,247.1 484.4,246.2 485.9,245.2 487.4,244.0 488.9,242.5 490.4,240.7 491.9,238.6 493.4,236.2 494.9,233.3 496.4,230.1 497.9,226.4 499.4,222.2 500.9,217.5 502.4,212.4 503.9,206.7 505.4,200.5 506.9,193.9 508.4,186.8 509.9,179.3 511.4,171.6 512.9,163.6 514.4,155.5 515.9,147.3 517.4,139.3 518.9,131.5 520.4,124.0 521.9,117.1 523.4,110.7 524.9,105.1 526.4,100.4 527.9,96.6 529.4,93.8 530.9,92.1 532.4,91.5 533.9,92.1 535.4,93.8 536.9,96.6 538.4,100.4 539.9,105.1 541.4,110.7 542.9,117.1 544.4,124.0 545.9,131.5 547.4,139.3 548.9,147.3 550.4,155.5 551.9,163.6 553.4,171.6 555.0,179.3 556.5,186.8 558.0,193.9 559.5,200.5 561.0,206.7 562.5,212.4 564.0,217.5 565.5,222.2 567.0,226.4 568.5,230.1 570.0,233.3 571.5,236.2 573.0,238.6 574.5,240.7 576.0,242.5 577.5,244.0 579.0,245.2 580.5,246.2 582.0,247.1 583.5,247.8 585.0,248.3 586.5,248.8 588.0,249.1 589.5,249.4 591.0,249.6 592.5,249.8"/>
<polyline points="468.4,249.8 470.0,249.6 471.5,249.4 473.1,249.1 474.7,248.8 476.3,248.3 477.8,247.8 479.4,247.1 481.0,246.3 482.5,245.3 484.1,244.1 485.7,242.7 487.3,240.9 488.8,238.9 490.4,236.6 492.0,233.9 493.5,230.7 495.1,227.2 496.7,223.2 498.2,218.7 499.8,213.7 501.4,208.3 503.0,202.4 504.5,196.1 506.1,189.4 507.7,182.3 509.2,174.9 510.8,167.3 512.4,159.6 514.0,151.9 515.5,144.3 517.1,136.9 518.7,129.9 520.2,123.3 521.8,117.3 523.4,112.0 525.0,107.5 526.5,103.9 528.1,101.3 529.7,99.7 531.2,99.2 532.8,99.7 534.4,101.3 535.9,103.9 537.5,107.5 539.1,112.0 540.7,117.3 542.2,123.3 543.8,129.9 545.4,136.9 546.9,144.3 548.5,151.9 550.1,159.6 551.7,167.3 553.2,174.9 554.8,182.3 556.4,189.4 557.9,196.1 559.5,202.4 561.1,208.3 562.7,213.7 564.2,218.7 565.8,223.2 567.4,227.2 568.9,230.7 570.5,233.9 572.1,236.6 573.6,238.9 575.2,240.9 576.8,242.7 578.4,244.1 579.9,245.3 581.5,246.3 583.1,247.1 584.6,247.8 586.2,248.3 587.8,248.8 589.4,249.1 590.9,249.4 592.5,249.6 594.1,249.8"/>
<polyline points="472.6,249.8 474.1,249.6 475.7,249.4 477.2,249.1 478.8,248.8 480.3,248.3 481.9,247.8 483.4,247.1 484.9,246.3 486.5,245.3 488.0,244.0 489.6,242.6 491.1,240.9 492.7,238.8 494.2,236.4 495.8,233.7 497.3,230.5 498.8,226.9 500.4,222.8 501.9,218.3 503.5,213.2 505.0,207.7 506.6,201.7 508.1,195.3 509.7,188.4 511.2,181.2 512.7,173.7 514.3,165.9 515.8,158.1 517.4,150.2 518.9,142.4 520.5,134.9 522.0,127.7 523.5,120.9 525.1,114.8 526.6,109.4 528.2,104.8 529.7,101.2 531.3,98.5 532.8,96.8 534.4,96.3 535.9,96.8 537.4,98.5 539.0,101.2 540.5,104.8 542.1,109.4 543.6,114.8 545.2,120.9 546.7,127.7 548.3,134.9 549.8,142.4 551.3,150.2 552.9,158.1 554.4,165.9 556.0,173.7 557.5,181.2 559.1,188.4 560.6,195.3 562.2,201.7 563.7,207.7 565.2,213.2 566.8,218.3 568.3,222.8 569.9,226.9 571.4,230.5 573.0,233.7 574.5,236.4 576.0,238.8 577.6,240.9 579.1,242.6 580.7,244.0 582.2,245.3 583.8,246.3 585.3,247.1 586.9,247.8 588.4,248.3 589.9,248.8 591.5,249.1 593.0,249.4 594.6,249.6 596.1,249.8"/>
<polyline points="471.2,249.8 472.8,249.6 474.3,249.4 475.9,249.1 477.5,248.8 479.1,248.3 480.6,247.8 482.2,247.1 483.8,246.3 485.4,245.3 486.9,244.1 488.5,242.7 490.1,241.0 491.7,238.9 493.2,236.6 494.8,233.9 496.4,230.8 498.0,227.2 499.5,223.2 501.1,218.8 502.7,213.8 504.3,208.4 505.8,202.5 507.4,196.2 509.0,189.5 510.6,182.5 512.1,175.1 513.7,167.6 515.3,159.9 516.9,152.2 518.4,144.6 520.0,137.2 521.6,130.2 523.2,123.7 524.7,117.7 526.3,112.4 527.9,107.9 529.5,104.4 531.0,101.7 532.6,100.2 534.2,99.6 535.8,100.2 537.3,101.7 538.9,104.4 540.5,107.9 542.1,112.4 543.6,117.7 545.2,123.7 546.8,130.2 548.4,137.2 549.9,144.6 551.5,152.2 553.1,159.9 554.7,167.6 556.2,175.1 557.8,182.5 559.4,189.5 561.0,196.2 562.6,202.5 564.1,208.4 565.7,213.8 567.3,218.8 568.9,223.2 570.4,227.2 572.0,230.8 573.6,233.9 575.2,236.6 576.7,238.9 578.3,241.0 579.9,242.7 581.5,244.1 583.0,245.3 584.6,246.3 586.2,247.1 587.8,247.8 589.3,248.3 590.9,248.8 592.5,249.1 594.1,249.4 595.6,249.6 597.2,249.8"/>
<polyline points="470.9,249.8 472.4,249.6 474.0,249.4 475.5,249.1 477.1,248.8 478.6,248.3 480.1,247.8 481.7,247.1 483.2,246.3 484.8,245.3 486.3,244.0 487.8,242.6 489.4,240.8 490.9,238.8 492.5,236.4 494.0,233.6 495.5,230.4 497.1,226.8 498.6,222.7 500.2,218.2 501.7,213.1 503.2,207.6 504.8,201.6 506.3,195.1 507.9,188.2 509.4,181.0 510.9,173.4 512.5,165.7 514.0,157.8 515.5,149.9 517.1,142.1 518.6,134.5 520.2,127.3 521.7,120.5 523.2,114.4 524.8,108.9 526.3,104.3 527.9,100.6 529.4,98.0 530.9,96.3 532.5,95.8 534.0,96.3 535.6,98.0 537.1,100.6 538.6,104.3 540.2,108.9 541.7,114.4 543.3,120.5 544.8,127.3 546.3,134.5 547.9,142.1 549.4,149.9 551.0,157.8 552.5,165.7 554.0,173.4 555.6,181.0 557.1,188.2 558.7,195.1 560.2,201.6 561.7,207.6 563.3,213.1 564.8,218.2 566.3,222.7 567.9,226.8 569.4,230.4 571.0,233.6 572.5,236.4 574.0,238.8 575.6,240.8 577.1,242.6 578.7,244.0 580.2,245.3 581.7,246.3 583.3,247.1 584.8,247.8 586.4,248.3 587.9,248.8 589.4,249.1 591.0,249.4 592.5,249.6 594.1,249.8"/>
<polyline points="468.8,249.8 470.4,249.6 471.9,249.4 473.5,249.1 475.1,248.8 476.7,248.3 478.3,247.8 479.9,247.1 481.5,246.3 483.0,245.3 484.6,244.1 486.2,242.7 487.8,241.0 489.4,239.0 491.0,236.7 492.5,233.9 494.1,230.8 495.7,227.3 497.3,223.4 498.9,218.9 500.5,214.0 502.1,208.6 503.6,202.8 505.2,196.5 506.8,189.9 508.4,182.8 510.0,175.5 511.6,168.0 513.1,160.4 514.7,152.8 516.3,145.3 517.9,138.0 519.5,131.0 521.1,124.5 522.7,118.5 524.2,113.3 525.8,108.9 527.4,105.3 529.0,102.7 530.6,101.1 532.2,100.6 533.8,101.1 535.3,102.7 536.9,105.3 538.5,108.9 540.1,113.3 541.7,118.5 543.3,124.5 544.8,131.0 546.4,138.0 548.0,145.3 549.6,152.8 551.2,160.4 552.8,168.0 554.4,175.5 555.9,182.8 557.5,189.9 559.1,196.5 560.7,202.8 562.3,208.6 563.9,214.0 565.4,218.9 567.0,223.4 568.6,227.3 570.2,230.8 571.8,233.9 573.4,236.7 575.0,239.0 576.5,241.0 578.1,242.7 579.7,244.1 581.3,245.3 582.9,246.3 584.5,247.1 586.1,247.8 587.6,248.3 589.2,248.8 590.8,249.1 592.4,249.4 594.0,249.6 595.6,249.8"/>
<polyline points="466.3,249.8 467.9,249.6 469.6,249.4 471.2,249.1 472.8,248.8 474.4,248.4 476.1,247.8 477.7,247.2 479.3,246.4 480.9,245.4 482.6,244.2 484.2,242.8 485.8,241.1 487.4,239.2 489.1,236.9 490.7,234.2 492.3,231.2 494.0,227.8 495.6,223.9 497.2,219.6 498.8,214.8 500.5,209.6 502.1,203.9 503.7,197.8 505.3,191.3 507.0,184.5 508.6,177.4 510.2,170.1 511.8,162.7 513.5,155.4 515.1,148.1 516.7,141.0 518.4,134.2 520.0,127.9 521.6,122.2 523.2,117.1 524.9,112.8 526.5,109.4 528.1,106.9 529.7,105.4 531.4,104.9 533.0,105.4 534.6,106.9 536.3,109.4 537.9,112.8 539.5,117.1 541.1,122.2 542.8,127.9 544.4,134.2 546.0,141.0 547.6,148.1 549.3,155.4 550.9,162.7 552.5,170.1 554.1,177.4 555.8,184.5 557.4,191.3 559.0,197.8 560.7,203.9 562.3,209.6 563.9,214.8 565.5,219.6 567.2,223.9 568.8,227.8 570.4,231.2 572.0,234.2 573.7,236.9 575.3,239.2 576.9,241.1 578.5,242.8 580.2,244.2 581.8,245.4 583.4,246.4 585.1,247.2 586.7,247.8 588.3,248.4 589.9,248.8 591.6,249.1 593.2,249.4 594.8,249.6 596.4,249.8"/>
<polyline points="474.0,249.8 475.5,249.6 477.0,249.4 478.4,249.1 479.9,248.8 481.4,248.3 482.8,247.8 484.3,247.1 485.8,246.2 487.3,245.2 488.7,243.9 490.2,242.4 491.7,240.6 493.1,238.5 494.6,236.0 496.1,233.1 497.6,229.8 499.0,226.0 500.5,221.8 502.0,217.0 503.4,211.7 504.9,205.9 506.4,199.6 507.8,192.8 509.3,185.6 510.8,177.9 512.3,170.0 513.7,161.8 515.2,153.5 516.7,145.1 518.1,136.9 519.6,128.9 521.1,121.2 522.6,114.1 524.0,107.6 525.5,101.8 527.0,96.9 528.4,93.0 529.9,90.2 531.4,88.4 532.8,87.8 534.3,88.4 535.8,90.2 537.3,93.0 538.7,96.9 540.2,101.8 541.7,107.6 543.1,114.1 544.6,121.2 546.1,128.9 547.6,136.9 549.0,145.1 550.5,153.5 552.0,161.8 553.4,170.0 554.9,177.9 556.4,185.6 557.9,192.8 559.3,199.6 560.8,205.9 562.3,211.7 563.7,217.0 565.2,221.8 566.7,226.0 568.1,229.8 569.6,233.1 571.1,236.0 572.6,238.5 574.0,240.6 575.5,242.4 577.0,243.9 578.4,245.2 579.9,246.2 581.4,247.1 582.9,247.8 584.3,248.3 585.8,248.8 587.3,249.1 588.7,249.4 590.2,249.6 591.7,249.8"/>
<polyline points="474.0,249.8 475.5,249.6 477.0,249.4 478.5,249.1 479.9,248.8 481.4,248.3 482.9,247.8 484.3,247.1 485.8,246.2 487.3,245.2 488.8,243.9 490.2,242.4 491.7,240.6 493.2,238.5 494.6,236.0 496.1,233.1 497.6,229.8 499.1,226.0 500.5,221.8 502.0,217.0 503.5,211.7 504.9,205.9 506.4,199.6 507.9,192.8 509.3,185.6 510.8,177.9 512.3,170.0 513.8,161.8 515.2,153.5 516.7,145.2 518.2,136.9 519.6,128.9 521.1,121.3 522.6,114.1 524.1,107.6 525.5,101.8 527.0,97.0 528.5,93.1 529.9,90.2 531.4,88.5 532.9,87.9 534.4,88.5 535.8,90.2 537.3,93.1 538.8,97.0 540.2,101.8 541.7,107.6 543.2,114.1 544.7,121.3 546.1,128.9 547.6,136.9 549.1,145.2 550.5,153.5 552.0,161.8 553.5,170.0 555.0,177.9 556.4,185.6 557.9,192.8 559.4,199.6 560.8,205.9 562.3,211.7 563.8,217.0 565.3,221.8 566.7,226.0 568.2,229.8 569.7,233.1 571.1,236.0 572.6,238.5 574.1,240.6 575.5,242.4 577.0,243.9 578.5,245.2 580.0,246.2 581.4,247.1 582.9,247.8 584.4,248.3 585.8,248.8 587.3,249.1 588.8,249.4 590.3,249.6 591.7,249.8"/>
<polyline points="474.9,249.8 476.4,249.6 477.9,249.4 479.4,249.1 480.9,248.8 482.4,248.3 483.9,247.8 485.4,247.1 486.9,246.2 488.4,245.2 489.9,244.0 491.4,242.5 492.9,240.7 494.4,238.6 495.9,236.2 497.4,233.4 498.9,230.1 500.4,226.4 501.9,222.2 503.4,217.6 504.9,212.4 506.4,206.7 507.9,200.5 509.4,193.9 510.9,186.8 512.4,179.4 513.9,171.6 515.4,163.6 516.9,155.5 518.4,147.4 519.9,139.3 521.4,131.5 522.9,124.1 524.4,117.1 526.0,110.8 527.5,105.2 529.0,100.4 530.5,96.6 532.0,93.8 533.5,92.1 535.0,91.6 536.5,92.1 538.0,93.8 539.5,96.6 541.0,100.4 542.5,105.2 544.0,110.8 545.5,117.1 547.0,124.1 548.5,131.5 550.0,139.3 551.5,147.4 553.0,155.5 554.5,163.6 556.0,171.6 557.5,179.4 559.0,186.8 560.5,193.9 562.0,200.5 563.5,206.7 565.0,212.4 566.5,217.6 568.0,222.2 569.5,226.4 571.0,230.1 572.5,233.4 574.0,236.2 575.5,238.6 577.0,240.7 578.5,242.5 580.0,244.0 581.5,245.2 583.0,246.2 584.5,247.1 586.0,247.8 587.5,248.3 589.0,248.8 590.5,249.1 592.0,249.4 593.5,249.6 595.1,249.8"/>
<polyline points="471.7,249.8 473.3,249.6 474.8,249.4 476.3,249.1 477.9,248.8 479.4,248.3 480.9,247.8 482.4,247.1 484.0,246.3 485.5,245.2 487.0,244.0 488.6,242.6 490.1,240.8 491.6,238.7 493.2,236.3 494.7,233.6 496.2,230.4 497.7,226.7 499.3,222.6 500.8,218.0 502.3,212.9 503.9,207.4 505.4,201.3 506.9,194.8 508.5,187.9 510.0,180.6 511.5,173.0 513.0,165.1 514.6,157.2 516.1,149.2 517.6,141.4 519.2,133.7 520.7,126.5 522.2,119.7 523.8,113.5 525.3,108.0 526.8,103.3 528.3,99.6 529.9,96.9 531.4,95.3 532.9,94.7 534.5,95.3 536.0,96.9 537.5,99.6 539.0,103.3 540.6,108.0 542.1,113.5 543.6,119.7 545.2,126.5 546.7,133.7 548.2,141.4 549.8,149.2 551.3,157.2 552.8,165.1 554.3,173.0 555.9,180.6 557.4,187.9 558.9,194.8 560.5,201.3 562.0,207.4 563.5,212.9 565.1,218.0 566.6,222.6 568.1,226.7 569.6,230.4 571.2,233.6 572.7,236.3 574.2,238.7 575.8,240.8 577.3,242.6 578.8,244.0 580.4,245.2 581.9,246.3 583.4,247.1 584.9,247.8 586.5,248.3 588.0,248.8 589.5,249.1 591.1,249.4 592.6,249.6 594.1,249.8"/>
<polyline points="467.1,249.8 468.8,249.6 470.4,249.4 472.0,249.1 473.6,248.8 475.2,248.4 476.8,247.8 478.5,247.2 480.1,246.4 481.7,245.4 483.3,244.2 484.9,242.8 486.5,241.1 488.2,239.1 489.8,236.8 491.4,234.2 493.0,231.1 494.6,227.7 496.3,223.8 497.9,219.4 499.5,214.6 501.1,209.4 502.7,203.7 504.3,197.5 506.0,191.0 507.6,184.2 509.2,177.0 510.8,169.7 512.4,162.3 514.1,154.8 515.7,147.5 517.3,140.4 518.9,133.6 520.5,127.2 522.1,121.4 523.8,116.3 525.4,112.0 527.0,108.6 528.6,106.0 530.2,104.5 531.9,104.0 533.5,104.5 535.1,106.0 536.7,108.6 538.3,112.0 539.9,116.3 541.6,121.4 543.2,127.2 544.8,133.6 546.4,140.4 548.0,147.5 549.6,154.8 551.3,162.3 552.9,169.7 554.5,177.0 556.1,184.2 557.7,191.0 559.4,197.5 561.0,203.7 562.6,209.4 564.2,214.6 565.8,219.4 567.4,223.8 569.1,227.7 570.7,231.1 572.3,234.2 573.9,236.8 575.5,239.1 577.2,241.1 578.8,242.8 580.4,244.2 582.0,245.4 583.6,246.4 585.2,247.2 586.9,247.8 588.5,248.4 590.1,248.8 591.7,249.1 593.3,249.4 595.0,249.6 596.6,249.8"/>
<polyline points="464.6,249.8 466.2,249.6 467.8,249.4 469.5,249.1 471.1,248.8 472.7,248.4 474.4,247.8 476.0,247.2 477.7,246.4 479.3,245.4 480.9,244.2 482.6,242.8 484.2,241.2 485.9,239.2 487.5,236.9 489.1,234.3 490.8,231.3 492.4,227.9 494.0,224.0 495.7,219.7 497.3,215.0 499.0,209.8 500.6,204.2 502.2,198.1 503.9,191.7 505.5,184.9 507.2,177.9 508.8,170.7 510.4,163.4 512.1,156.0 513.7,148.8 515.4,141.8 517.0,135.1 518.6,128.9 520.3,123.2 521.9,118.2 523.5,113.9 525.2,110.5 526.8,108.0 528.5,106.5 530.1,106.0 531.7,106.5 533.4,108.0 535.0,110.5 536.7,113.9 538.3,118.2 539.9,123.2 541.6,128.9 543.2,135.1 544.8,141.8 546.5,148.8 548.1,156.0 549.8,163.4 551.4,170.7 553.0,177.9 554.7,184.9 556.3,191.7 558.0,198.1 559.6,204.2 561.2,209.8 562.9,215.0 564.5,219.7 566.1,224.0 567.8,227.9 569.4,231.3 571.1,234.3 572.7,236.9 574.3,239.2 576.0,241.2 577.6,242.8 579.3,244.2 580.9,245.4 582.5,246.4 584.2,247.2 585.8,247.8 587.4,248.4 589.1,248.8 590.7,249.1 592.4,249.4 594.0,249.6 595.6,249.8"/>
<polyline points="469.2,249.8 470.8,249.6 472.4,249.4 474.1,249.1 475.7,248.8 477.3,248.4 478.9,247.8 480.6,247.2 482.2,246.4 483.8,245.4 485.4,244.2 487.1,242.8 488.7,241.1 490.3,239.2 491.9,236.9 493.5,234.2 495.2,231.2 496.8,227.7 498.4,223.9 500.0,219.5 501.7,214.7 503.3,209.5 504.9,203.8 506.5,197.7 508.2,191.2 509.8,184.4 511.4,177.3 513.0,170.0 514.7,162.6 516.3,155.2 517.9,147.9 519.5,140.8 521.2,134.0 522.8,127.7 524.4,122.0 526.0,116.9 527.7,112.6 529.3,109.1 530.9,106.6 532.5,105.1 534.2,104.6 535.8,105.1 537.4,106.6 539.0,109.1 540.6,112.6 542.3,116.9 543.9,122.0 545.5,127.7 547.1,134.0 548.8,140.8 550.4,147.9 552.0,155.2 553.6,162.6 555.3,170.0 556.9,177.3 558.5,184.4 560.1,191.2 561.8,197.7 563.4,203.8 565.0,209.5 566.6,214.7 568.3,219.5 569.9,223.9 571.5,227.7 573.1,231.2 574.8,234.2 576.4,236.9 578.0,239.2 579.6,241.1 581.3,242.8 582.9,244.2 584.5,245.4 586.1,246.4 587.8,247.2 589.4,247.8 591.0,248.4 592.6,248.8 594.2,249.1 595.9,249.4 597.5,249.6 599.1,249.8"/>
<polyline points="465.7,249.8 467.4,249.6 469.1,249.4 470.8,249.1 472.4,248.8 474.1,248.4 475.8,247.9 477.5,247.2 479.2,246.4 480.8,245.5 482.5,244.3 484.2,242.9 485.9,241.3 487.5,239.4 489.2,237.1 490.9,234.6 492.6,231.6 494.3,228.3 495.9,224.5 497.6,220.3 499.3,215.7 501.0,210.6 502.7,205.1 504.3,199.2 506.0,193.0 507.7,186.4 509.4,179.6 511.0,172.6 512.7,165.4 514.4,158.3 516.1,151.3 517.8,144.5 519.4,138.0 521.1,131.9 522.8,126.4 524.5,121.6 526.2,117.4 527.8,114.1 529.5,111.7 531.2,110.3 532.9,109.8 534.5,110.3 536.2,111.7 537.9,114.1 539.6,117.4 541.3,121.6 542.9,126.4 544.6,131.9 546.3,138.0 548.0,144.5 549.7,151.3 551.3,158.3 553.0,165.4 554.7,172.6 556.4,179.6 558.0,186.4 559.7,193.0 561.4,199.2 563.1,205.1 564.8,210.6 566.4,215.7 568.1,220.3 569.8,224.5 571.5,228.3 573.2,231.6 574.8,234.6 576.5,237.1 578.2,239.4 579.9,241.3 581.5,242.9 583.2,244.3 584.9,245.5 586.6,246.4 588.3,247.2 589.9,247.9 591.6,248.4 593.3,248.8 595.0,249.1 596.7,249.4 598.3,249.6 600.0,249.8"/>
<polyline points="470.3,249.8 471.8,249.6 473.3,249.4 474.8,249.1 476.3,248.8 477.9,248.3 479.4,247.8 480.9,247.1 482.4,246.3 483.9,245.2 485.5,244.0 487.0,242.5 488.5,240.8 490.0,238.7 491.5,236.3 493.0,233.5 494.6,230.2 496.1,226.6 497.6,222.4 499.1,217.8 500.6,212.7 502.1,207.1 503.7,201.0 505.2,194.4 506.7,187.4 508.2,180.0 509.7,172.4 511.3,164.5 512.8,156.4 514.3,148.4 515.8,140.5 517.3,132.8 518.8,125.4 520.4,118.5 521.9,112.3 523.4,106.7 524.9,102.0 526.4,98.3 527.9,95.5 529.5,93.9 531.0,93.3 532.5,93.9 534.0,95.5 535.5,98.3 537.0,102.0 538.6,106.7 540.1,112.3 541.6,118.5 543.1,125.4 544.6,132.8 546.2,140.5 547.7,148.4 549.2,156.4 550.7,164.5 552.2,172.4 553.7,180.0 555.3,187.4 556.8,194.4 558.3,201.0 559.8,207.1 561.3,212.7 562.8,217.8 564.4,222.4 565.9,226.6 567.4,230.2 568.9,233.5 570.4,236.3 571.9,238.7 573.5,240.8 575.0,242.5 576.5,244.0 578.0,245.2 579.5,246.3 581.1,247.1 582.6,247.8 584.1,248.3 585.6,248.8 587.1,249.1 588.6,249.4 590.2,249.6 591.7,249.8"/>
<polyline points="468.9,249.8 470.5,249.6 472.1,249.4 473.7,249.1 475.3,248.8 476.9,248.4 478.5,247.8 480.1,247.1 481.7,246.3 483.3,245.3 484.9,244.2 486.5,242.7 488.1,241.0 489.7,239.0 491.3,236.7 492.9,234.0 494.5,231.0 496.1,227.5 497.7,223.5 499.3,219.1 500.9,214.3 502.5,208.9 504.1,203.1 505.7,196.9 507.3,190.3 508.9,183.4 510.5,176.1 512.1,168.7 513.7,161.2 515.3,153.6 516.9,146.2 518.5,138.9 520.1,132.0 521.7,125.6 523.3,119.7 524.9,114.5 526.5,110.1 528.1,106.6 529.7,104.1 531.3,102.5 532.9,102.0 534.5,102.5 536.1,104.1 537.7,106.6 539.3,110.1 540.8,114.5 542.4,119.7 544.0,125.6 545.6,132.0 547.2,138.9 548.8,146.2 550.4,153.6 552.0,161.2 553.6,168.7 555.2,176.1 556.8,183.4 558.4,190.3 560.0,196.9 561.6,203.1 563.2,208.9 564.8,214.3 566.4,219.1 568.0,223.5 569.6,227.5 571.2,231.0 572.8,234.0 574.4,236.7 576.0,239.0 577.6,241.0 579.2,242.7 580.8,244.2 582.4,245.3 584.0,246.3 585.6,247.1 587.2,247.8 588.8,248.4 590.4,248.8 592.0,249.1 593.6,249.4 595.2,249.6 596.8,249.8"/>
<polyline points="470.9,249.8 472.4,249.6 473.9,249.4 475.4,249.1 476.9,248.8 478.4,248.3 479.9,247.8 481.4,247.1 482.9,246.2 484.5,245.2 486.0,244.0 487.5,242.5 489.0,240.7 490.5,238.6 492.0,236.2 493.5,233.3 495.0,230.1 496.5,226.4 498.0,222.2 499.5,217.5 501.0,212.4 502.5,206.7 504.0,200.5 505.5,193.8 507.0,186.8 508.5,179.3 510.0,171.5 511.5,163.5 513.0,155.4 514.5,147.3 516.0,139.2 517.5,131.4 519.0,124.0 520.5,117.0 522.0,110.6 523.5,105.0 525.0,100.3 526.5,96.5 528.0,93.7 529.5,92.0 531.0,91.4 532.5,92.0 534.0,93.7 535.5,96.5 537.0,100.3 538.5,105.0 540.0,110.6 541.5,117.0 543.0,124.0 544.5,131.4 546.0,139.2 547.5,147.3 549.0,155.4 550.5,163.5 552.0,171.5 553.5,179.3 555.0,186.8 556.5,193.8 558.0,200.5 559.5,206.7 561.0,212.4 562.5,217.5 564.0,222.2 565.5,226.4 567.0,230.1 568.5,233.3 570.0,236.2 571.5,238.6 573.0,240.7 574.5,242.5 576.0,244.0 577.5,245.2 579.0,246.2 580.5,247.1 582.0,247.8 583.5,248.3 585.0,248.8 586.5,249.1 588.0,249.4 589.5,249.6 591.0,249.8"/>
<polyline points="472.3,249.8 473.9,249.6 475.5,249.4 477.1,249.1 478.7,248.8 480.3,248.4 481.9,247.8 483.5,247.2 485.1,246.3 486.7,245.3 488.3,244.2 489.9,242.7 491.5,241.0 493.1,239.1 494.7,236.7 496.3,234.1 497.9,231.0 499.5,227.5 501.1,223.6 502.7,219.2 504.3,214.3 505.9,209.0 507.5,203.2 509.1,197.0 510.7,190.4 512.3,183.5 513.9,176.3 515.5,168.9 517.1,161.3 518.7,153.8 520.3,146.4 521.9,139.2 523.5,132.3 525.1,125.8 526.7,120.0 528.3,114.8 529.9,110.4 531.5,106.9 533.1,104.4 534.7,102.8 536.3,102.3 537.9,102.8 539.5,104.4 541.1,106.9 542.7,110.4 544.3,114.8 545.9,120.0 547.5,125.8 549.1,132.3 550.7,139.2 552.3,146.4 553.9,153.8 555.5,161.3 557.1,168.9 558.7,176.3 560.3,183.5 561.9,190.4 563.6,197.0 565.2,203.2 566.8,209.0 568.4,214.3 570.0,219.2 571.6,223.6 573.2,227.5 574.8,231.0 576.4,234.1 578.0,236.7 579.6,239.1 581.2,241.0 582.8,242.7 584.4,244.2 586.0,245.3 587.6,246.3 589.2,247.2 590.8,247.8 592.4,248.4 594.0,248.8 595.6,249.1 597.2,249.4 598.8,249.6 600.4,249.8"/>
<polyline points="474.7,249.8 476.2,249.6 477.7,249.4 479.1,249.1 480.6,248.8 482.1,248.3 483.6,247.8 485.1,247.1 486.5,246.2 488.0,245.2 489.5,243.9 491.0,242.4 492.4,240.6 493.9,238.5 495.4,236.0 496.9,233.2 498.4,229.9 499.8,226.1 501.3,221.9 502.8,217.1 504.3,211.9 505.8,206.1 507.2,199.8 508.7,193.1 510.2,185.9 511.7,178.3 513.1,170.4 514.6,162.3 516.1,154.0 517.6,145.7 519.1,137.5 520.5,129.5 522.0,121.9 523.5,114.8 525.0,108.4 526.5,102.7 527.9,97.8 529.4,93.9 530.9,91.1 532.4,89.4 533.8,88.8 535.3,89.4 536.8,91.1 538.3,93.9 539.8,97.8 541.2,102.7 542.7,108.4 544.2,114.8 545.7,121.9 547.2,129.5 548.6,137.5 550.1,145.7 551.6,154.0 553.1,162.3 554.5,170.4 556.0,178.3 557.5,185.9 559.0,193.1 560.5,199.8 561.9,206.1 563.4,211.9 564.9,217.1 566.4,221.9 567.9,226.1 569.3,229.9 570.8,233.2 572.3,236.0 573.8,238.5 575.2,240.6 576.7,242.4 578.2,243.9 579.7,245.2 581.2,246.2 582.6,247.1 584.1,247.8 585.6,248.3 587.1,248.8 588.6,249.1 590.0,249.4 591.5,249.6 593.0,249.8"/>
<polyline points="473.2,249.8 474.7,249.6 476.2,249.4 477.7,249.1 479.2,248.8 480.7,248.3 482.2,247.8 483.7,247.1 485.2,246.2 486.7,245.2 488.3,244.0 489.8,242.5 491.3,240.7 492.8,238.6 494.3,236.2 495.8,233.3 497.3,230.1 498.8,226.4 500.3,222.2 501.8,217.5 503.3,212.3 504.8,206.7 506.3,200.5 507.8,193.8 509.3,186.8 510.8,179.3 512.3,171.5 513.8,163.5 515.3,155.4 516.8,147.3 518.3,139.2 519.8,131.4 521.3,123.9 522.8,117.0 524.3,110.6 525.8,105.0 527.3,100.2 528.8,96.4 530.3,93.7 531.8,92.0 533.3,91.4 534.8,92.0 536.3,93.7 537.8,96.4 539.3,100.2 540.8,105.0 542.3,110.6 543.8,117.0 545.3,123.9 546.8,131.4 548.3,139.2 549.8,147.3 551.3,155.4 552.8,163.5 554.3,171.5 555.8,179.3 557.3,186.8 558.8,193.8 560.3,200.5 561.8,206.7 563.3,212.3 564.8,217.5 566.3,222.2 567.8,226.4 569.3,230.1 570.8,233.3 572.3,236.2 573.8,238.6 575.3,240.7 576.8,242.5 578.3,244.0 579.8,245.2 581.3,246.2 582.8,247.1 584.3,247.8 585.8,248.3 587.3,248.8 588.8,249.1 590.3,249.4 591.8,249.6 593.3,249.8"/>
<polyline points="464.6,249.8 466.3,249.6 468.0,249.4 469.7,249.1 471.4,248.8 473.1,248.4 474.8,247.9 476.5,247.2 478.2,246.4 479.9,245.5 481.6,244.3 483.3,243.0 485.0,241.3 486.7,239.4 488.4,237.2 490.1,234.7 491.8,231.8 493.5,228.4 495.2,224.7 496.9,220.6 498.6,216.0 500.2,211.0 501.9,205.6 503.6,199.7 505.3,193.5 507.0,187.1 508.7,180.3 510.4,173.4 512.1,166.3 513.8,159.3 515.5,152.4 517.2,145.7 518.9,139.3 520.6,133.3 522.3,127.8 524.0,123.0 525.7,119.0 527.4,115.7 529.1,113.3 530.8,111.9 532.5,111.4 534.2,111.9 535.9,113.3 537.6,115.7 539.3,119.0 541.0,123.0 542.7,127.8 544.4,133.3 546.1,139.3 547.8,145.7 549.5,152.4 551.1,159.3 552.8,166.3 554.5,173.4 556.2,180.3 557.9,187.1 559.6,193.5 561.3,199.7 563.0,205.6 564.7,211.0 566.4,216.0 568.1,220.6 569.8,224.7 571.5,228.4 573.2,231.8 574.9,234.7 576.6,237.2 578.3,239.4 580.0,241.3 581.7,243.0 583.4,244.3 585.1,245.5 586.8,246.4 588.5,247.2 590.2,247.9 591.9,248.4 593.6,248.8 595.3,249.1 597.0,249.4 598.7,249.6 600.4,249.8"/>
<polyline points="464.7,249.8 466.3,249.6 468.0,249.4 469.6,249.1 471.3,248.8 472.9,248.4 474.5,247.8 476.2,247.2 477.8,246.4 479.5,245.4 481.1,244.2 482.8,242.8 484.4,241.2 486.0,239.2 487.7,237.0 489.3,234.3 491.0,231.3 492.6,227.9 494.3,224.1 495.9,219.8 497.5,215.1 499.2,209.9 500.8,204.3 502.5,198.3 504.1,191.9 505.8,185.1 507.4,178.1 509.1,170.9 510.7,163.6 512.3,156.3 514.0,149.1 515.6,142.1 517.3,135.5 518.9,129.2 520.6,123.6 522.2,118.6 523.8,114.3 525.5,111.0 527.1,108.5 528.8,107.0 530.4,106.5 532.1,107.0 533.7,108.5 535.3,111.0 537.0,114.3 538.6,118.6 540.3,123.6 541.9,129.2 543.6,135.5 545.2,142.1 546.9,149.1 548.5,156.3 550.1,163.6 551.8,170.9 553.4,178.1 555.1,185.1 556.7,191.9 558.4,198.3 560.0,204.3 561.6,209.9 563.3,215.1 564.9,219.8 566.6,224.1 568.2,227.9 569.9,231.3 571.5,234.3 573.1,237.0 574.8,239.2 576.4,241.2 578.1,242.8 579.7,244.2 581.4,245.4 583.0,246.4 584.7,247.2 586.3,247.8 587.9,248.4 589.6,248.8 591.2,249.1 592.9,249.4 594.5,249.6 596.2,249.8"/>
<polyline points="473.0,249.8 474.5,249.6 476.0,249.4 477.5,249.1 479.0,248.8 480.5,248.3 481.9,247.8 483.4,247.1 484.9,246.2 486.4,245.2 487.9,243.9 489.4,242.4 490.9,240.7 492.4,238.6 493.8,236.1 495.3,233.2 496.8,230.0 498.3,226.2 499.8,222.0 501.3,217.3 502.8,212.1 504.3,206.3 505.8,200.1 507.2,193.4 508.7,186.3 510.2,178.7 511.7,170.9 513.2,162.8 514.7,154.6 516.2,146.4 517.7,138.2 519.1,130.3 520.6,122.8 522.1,115.8 523.6,109.3 525.1,103.7 526.6,98.9 528.1,95.0 529.6,92.2 531.0,90.5 532.5,89.9 534.0,90.5 535.5,92.2 537.0,95.0 538.5,98.9 540.0,103.7 541.5,109.3 543.0,115.8 544.4,122.8 545.9,130.3 547.4,138.2 548.9,146.4 550.4,154.6 551.9,162.8 553.4,170.9 554.9,178.7 556.3,186.3 557.8,193.4 559.3,200.1 560.8,206.3 562.3,212.1 563.8,217.3 565.3,222.0 566.8,226.2 568.2,230.0 569.7,233.2 571.2,236.1 572.7,238.6 574.2,240.7 575.7,242.4 577.2,243.9 578.7,245.2 580.2,246.2 581.6,247.1 583.1,247.8 584.6,248.3 586.1,248.8 587.6,249.1 589.1,249.4 590.6,249.6 592.1,249.8"/>
<polyline points="467.8,249.8 469.3,249.6 470.9,249.4 472.5,249.1 474.1,248.8 475.7,248.3 477.2,247.8 478.8,247.1 480.4,246.3 482.0,245.3 483.6,244.1 485.2,242.7 486.7,241.0 488.3,239.0 489.9,236.6 491.5,233.9 493.1,230.8 494.7,227.3 496.2,223.3 497.8,218.9 499.4,214.0 501.0,208.6 502.6,202.7 504.1,196.4 505.7,189.8 507.3,182.7 508.9,175.4 510.5,167.9 512.1,160.3 513.6,152.6 515.2,145.1 516.8,137.7 518.4,130.8 520.0,124.2 521.5,118.3 523.1,113.0 524.7,108.6 526.3,105.0 527.9,102.4 529.5,100.9 531.0,100.3 532.6,100.9 534.2,102.4 535.8,105.0 537.4,108.6 538.9,113.0 540.5,118.3 542.1,124.2 543.7,130.8 545.3,137.7 546.9,145.1 548.4,152.6 550.0,160.3 551.6,167.9 553.2,175.4 554.8,182.7 556.3,189.8 557.9,196.4 559.5,202.7 561.1,208.6 562.7,214.0 564.3,218.9 565.8,223.3 567.4,227.3 569.0,230.8 570.6,233.9 572.2,236.6 573.7,239.0 575.3,241.0 576.9,242.7 578.5,244.1 580.1,245.3 581.7,246.3 583.2,247.1 584.8,247.8 586.4,248.3 588.0,248.8 589.6,249.1 591.1,249.4 592.7,249.6 594.3,249.8"/>
<polyline points="474.3,249.8 475.8,249.6 477.3,249.4 478.8,249.1 480.2,248.8 481.7,248.3 483.2,247.8 484.7,247.1 486.1,246.2 487.6,245.2 489.1,243.9 490.5,242.4 492.0,240.6 493.5,238.5 495.0,236.0 496.4,233.1 497.9,229.8 499.4,226.1 500.9,221.8 502.3,217.1 503.8,211.8 505.3,206.0 506.8,199.7 508.2,192.9 509.7,185.7 511.2,178.1 512.7,170.2 514.1,162.0 515.6,153.7 517.1,145.4 518.6,137.2 520.0,129.2 521.5,121.5 523.0,114.4 524.5,107.9 525.9,102.2 527.4,97.3 528.9,93.4 530.3,90.6 531.8,88.8 533.3,88.3 534.8,88.8 536.2,90.6 537.7,93.4 539.2,97.3 540.7,102.2 542.1,107.9 543.6,114.4 545.1,121.5 546.6,129.2 548.0,137.2 549.5,145.4 551.0,153.7 552.5,162.0 553.9,170.2 555.4,178.1 556.9,185.7 558.4,192.9 559.8,199.7 561.3,206.0 562.8,211.8 564.3,217.1 565.7,221.8 567.2,226.1 568.7,229.8 570.1,233.1 571.6,236.0 573.1,238.5 574.6,240.6 576.0,242.4 577.5,243.9 579.0,245.2 580.5,246.2 581.9,247.1 583.4,247.8 584.9,248.3 586.4,248.8 587.8,249.1 589.3,249.4 590.8,249.6 592.3,249.8"/>
<polyline points="466.5,249.8 468.1,249.6 469.7,249.4 471.3,249.1 472.9,248.8 474.5,248.4 476.1,247.8 477.7,247.1 479.3,246.3 480.9,245.3 482.5,244.2 484.1,242.7 485.7,241.0 487.3,239.0 488.9,236.7 490.5,234.0 492.1,231.0 493.7,227.5 495.3,223.5 496.8,219.1 498.4,214.3 500.0,208.9 501.6,203.2 503.2,196.9 504.8,190.3 506.4,183.4 508.0,176.2 509.6,168.7 511.2,161.2 512.8,153.7 514.4,146.2 516.0,139.0 517.6,132.1 519.2,125.6 520.8,119.8 522.4,114.6 524.0,110.2 525.6,106.7 527.2,104.1 528.8,102.6 530.4,102.0 532.0,102.6 533.6,104.1 535.2,106.7 536.8,110.2 538.4,114.6 540.0,119.8 541.6,125.6 543.2,132.1 544.8,139.0 546.4,146.2 548.0,153.7 549.6,161.2 551.2,168.7 552.8,176.2 554.4,183.4 556.0,190.3 557.6,196.9 559.2,203.2 560.8,208.9 562.4,214.3 564.0,219.1 565.6,223.5 567.2,227.5 568.8,231.0 570.4,234.0 572.0,236.7 573.6,239.0 575.2,241.0 576.8,242.7 578.4,244.2 580.0,245.3 581.6,246.3 583.2,247.1 584.8,247.8 586.4,248.4 588.0,248.8 589.6,249.1 591.2,249.4 592.8,249.6 594.4,249.8"/>
<polyline points="464.6,249.8 466.3,249.6 468.0,249.4 469.6,249.1 471.3,248.8 473.0,248.4 474.7,247.9 476.3,247.2 478.0,246.4 479.7,245.4 481.4,244.3 483.1,242.9 484.7,241.3 486.4,239.4 488.1,237.1 489.8,234.6 491.4,231.6 493.1,228.3 494.8,224.5 496.5,220.3 498.2,215.7 499.8,210.6 501.5,205.1 503.2,199.2 504.9,193.0 506.5,186.4 508.2,179.5 509.9,172.5 511.6,165.4 513.3,158.3 514.9,151.3 516.6,144.4 518.3,137.9 520.0,131.9 521.6,126.4 523.3,121.5 525.0,117.4 526.7,114.1 528.4,111.7 530.0,110.2 531.7,109.7 533.4,110.2 535.1,111.7 536.7,114.1 538.4,117.4 540.1,121.5 541.8,126.4 543.5,131.9 545.1,137.9 546.8,144.4 548.5,151.3 550.2,158.3 551.8,165.4 553.5,172.5 555.2,179.5 556.9,186.4 558.6,193.0 560.2,199.2 561.9,205.1 563.6,210.6 565.3,215.7 567.0,220.3 568.6,224.5 570.3,228.3 572.0,231.6 573.7,234.6 575.3,237.1 577.0,239.4 578.7,241.3 580.4,242.9 582.1,244.3 583.7,245.4 585.4,246.4 587.1,247.2 588.8,247.9 590.4,248.4 592.1,248.8 593.8,249.1 595.5,249.4 597.2,249.6 598.8,249.8"/>
<polyline points="472.1,249.8 473.6,249.6 475.2,249.4 476.7,249.1 478.3,248.8 479.8,248.3 481.4,247.8 482.9,247.1 484.5,246.3 486.0,245.3 487.6,244.1 489.1,242.6 490.7,240.9 492.2,238.8 493.7,236.4 495.3,233.7 496.8,230.5 498.4,226.9 499.9,222.8 501.5,218.3 503.0,213.3 504.6,207.8 506.1,201.8 507.7,195.3 509.2,188.5 510.8,181.3 512.3,173.8 513.8,166.0 515.4,158.2 516.9,150.4 518.5,142.6 520.0,135.1 521.6,127.9 523.1,121.2 524.7,115.0 526.2,109.6 527.8,105.1 529.3,101.4 530.9,98.7 532.4,97.1 534.0,96.6 535.5,97.1 537.0,98.7 538.6,101.4 540.1,105.1 541.7,109.6 543.2,115.0 544.8,121.2 546.3,127.9 547.9,135.1 549.4,142.6 551.0,150.4 552.5,158.2 554.1,166.0 555.6,173.8 557.2,181.3 558.7,188.5 560.2,195.3 561.8,201.8 563.3,207.8 564.9,213.3 566.4,218.3 568.0,222.8 569.5,226.9 571.1,230.5 572.6,233.7 574.2,236.4 575.7,238.8 577.3,240.9 578.8,242.6 580.3,244.1 581.9,245.3 583.4,246.3 585.0,247.1 586.5,247.8 588.1,248.3 589.6,248.8 591.2,249.1 592.7,249.4 594.3,249.6 595.8,249.8"/>
<polyline points="481.5,249.8 482.9,249.6 484.2,249.4 485.5,249.1 486.8,248.7 488.1,248.3 489.5,247.7 490.8,246.9 492.1,246.0 493.4,244.9 494.8,243.6 496.1,241.9 497.4,240.0 498.7,237.7 500.0,235.0 501.4,231.8 502.7,228.2 504.0,224.0 505.3,219.3 506.6,214.1 508.0,208.2 509.3,201.7 510.6,194.6 511.9,187.0 513.3,178.9 514.6,170.3 515.9,161.3 517.2,152.0 518.5,142.6 519.9,133.1 521.2,123.7 522.5,114.6 523.8,105.9 525.1,97.7 526.5,90.3 527.8,83.7 529.1,78.1 530.4,73.6 531.8,70.3 533.1,68.3 534.4,67.7 535.7,68.3 537.0,70.3 538.4,73.6 539.7,78.1 541.0,83.7 542.3,90.3 543.6,97.7 545.0,105.9 546.3,114.6 547.6,123.7 548.9,133.1 550.3,142.6 551.6,152.0 552.9,161.3 554.2,170.3 555.5,178.9 556.9,187.0 558.2,194.6 559.5,201.7 560.8,208.2 562.1,214.1 563.5,219.3 564.8,224.0 566.1,228.2 567.4,231.8 568.8,235.0 570.1,237.7 571.4,240.0 572.7,241.9 574.0,243.6 575.4,244.9 576.7,246.0 578.0,246.9 579.3,247.7 580.7,248.3 582.0,248.7 583.3,249.1 584.6,249.4 585.9,249.6 587.3,249.8"/>
<polyline points="474.8,249.8 476.2,249.6 477.7,249.4 479.1,249.1 480.5,248.7 481.9,248.3 483.3,247.7 484.7,247.0 486.2,246.1 487.6,245.1 489.0,243.8 490.4,242.2 491.8,240.4 493.2,238.2 494.6,235.6 496.1,232.7 497.5,229.2 498.9,225.3 500.3,220.9 501.7,216.0 503.1,210.5 504.5,204.4 506.0,197.9 507.4,190.8 508.8,183.2 510.2,175.2 511.6,166.9 513.0,158.4 514.4,149.7 515.9,140.9 517.3,132.3 518.7,123.9 520.1,115.9 521.5,108.4 522.9,101.5 524.4,95.5 525.8,90.4 527.2,86.3 528.6,83.3 530.0,81.4 531.4,80.8 532.8,81.4 534.3,83.3 535.7,86.3 537.1,90.4 538.5,95.5 539.9,101.5 541.3,108.4 542.7,115.9 544.2,123.9 545.6,132.3 547.0,140.9 548.4,149.7 549.8,158.4 551.2,166.9 552.7,175.2 554.1,183.2 555.5,190.8 556.9,197.9 558.3,204.4 559.7,210.5 561.1,216.0 562.6,220.9 564.0,225.3 565.4,229.2 566.8,232.7 568.2,235.6 569.6,238.2 571.0,240.4 572.5,242.2 573.9,243.8 575.3,245.1 576.7,246.1 578.1,247.0 579.5,247.7 580.9,248.3 582.4,248.7 583.8,249.1 585.2,249.4 586.6,249.6 588.0,249.8"/>
<polyline points="473.0,249.8 474.4,249.6 475.9,249.4 477.3,249.1 478.8,248.8 480.2,248.3 481.7,247.7 483.1,247.0 484.6,246.2 486.0,245.1 487.5,243.9 489.0,242.3 490.4,240.5 491.9,238.4 493.3,235.9 494.8,233.0 496.2,229.6 497.7,225.8 499.1,221.5 500.6,216.7 502.0,211.3 503.5,205.4 504.9,199.0 506.4,192.1 507.8,184.8 509.3,177.0 510.7,169.0 512.2,160.7 513.6,152.2 515.1,143.8 516.5,135.4 518.0,127.2 519.4,119.5 520.9,112.2 522.3,105.6 523.8,99.7 525.2,94.8 526.7,90.8 528.2,87.9 529.6,86.1 531.1,85.5 532.5,86.1 534.0,87.9 535.4,90.8 536.9,94.8 538.3,99.7 539.8,105.6 541.2,112.2 542.7,119.5 544.1,127.2 545.6,135.4 547.0,143.8 548.5,152.2 549.9,160.7 551.4,169.0 552.8,177.0 554.3,184.8 555.7,192.1 557.2,199.0 558.6,205.4 560.1,211.3 561.5,216.7 563.0,221.5 564.4,225.8 565.9,229.6 567.4,233.0 568.8,235.9 570.3,238.4 571.7,240.5 573.2,242.3 574.6,243.9 576.1,245.1 577.5,246.2 579.0,247.0 580.4,247.7 581.9,248.3 583.3,248.8 584.8,249.1 586.2,249.4 587.7,249.6 589.1,249.8"/>
<polyline points="477.5,249.8 478.9,249.6 480.3,249.4 481.7,249.1 483.1,248.7 484.5,248.3 485.9,247.7 487.3,247.0 488.7,246.1 490.1,245.1 491.5,243.8 492.9,242.2 494.3,240.3 495.7,238.1 497.1,235.6 498.5,232.6 499.9,229.1 501.3,225.2 502.7,220.7 504.1,215.7 505.5,210.2 506.9,204.1 508.3,197.5 509.8,190.3 511.2,182.7 512.6,174.6 514.0,166.2 515.4,157.6 516.8,148.8 518.2,140.0 519.6,131.2 521.0,122.7 522.4,114.6 523.8,107.0 525.2,100.1 526.6,94.0 528.0,88.8 529.4,84.7 530.8,81.7 532.2,79.8 533.6,79.2 535.0,79.8 536.4,81.7 537.8,84.7 539.2,88.8 540.6,94.0 542.0,100.1 543.4,107.0 544.8,114.6 546.2,122.7 547.6,131.2 549.0,140.0 550.4,148.8 551.8,157.6 553.2,166.2 554.6,174.6 556.0,182.7 557.4,190.3 558.8,197.5 560.2,204.1 561.6,210.2 563.1,215.7 564.5,220.7 565.9,225.2 567.3,229.1 568.7,232.6 570.1,235.6 571.5,238.1 572.9,240.3 574.3,242.2 575.7,243.8 577.1,245.1 578.5,246.1 579.9,247.0 581.3,247.7 582.7,248.3 584.1,248.7 585.5,249.1 586.9,249.4 588.3,249.6 589.7,249.8"/>
<polyline points="481.9,249.8 483.2,249.6 484.5,249.4 485.8,249.1 487.1,248.7 488.4,248.2 489.7,247.6 491.0,246.9 492.3,246.0 493.6,244.9 494.9,243.5 496.1,241.8 497.4,239.9 498.7,237.5 500.0,234.8 501.3,231.5 502.6,227.8 503.9,223.6 505.2,218.8 506.5,213.4 507.8,207.3 509.0,200.7 510.3,193.5 511.6,185.6 512.9,177.3 514.2,168.5 515.5,159.2 516.8,149.7 518.1,140.0 519.4,130.3 520.7,120.6 522.0,111.2 523.2,102.2 524.5,93.8 525.8,86.1 527.1,79.4 528.4,73.6 529.7,69.0 531.0,65.6 532.3,63.6 533.6,62.9 534.9,63.6 536.1,65.6 537.4,69.0 538.7,73.6 540.0,79.4 541.3,86.1 542.6,93.8 543.9,102.2 545.2,111.2 546.5,120.6 547.8,130.3 549.1,140.0 550.3,149.7 551.6,159.2 552.9,168.5 554.2,177.3 555.5,185.6 556.8,193.5 558.1,200.7 559.4,207.3 560.7,213.4 562.0,218.8 563.2,223.6 564.5,227.8 565.8,231.5 567.1,234.8 568.4,237.5 569.7,239.9 571.0,241.8 572.3,243.5 573.6,244.9 574.9,246.0 576.2,246.9 577.4,247.6 578.7,248.2 580.0,248.7 581.3,249.1 582.6,249.4 583.9,249.6 585.2,249.8"/>
<polyline points="478.6,249.8 480.0,249.6 481.3,249.4 482.6,249.1 483.9,248.7 485.3,248.3 486.6,247.7 487.9,246.9 489.2,246.0 490.6,244.9 491.9,243.6 493.2,242.0 494.5,240.0 495.9,237.7 497.2,235.0 498.5,231.9 499.8,228.2 501.2,224.1 502.5,219.4 503.8,214.1 505.1,208.3 506.5,201.8 507.8,194.8 509.1,187.2 510.4,179.0 511.8,170.5 513.1,161.5 514.4,152.3 515.7,142.9 517.1,133.4 518.4,124.1 519.7,115.0 521.0,106.3 522.4,98.1 523.7,90.7 525.0,84.1 526.3,78.6 527.7,74.1 529.0,70.8 530.3,68.9 531.6,68.2 533.0,68.9 534.3,70.8 535.6,74.1 536.9,78.6 538.3,84.1 539.6,90.7 540.9,98.1 542.2,106.3 543.6,115.0 544.9,124.1 546.2,133.4 547.5,142.9 548.9,152.3 550.2,161.5 551.5,170.5 552.8,179.0 554.2,187.2 555.5,194.8 556.8,201.8 558.1,208.3 559.5,214.1 560.8,219.4 562.1,224.1 563.4,228.2 564.8,231.9 566.1,235.0 567.4,237.7 568.7,240.0 570.1,242.0 571.4,243.6 572.7,244.9 574.0,246.0 575.4,246.9 576.7,247.7 578.0,248.3 579.3,248.7 580.7,249.1 582.0,249.4 583.3,249.6 584.6,249.8"/>
<polyline points="474.1,249.8 475.6,249.6 477.0,249.4 478.5,249.1 479.9,248.8 481.3,248.3 482.8,247.7 484.2,247.0 485.7,246.2 487.1,245.1 488.6,243.8 490.0,242.3 491.5,240.5 492.9,238.3 494.4,235.8 495.8,232.9 497.2,229.6 498.7,225.7 500.1,221.4 501.6,216.5 503.0,211.2 504.5,205.3 505.9,198.8 507.4,191.9 508.8,184.5 510.3,176.7 511.7,168.6 513.1,160.3 514.6,151.8 516.0,143.3 517.5,134.9 518.9,126.7 520.4,118.9 521.8,111.6 523.3,104.9 524.7,99.0 526.2,94.0 527.6,90.0 529.0,87.1 530.5,85.3 531.9,84.7 533.4,85.3 534.8,87.1 536.3,90.0 537.7,94.0 539.2,99.0 540.6,104.9 542.1,111.6 543.5,118.9 544.9,126.7 546.4,134.9 547.8,143.3 549.3,151.8 550.7,160.3 552.2,168.6 553.6,176.7 555.1,184.5 556.5,191.9 558.0,198.8 559.4,205.3 560.8,211.2 562.3,216.5 563.7,221.4 565.2,225.7 566.6,229.6 568.1,232.9 569.5,235.8 571.0,238.3 572.4,240.5 573.9,242.3 575.3,243.8 576.8,245.1 578.2,246.2 579.6,247.0 581.1,247.7 582.5,248.3 584.0,248.8 585.4,249.1 586.9,249.4 588.3,249.6 589.8,249.8"/>
<polyline points="475.2,249.8 476.6,249.6 478.0,249.4 479.4,249.1 480.8,248.7 482.3,248.3 483.7,247.7 485.1,247.0 486.5,246.1 487.9,245.1 489.4,243.8 490.8,242.2 492.2,240.4 493.6,238.2 495.0,235.7 496.5,232.7 497.9,229.3 499.3,225.4 500.7,221.0 502.1,216.1 503.5,210.6 505.0,204.6 506.4,198.0 507.8,190.9 509.2,183.4 510.6,175.5 512.1,167.2 513.5,158.7 514.9,150.0 516.3,141.3 517.7,132.7 519.2,124.3 520.6,116.3 522.0,108.9 523.4,102.0 524.8,96.0 526.3,90.9 527.7,86.8 529.1,83.8 530.5,82.0 531.9,81.4 533.4,82.0 534.8,83.8 536.2,86.8 537.6,90.9 539.0,96.0 540.5,102.0 541.9,108.9 543.3,116.3 544.7,124.3 546.1,132.7 547.6,141.3 549.0,150.0 550.4,158.7 551.8,167.2 553.2,175.5 554.7,183.4 556.1,190.9 557.5,198.0 558.9,204.6 560.3,210.6 561.8,216.1 563.2,221.0 564.6,225.4 566.0,229.3 567.4,232.7 568.8,235.7 570.3,238.2 571.7,240.4 573.1,242.2 574.5,243.8 575.9,245.1 577.4,246.1 578.8,247.0 580.2,247.7 581.6,248.3 583.0,248.7 584.5,249.1 585.9,249.4 587.3,249.6 588.7,249.8"/>
<polyline points="473.5,249.8 474.9,249.6 476.4,249.4 477.8,249.1 479.3,248.8 480.7,248.3 482.2,247.7 483.6,247.0 485.1,246.2 486.5,245.1 487.9,243.9 489.4,242.3 490.8,240.5 492.3,238.4 493.7,235.9 495.2,232.9 496.6,229.6 498.1,225.8 499.5,221.4 501.0,216.6 502.4,211.2 503.9,205.3 505.3,198.9 506.8,192.0 508.2,184.7 509.7,176.9 511.1,168.8 512.6,160.5 514.0,152.0 515.5,143.5 516.9,135.1 518.4,127.0 519.8,119.2 521.3,111.9 522.7,105.3 524.2,99.4 525.6,94.4 527.1,90.5 528.5,87.5 530.0,85.8 531.4,85.2 532.9,85.8 534.3,87.5 535.8,90.5 537.2,94.4 538.7,99.4 540.1,105.3 541.6,111.9 543.0,119.2 544.5,127.0 545.9,135.1 547.4,143.5 548.8,152.0 550.3,160.5 551.7,168.8 553.2,176.9 554.6,184.7 556.1,192.0 557.5,198.9 558.9,205.3 560.4,211.2 561.8,216.6 563.3,221.4 564.7,225.8 566.2,229.6 567.6,232.9 569.1,235.9 570.5,238.4 572.0,240.5 573.4,242.3 574.9,243.9 576.3,245.1 577.8,246.2 579.2,247.0 580.7,247.7 582.1,248.3 583.6,248.8 585.0,249.1 586.5,249.4 587.9,249.6 589.4,249.8"/>
<polyline points="473.7,249.8 475.1,249.6 476.6,249.4 478.0,249.1 479.5,248.8 480.9,248.3 482.4,247.7 483.9,247.0 485.3,246.2 486.8,245.1 488.2,243.9 489.7,242.4 491.1,240.5 492.6,238.4 494.1,235.9 495.5,233.0 497.0,229.7 498.4,225.9 499.9,221.6 501.3,216.8 502.8,211.4 504.3,205.6 505.7,199.2 507.2,192.3 508.6,185.0 510.1,177.3 511.5,169.3 513.0,161.0 514.5,152.6 515.9,144.2 517.4,135.8 518.8,127.7 520.3,120.0 521.8,112.8 523.2,106.2 524.7,100.4 526.1,95.4 527.6,91.5 529.0,88.6 530.5,86.8 532.0,86.2 533.4,86.8 534.9,88.6 536.3,91.5 537.8,95.4 539.2,100.4 540.7,106.2 542.2,112.8 543.6,120.0 545.1,127.7 546.5,135.8 548.0,144.2 549.4,152.6 550.9,161.0 552.4,169.3 553.8,177.3 555.3,185.0 556.7,192.3 558.2,199.2 559.6,205.6 561.1,211.4 562.6,216.8 564.0,221.6 565.5,225.9 566.9,229.7 568.4,233.0 569.9,235.9 571.3,238.4 572.8,240.5 574.2,242.4 575.7,243.9 577.1,245.1 578.6,246.2 580.1,247.0 581.5,247.7 583.0,248.3 584.4,248.8 585.9,249.1 587.3,249.4 588.8,249.6 590.3,249.8"/>
<polyline points="481.3,249.8 482.6,249.6 483.9,249.4 485.2,249.1 486.5,248.7 487.8,248.3 489.2,247.7 490.5,246.9 491.8,246.0 493.1,244.9 494.4,243.6 495.8,241.9 497.1,240.0 498.4,237.7 499.7,235.0 501.0,231.8 502.3,228.2 503.7,224.0 505.0,219.3 506.3,214.0 507.6,208.1 508.9,201.6 510.3,194.5 511.6,186.9 512.9,178.7 514.2,170.1 515.5,161.1 516.8,151.8 518.2,142.3 519.5,132.8 520.8,123.4 522.1,114.3 523.4,105.5 524.8,97.3 526.1,89.8 527.4,83.2 528.7,77.6 530.0,73.1 531.3,69.9 532.7,67.9 534.0,67.2 535.3,67.9 536.6,69.9 537.9,73.1 539.3,77.6 540.6,83.2 541.9,89.8 543.2,97.3 544.5,105.5 545.9,114.3 547.2,123.4 548.5,132.8 549.8,142.3 551.1,151.8 552.4,161.1 553.8,170.1 555.1,178.7 556.4,186.9 557.7,194.5 559.0,201.6 560.4,208.1 561.7,214.0 563.0,219.3 564.3,224.0 565.6,228.2 566.9,231.8 568.3,235.0 569.6,237.7 570.9,240.0 572.2,241.9 573.5,243.6 574.9,244.9 576.2,246.0 577.5,246.9 578.8,247.7 580.1,248.3 581.4,248.7 582.8,249.1 584.1,249.4 585.4,249.6 586.7,249.8"/>
<polyline points="476.1,249.8 477.5,249.6 478.9,249.4 480.4,249.1 481.8,248.7 483.2,248.3 484.7,247.7 486.1,247.0 487.5,246.2 489.0,245.1 490.4,243.8 491.8,242.3 493.3,240.5 494.7,238.3 496.1,235.8 497.6,232.8 499.0,229.4 500.4,225.6 501.9,221.2 503.3,216.3 504.7,210.9 506.2,204.9 507.6,198.4 509.0,191.5 510.5,184.0 511.9,176.2 513.3,168.0 514.8,159.5 516.2,151.0 517.6,142.4 519.1,133.9 520.5,125.6 521.9,117.7 523.4,110.3 524.8,103.6 526.2,97.6 527.7,92.6 529.1,88.5 530.5,85.6 532.0,83.8 533.4,83.2 534.8,83.8 536.3,85.6 537.7,88.5 539.1,92.6 540.6,97.6 542.0,103.6 543.4,110.3 544.9,117.7 546.3,125.6 547.7,133.9 549.2,142.4 550.6,151.0 552.0,159.5 553.5,168.0 554.9,176.2 556.3,184.0 557.8,191.5 559.2,198.4 560.6,204.9 562.1,210.9 563.5,216.3 564.9,221.2 566.4,225.6 567.8,229.4 569.2,232.8 570.7,235.8 572.1,238.3 573.5,240.5 575.0,242.3 576.4,243.8 577.8,245.1 579.3,246.2 580.7,247.0 582.1,247.7 583.6,248.3 585.0,248.7 586.4,249.1 587.9,249.4 589.3,249.6 590.7,249.8"/>
<polyline points="480.4,249.8 481.8,249.6 483.1,249.4 484.5,249.1 485.9,248.7 487.2,248.3 488.6,247.7 489.9,247.0 491.3,246.1 492.7,245.0 494.0,243.7 495.4,242.1 496.8,240.2 498.1,237.9 499.5,235.3 500.8,232.2 502.2,228.6 503.6,224.6 504.9,220.0 506.3,214.9 507.6,209.2 509.0,202.9 510.4,196.0 511.7,188.6 513.1,180.7 514.4,172.4 515.8,163.7 517.2,154.8 518.5,145.6 519.9,136.5 521.2,127.4 522.6,118.6 524.0,110.2 525.3,102.3 526.7,95.1 528.0,88.8 529.4,83.4 530.8,79.0 532.1,75.9 533.5,74.0 534.8,73.3 536.2,74.0 537.6,75.9 538.9,79.0 540.3,83.4 541.6,88.8 543.0,95.1 544.4,102.3 545.7,110.2 547.1,118.6 548.4,127.4 549.8,136.5 551.2,145.6 552.5,154.8 553.9,163.7 555.2,172.4 556.6,180.7 558.0,188.6 559.3,196.0 560.7,202.9 562.0,209.2 563.4,214.9 564.8,220.0 566.1,224.6 567.5,228.6 568.8,232.2 570.2,235.3 571.6,237.9 572.9,240.2 574.3,242.1 575.6,243.7 577.0,245.0 578.4,246.1 579.7,247.0 581.1,247.7 582.4,248.3 583.8,248.7 585.2,249.1 586.5,249.4 587.9,249.6 589.2,249.8"/>
<polyline points="477.3,249.8 478.7,249.6 480.1,249.4 481.5,249.1 482.9,248.7 484.3,248.3 485.6,247.7 487.0,247.0 488.4,246.1 489.8,245.0 491.2,243.7 492.5,242.1 493.9,240.2 495.3,238.0 496.7,235.4 498.1,232.4 499.4,228.9 500.8,224.9 502.2,220.4 503.6,215.3 505.0,209.7 506.3,203.5 507.7,196.7 509.1,189.4 510.5,181.7 511.9,173.5 513.2,165.0 514.6,156.2 516.0,147.2 517.4,138.2 518.8,129.3 520.2,120.6 521.5,112.4 522.9,104.6 524.3,97.6 525.7,91.4 527.1,86.1 528.4,81.8 529.8,78.7 531.2,76.9 532.6,76.2 534.0,76.9 535.3,78.7 536.7,81.8 538.1,86.1 539.5,91.4 540.9,97.6 542.2,104.6 543.6,112.4 545.0,120.6 546.4,129.3 547.8,138.2 549.1,147.2 550.5,156.2 551.9,165.0 553.3,173.5 554.7,181.7 556.1,189.4 557.4,196.7 558.8,203.5 560.2,209.7 561.6,215.3 563.0,220.4 564.3,224.9 565.7,228.9 567.1,232.4 568.5,235.4 569.9,238.0 571.2,240.2 572.6,242.1 574.0,243.7 575.4,245.0 576.8,246.1 578.1,247.0 579.5,247.7 580.9,248.3 582.3,248.7 583.7,249.1 585.0,249.4 586.4,249.6 587.8,249.8"/>
<polyline points="475.3,249.8 476.7,249.6 478.2,249.4 479.6,249.1 481.0,248.7 482.5,248.3 483.9,247.7 485.3,247.0 486.7,246.2 488.2,245.1 489.6,243.8 491.0,242.3 492.5,240.4 493.9,238.3 495.3,235.7 496.8,232.8 498.2,229.4 499.6,225.5 501.1,221.2 502.5,216.3 503.9,210.8 505.3,204.9 506.8,198.4 508.2,191.4 509.6,183.9 511.1,176.0 512.5,167.8 513.9,159.4 515.4,150.8 516.8,142.2 518.2,133.6 519.7,125.3 521.1,117.4 522.5,110.0 523.9,103.3 525.4,97.3 526.8,92.3 528.2,88.2 529.7,85.3 531.1,83.5 532.5,82.9 534.0,83.5 535.4,85.3 536.8,88.2 538.3,92.3 539.7,97.3 541.1,103.3 542.5,110.0 544.0,117.4 545.4,125.3 546.8,133.6 548.3,142.2 549.7,150.8 551.1,159.4 552.6,167.8 554.0,176.0 555.4,183.9 556.8,191.4 558.3,198.4 559.7,204.9 561.1,210.8 562.6,216.3 564.0,221.2 565.4,225.5 566.9,229.4 568.3,232.8 569.7,235.7 571.2,238.3 572.6,240.4 574.0,242.3 575.4,243.8 576.9,245.1 578.3,246.2 579.7,247.0 581.2,247.7 582.6,248.3 584.0,248.7 585.5,249.1 586.9,249.4 588.3,249.6 589.8,249.8"/>
<polyline points="478.5,249.8 479.8,249.6 481.1,249.4 482.4,249.1 483.8,248.7 485.1,248.3 486.4,247.7 487.8,246.9 489.1,246.0 490.4,244.9 491.8,243.6 493.1,242.0 494.4,240.0 495.7,237.7 497.1,235.0 498.4,231.9 499.7,228.3 501.1,224.2 502.4,219.5 503.7,214.2 505.0,208.4 506.4,201.9 507.7,194.9 509.0,187.4 510.4,179.3 511.7,170.7 513.0,161.8 514.4,152.6 515.7,143.2 517.0,133.8 518.3,124.5 519.7,115.4 521.0,106.8 522.3,98.7 523.7,91.3 525.0,84.7 526.3,79.2 527.6,74.8 529.0,71.5 530.3,69.5 531.6,68.9 533.0,69.5 534.3,71.5 535.6,74.8 537.0,79.2 538.3,84.7 539.6,91.3 540.9,98.7 542.3,106.8 543.6,115.4 544.9,124.5 546.3,133.8 547.6,143.2 548.9,152.6 550.2,161.8 551.6,170.7 552.9,179.3 554.2,187.4 555.6,194.9 556.9,201.9 558.2,208.4 559.6,214.2 560.9,219.5 562.2,224.2 563.5,228.3 564.9,231.9 566.2,235.0 567.5,237.7 568.9,240.0 570.2,242.0 571.5,243.6 572.9,244.9 574.2,246.0 575.5,246.9 576.8,247.7 578.2,248.3 579.5,248.7 580.8,249.1 582.2,249.4 583.5,249.6 584.8,249.8"/>
<polyline points="474.8,249.8 476.3,249.6 477.7,249.4 479.2,249.1 480.6,248.8 482.0,248.3 483.5,247.7 484.9,247.0 486.4,246.2 487.8,245.1 489.3,243.8 490.7,242.3 492.1,240.5 493.6,238.3 495.0,235.8 496.5,232.9 497.9,229.5 499.4,225.7 500.8,221.3 502.2,216.5 503.7,211.1 505.1,205.2 506.6,198.7 508.0,191.8 509.5,184.4 510.9,176.6 512.3,168.5 513.8,160.1 515.2,151.6 516.7,143.1 518.1,134.6 519.6,126.4 521.0,118.6 522.4,111.3 523.9,104.6 525.3,98.7 526.8,93.7 528.2,89.7 529.7,86.8 531.1,85.0 532.5,84.4 534.0,85.0 535.4,86.8 536.9,89.7 538.3,93.7 539.8,98.7 541.2,104.6 542.6,111.3 544.1,118.6 545.5,126.4 547.0,134.6 548.4,143.1 549.9,151.6 551.3,160.1 552.7,168.5 554.2,176.6 555.6,184.4 557.1,191.8 558.5,198.7 560.0,205.2 561.4,211.1 562.8,216.5 564.3,221.3 565.7,225.7 567.2,229.5 568.6,232.9 570.1,235.8 571.5,238.3 572.9,240.5 574.4,242.3 575.8,243.8 577.3,245.1 578.7,246.2 580.2,247.0 581.6,247.7 583.0,248.3 584.5,248.8 585.9,249.1 587.4,249.4 588.8,249.6 590.3,249.8"/>
<polyline points="477.5,249.8 478.8,249.6 480.2,249.4 481.5,249.1 482.9,248.7 484.2,248.3 485.6,247.7 486.9,247.0 488.3,246.1 489.6,245.0 490.9,243.6 492.3,242.0 493.6,240.1 495.0,237.8 496.3,235.2 497.7,232.1 499.0,228.5 500.4,224.4 501.7,219.8 503.0,214.6 504.4,208.8 505.7,202.4 507.1,195.5 508.4,188.0 509.8,180.0 511.1,171.6 512.5,162.8 513.8,153.7 515.1,144.5 516.5,135.2 517.8,126.0 519.2,117.1 520.5,108.5 521.9,100.5 523.2,93.2 524.6,86.8 525.9,81.3 527.3,76.9 528.6,73.8 529.9,71.8 531.3,71.2 532.6,71.8 534.0,73.8 535.3,76.9 536.7,81.3 538.0,86.8 539.4,93.2 540.7,100.5 542.0,108.5 543.4,117.1 544.7,126.0 546.1,135.2 547.4,144.5 548.8,153.7 550.1,162.8 551.5,171.6 552.8,180.0 554.2,188.0 555.5,195.5 556.8,202.4 558.2,208.8 559.5,214.6 560.9,219.8 562.2,224.4 563.6,228.5 564.9,232.1 566.3,235.2 567.6,237.8 568.9,240.1 570.3,242.0 571.6,243.6 573.0,245.0 574.3,246.1 575.7,247.0 577.0,247.7 578.4,248.3 579.7,248.7 581.1,249.1 582.4,249.4 583.7,249.6 585.1,249.8"/>
<polyline points="473.0,249.8 474.4,249.6 475.9,249.4 477.3,249.1 478.8,248.8 480.2,248.3 481.6,247.7 483.1,247.0 484.5,246.2 486.0,245.1 487.4,243.8 488.9,242.3 490.3,240.5 491.8,238.3 493.2,235.8 494.7,232.9 496.1,229.6 497.5,225.7 499.0,221.4 500.4,216.5 501.9,211.2 503.3,205.3 504.8,198.8 506.2,191.9 507.7,184.5 509.1,176.8 510.6,168.7 512.0,160.3 513.5,151.8 514.9,143.3 516.3,134.9 517.8,126.7 519.2,118.9 520.7,111.6 522.1,104.9 523.6,99.0 525.0,94.1 526.5,90.1 527.9,87.2 529.4,85.4 530.8,84.8 532.2,85.4 533.7,87.2 535.1,90.1 536.6,94.1 538.0,99.0 539.5,104.9 540.9,111.6 542.4,118.9 543.8,126.7 545.3,134.9 546.7,143.3 548.1,151.8 549.6,160.3 551.0,168.7 552.5,176.8 553.9,184.5 555.4,191.9 556.8,198.8 558.3,205.3 559.7,211.2 561.2,216.5 562.6,221.4 564.1,225.7 565.5,229.6 566.9,232.9 568.4,235.8 569.8,238.3 571.3,240.5 572.7,242.3 574.2,243.8 575.6,245.1 577.1,246.2 578.5,247.0 580.0,247.7 581.4,248.3 582.8,248.8 584.3,249.1 585.7,249.4 587.2,249.6 588.6,249.8"/>
<polyline points="478.0,249.8 479.4,249.6 480.7,249.4 482.1,249.1 483.5,248.7 484.9,248.3 486.3,247.7 487.7,247.0 489.1,246.1 490.4,245.0 491.8,243.7 493.2,242.1 494.6,240.3 496.0,238.0 497.4,235.4 498.8,232.4 500.1,228.9 501.5,224.9 502.9,220.4 504.3,215.4 505.7,209.8 507.1,203.6 508.5,196.9 509.8,189.6 511.2,181.9 512.6,173.8 514.0,165.3 515.4,156.5 516.8,147.6 518.2,138.6 519.5,129.7 520.9,121.1 522.3,112.9 523.7,105.2 525.1,98.2 526.5,92.0 527.9,86.7 529.2,82.5 530.6,79.4 532.0,77.5 533.4,76.9 534.8,77.5 536.2,79.4 537.6,82.5 538.9,86.7 540.3,92.0 541.7,98.2 543.1,105.2 544.5,112.9 545.9,121.1 547.3,129.7 548.6,138.6 550.0,147.6 551.4,156.5 552.8,165.3 554.2,173.8 555.6,181.9 557.0,189.6 558.3,196.9 559.7,203.6 561.1,209.8 562.5,215.4 563.9,220.4 565.3,224.9 566.7,228.9 568.0,232.4 569.4,235.4 570.8,238.0 572.2,240.3 573.6,242.1 575.0,243.7 576.4,245.0 577.7,246.1 579.1,247.0 580.5,247.7 581.9,248.3 583.3,248.7 584.7,249.1 586.1,249.4 587.4,249.6 588.8,249.8"/>
<polyline points="477.1,249.8 478.6,249.6 480.0,249.4 481.4,249.1 482.8,248.7 484.3,248.3 485.7,247.7 487.1,247.0 488.5,246.2 490.0,245.1 491.4,243.8 492.8,242.3 494.3,240.4 495.7,238.3 497.1,235.7 498.5,232.8 500.0,229.4 501.4,225.5 502.8,221.1 504.2,216.2 505.7,210.7 507.1,204.7 508.5,198.2 509.9,191.2 511.4,183.7 512.8,175.8 514.2,167.6 515.6,159.1 517.1,150.5 518.5,141.8 519.9,133.3 521.3,124.9 522.8,117.0 524.2,109.6 525.6,102.8 527.1,96.8 528.5,91.7 529.9,87.7 531.3,84.7 532.8,82.9 534.2,82.3 535.6,82.9 537.0,84.7 538.5,87.7 539.9,91.7 541.3,96.8 542.7,102.8 544.2,109.6 545.6,117.0 547.0,124.9 548.4,133.3 549.9,141.8 551.3,150.5 552.7,159.1 554.2,167.6 555.6,175.8 557.0,183.7 558.4,191.2 559.9,198.2 561.3,204.7 562.7,210.7 564.1,216.2 565.6,221.1 567.0,225.5 568.4,229.4 569.8,232.8 571.3,235.7 572.7,238.3 574.1,240.4 575.5,242.3 577.0,243.8 578.4,245.1 579.8,246.2 581.3,247.0 582.7,247.7 584.1,248.3 585.5,248.7 587.0,249.1 588.4,249.4 589.8,249.6 591.2,249.8"/>
<polyline points="477.0,249.8 478.4,249.6 479.8,249.4 481.2,249.1 482.6,248.7 484.0,248.3 485.4,247.7 486.9,247.0 488.3,246.1 489.7,245.1 491.1,243.8 492.5,242.2 493.9,240.4 495.3,238.2 496.8,235.6 498.2,232.7 499.6,229.2 501.0,225.3 502.4,220.9 503.8,216.0 505.3,210.5 506.7,204.4 508.1,197.9 509.5,190.8 510.9,183.2 512.3,175.2 513.7,166.9 515.2,158.4 516.6,149.7 518.0,140.9 519.4,132.3 520.8,123.9 522.2,115.9 523.6,108.4 525.1,101.5 526.5,95.5 527.9,90.4 529.3,86.3 530.7,83.3 532.1,81.4 533.6,80.8 535.0,81.4 536.4,83.3 537.8,86.3 539.2,90.4 540.6,95.5 542.0,101.5 543.5,108.4 544.9,115.9 546.3,123.9 547.7,132.3 549.1,140.9 550.5,149.7 551.9,158.4 553.4,166.9 554.8,175.2 556.2,183.2 557.6,190.8 559.0,197.9 560.4,204.4 561.8,210.5 563.3,216.0 564.7,220.9 566.1,225.3 567.5,229.2 568.9,232.7 570.3,235.6 571.8,238.2 573.2,240.4 574.6,242.2 576.0,243.8 577.4,245.1 578.8,246.1 580.2,247.0 581.7,247.7 583.1,248.3 584.5,248.7 585.9,249.1 587.3,249.4 588.7,249.6 590.1,249.8"/>
<polyline points="482.5,249.8 483.8,249.6 485.1,249.4 486.4,249.1 487.7,248.7 488.9,248.2 490.2,247.6 491.5,246.9 492.8,246.0 494.1,244.9 495.4,243.5 496.7,241.8 498.0,239.9 499.3,237.5 500.5,234.7 501.8,231.5 503.1,227.8 504.4,223.6 505.7,218.8 507.0,213.3 508.3,207.3 509.6,200.7 510.9,193.4 512.2,185.6 513.4,177.2 514.7,168.4 516.0,159.2 517.3,149.6 518.6,139.9 519.9,130.2 521.2,120.5 522.5,111.1 523.8,102.1 525.0,93.7 526.3,86.0 527.6,79.2 528.9,73.4 530.2,68.8 531.5,65.4 532.8,63.4 534.1,62.7 535.4,63.4 536.7,65.4 537.9,68.8 539.2,73.4 540.5,79.2 541.8,86.0 543.1,93.7 544.4,102.1 545.7,111.1 547.0,120.5 548.3,130.2 549.5,139.9 550.8,149.6 552.1,159.2 553.4,168.4 554.7,177.2 556.0,185.6 557.3,193.4 558.6,200.7 559.9,207.3 561.1,213.3 562.4,218.8 563.7,223.6 565.0,227.8 566.3,231.5 567.6,234.7 568.9,237.5 570.2,239.9 571.5,241.8 572.8,243.5 574.0,244.9 575.3,246.0 576.6,246.9 577.9,247.6 579.2,248.2 580.5,248.7 581.8,249.1 583.1,249.4 584.4,249.6 585.6,249.8"/>
<polyline points="480.2,249.8 481.6,249.6 482.9,249.4 484.2,249.1 485.5,248.7 486.8,248.3 488.2,247.7 489.5,246.9 490.8,246.0 492.1,244.9 493.4,243.6 494.7,241.9 496.1,240.0 497.4,237.7 498.7,235.0 500.0,231.8 501.3,228.2 502.6,224.0 504.0,219.3 505.3,214.0 506.6,208.1 507.9,201.6 509.2,194.5 510.5,186.8 511.9,178.7 513.2,170.0 514.5,161.0 515.8,151.7 517.1,142.2 518.4,132.7 519.8,123.3 521.1,114.1 522.4,105.4 523.7,97.2 525.0,89.7 526.3,83.1 527.7,77.5 529.0,73.0 530.3,69.7 531.6,67.7 532.9,67.0 534.3,67.7 535.6,69.7 536.9,73.0 538.2,77.5 539.5,83.1 540.8,89.7 542.2,97.2 543.5,105.4 544.8,114.1 546.1,123.3 547.4,132.7 548.7,142.2 550.1,151.7 551.4,161.0 552.7,170.0 554.0,178.7 555.3,186.8 556.6,194.5 558.0,201.6 559.3,208.1 560.6,214.0 561.9,219.3 563.2,224.0 564.5,228.2 565.9,231.8 567.2,235.0 568.5,237.7 569.8,240.0 571.1,241.9 572.5,243.6 573.8,244.9 575.1,246.0 576.4,246.9 577.7,247.7 579.0,248.3 580.4,248.7 581.7,249.1 583.0,249.4 584.3,249.6 585.6,249.8"/>
<polyline points="475.6,249.8 477.0,249.6 478.4,249.4 479.8,249.1 481.2,248.7 482.6,248.3 484.0,247.7 485.4,247.0 486.9,246.1 488.3,245.1 489.7,243.8 491.1,242.2 492.5,240.4 493.9,238.2 495.3,235.6 496.7,232.6 498.1,229.2 499.5,225.2 500.9,220.8 502.3,215.8 503.8,210.3 505.2,204.2 506.6,197.6 508.0,190.5 509.4,182.9 510.8,174.9 512.2,166.6 513.6,157.9 515.0,149.2 516.4,140.4 517.8,131.7 519.2,123.3 520.6,115.2 522.1,107.6 523.5,100.8 524.9,94.7 526.3,89.5 527.7,85.4 529.1,82.4 530.5,80.5 531.9,79.9 533.3,80.5 534.7,82.4 536.1,85.4 537.5,89.5 539.0,94.7 540.4,100.8 541.8,107.6 543.2,115.2 544.6,123.3 546.0,131.7 547.4,140.4 548.8,149.2 550.2,157.9 551.6,166.6 553.0,174.9 554.4,182.9 555.9,190.5 557.3,197.6 558.7,204.2 560.1,210.3 561.5,215.8 562.9,220.8 564.3,225.2 565.7,229.2 567.1,232.6 568.5,235.6 569.9,238.2 571.3,240.4 572.8,242.2 574.2,243.8 575.6,245.1 577.0,246.1 578.4,247.0 579.8,247.7 581.2,248.3 582.6,248.7 584.0,249.1 585.4,249.4 586.8,249.6 588.2,249.8"/>
<polyline points="480.6,249.8 481.9,249.6 483.2,249.4 484.5,249.1 485.8,248.7 487.1,248.2 488.4,247.7 489.7,246.9 491.0,246.0 492.4,244.9 493.7,243.5 495.0,241.9 496.3,239.9 497.6,237.6 498.9,234.9 500.2,231.7 501.5,228.0 502.8,223.8 504.1,219.0 505.4,213.7 506.7,207.7 508.0,201.1 509.3,194.0 510.6,186.2 511.9,178.0 513.2,169.2 514.5,160.1 515.8,150.7 517.1,141.1 518.4,131.5 519.7,121.9 521.0,112.7 522.3,103.8 523.6,95.5 524.9,87.9 526.2,81.2 527.5,75.5 528.9,70.9 530.2,67.6 531.5,65.6 532.8,64.9 534.1,65.6 535.4,67.6 536.7,70.9 538.0,75.5 539.3,81.2 540.6,87.9 541.9,95.5 543.2,103.8 544.5,112.7 545.8,121.9 547.1,131.5 548.4,141.1 549.7,150.7 551.0,160.1 552.3,169.2 553.6,178.0 554.9,186.2 556.2,194.0 557.5,201.1 558.8,207.7 560.1,213.7 561.4,219.0 562.7,223.8 564.0,228.0 565.3,231.7 566.7,234.9 568.0,237.6 569.3,239.9 570.6,241.9 571.9,243.5 573.2,244.9 574.5,246.0 575.8,246.9 577.1,247.7 578.4,248.2 579.7,248.7 581.0,249.1 582.3,249.4 583.6,249.6 584.9,249.8"/>
<polyline points="475.2,249.8 476.6,249.6 478.1,249.4 479.5,249.1 480.9,248.7 482.3,248.3 483.8,247.7 485.2,247.0 486.6,246.2 488.1,245.1 489.5,243.8 490.9,242.3 492.3,240.4 493.8,238.3 495.2,235.7 496.6,232.8 498.0,229.4 499.5,225.5 500.9,221.1 502.3,216.2 503.7,210.7 505.2,204.7 506.6,198.2 508.0,191.2 509.4,183.7 510.9,175.8 512.3,167.6 513.7,159.1 515.2,150.5 516.6,141.8 518.0,133.3 519.4,125.0 520.9,117.0 522.3,109.6 523.7,102.8 525.1,96.9 526.6,91.8 528.0,87.7 529.4,84.8 530.8,83.0 532.3,82.3 533.7,83.0 535.1,84.8 536.6,87.7 538.0,91.8 539.4,96.9 540.8,102.8 542.3,109.6 543.7,117.0 545.1,125.0 546.5,133.3 548.0,141.8 549.4,150.5 550.8,159.1 552.2,167.6 553.7,175.8 555.1,183.7 556.5,191.2 558.0,198.2 559.4,204.7 560.8,210.7 562.2,216.2 563.7,221.1 565.1,225.5 566.5,229.4 567.9,232.8 569.4,235.7 570.8,238.3 572.2,240.4 573.6,242.3 575.1,243.8 576.5,245.1 577.9,246.2 579.4,247.0 580.8,247.7 582.2,248.3 583.6,248.7 585.1,249.1 586.5,249.4 587.9,249.6 589.3,249.8"/>
<polyline points="475.9,249.8 477.3,249.6 478.7,249.4 480.0,249.1 481.4,248.7 482.8,248.3 484.2,247.7 485.6,247.0 487.0,246.1 488.4,245.0 489.8,243.7 491.2,242.2 492.6,240.3 493.9,238.1 495.3,235.5 496.7,232.5 498.1,229.0 499.5,225.0 500.9,220.5 502.3,215.5 503.7,209.9 505.1,203.8 506.5,197.1 507.9,189.8 509.2,182.1 510.6,174.0 512.0,165.6 513.4,156.8 514.8,147.9 516.2,139.0 517.6,130.2 519.0,121.6 520.4,113.4 521.8,105.8 523.2,98.8 524.5,92.6 525.9,87.3 527.3,83.2 528.7,80.1 530.1,78.2 531.5,77.6 532.9,78.2 534.3,80.1 535.7,83.2 537.1,87.3 538.5,92.6 539.8,98.8 541.2,105.8 542.6,113.4 544.0,121.6 545.4,130.2 546.8,139.0 548.2,147.9 549.6,156.8 551.0,165.6 552.4,174.0 553.8,182.1 555.1,189.8 556.5,197.1 557.9,203.8 559.3,209.9 560.7,215.5 562.1,220.5 563.5,225.0 564.9,229.0 566.3,232.5 567.7,235.5 569.1,238.1 570.4,240.3 571.8,242.2 573.2,243.7 574.6,245.0 576.0,246.1 577.4,247.0 578.8,247.7 580.2,248.3 581.6,248.7 583.0,249.1 584.4,249.4 585.7,249.6 587.1,249.8"/>
<polyline points="478.5,249.8 479.9,249.6 481.2,249.4 482.5,249.1 483.8,248.7 485.1,248.2 486.4,247.7 487.7,246.9 489.0,246.0 490.3,244.9 491.6,243.5 492.9,241.9 494.2,239.9 495.6,237.6 496.9,234.9 498.2,231.7 499.5,228.1 500.8,223.9 502.1,219.1 503.4,213.8 504.7,207.8 506.0,201.3 507.3,194.2 508.6,186.5 510.0,178.2 511.3,169.5 512.6,160.5 513.9,151.1 515.2,141.5 516.5,131.9 517.8,122.5 519.1,113.2 520.4,104.4 521.7,96.1 523.0,88.6 524.3,81.9 525.7,76.2 527.0,71.7 528.3,68.4 529.6,66.4 530.9,65.7 532.2,66.4 533.5,68.4 534.8,71.7 536.1,76.2 537.4,81.9 538.7,88.6 540.0,96.1 541.4,104.4 542.7,113.2 544.0,122.5 545.3,131.9 546.6,141.5 547.9,151.1 549.2,160.5 550.5,169.5 551.8,178.2 553.1,186.5 554.4,194.2 555.8,201.3 557.1,207.8 558.4,213.8 559.7,219.1 561.0,223.9 562.3,228.1 563.6,231.7 564.9,234.9 566.2,237.6 567.5,239.9 568.8,241.9 570.1,243.5 571.5,244.9 572.8,246.0 574.1,246.9 575.4,247.7 576.7,248.2 578.0,248.7 579.3,249.1 580.6,249.4 581.9,249.6 583.2,249.8"/>
<polyline points="477.3,249.8 478.6,249.6 480.0,249.4 481.3,249.1 482.7,248.7 484.0,248.3 485.4,247.7 486.7,247.0 488.1,246.1 489.4,245.0 490.8,243.6 492.1,242.0 493.4,240.1 494.8,237.8 496.1,235.2 497.5,232.1 498.8,228.5 500.2,224.4 501.5,219.8 502.9,214.6 504.2,208.8 505.5,202.4 506.9,195.5 508.2,188.0 509.6,180.0 510.9,171.6 512.3,162.8 513.6,153.7 515.0,144.5 516.3,135.2 517.7,126.0 519.0,117.1 520.3,108.6 521.7,100.6 523.0,93.3 524.4,86.8 525.7,81.4 527.1,77.0 528.4,73.8 529.8,71.9 531.1,71.2 532.5,71.9 533.8,73.8 535.1,77.0 536.5,81.4 537.8,86.8 539.2,93.3 540.5,100.6 541.9,108.6 543.2,117.1 544.6,126.0 545.9,135.2 547.3,144.5 548.6,153.7 549.9,162.8 551.3,171.6 552.6,180.0 554.0,188.0 555.3,195.5 556.7,202.4 558.0,208.8 559.4,214.6 560.7,219.8 562.1,224.4 563.4,228.5 564.7,232.1 566.1,235.2 567.4,237.8 568.8,240.1 570.1,242.0 571.5,243.6 572.8,245.0 574.2,246.1 575.5,247.0 576.8,247.7 578.2,248.3 579.5,248.7 580.9,249.1 582.2,249.4 583.6,249.6 584.9,249.8"/>
<polyline points="474.7,249.8 476.1,249.6 477.6,249.4 479.0,249.1 480.5,248.8 481.9,248.3 483.4,247.7 484.8,247.0 486.3,246.2 487.7,245.1 489.2,243.9 490.6,242.3 492.1,240.5 493.5,238.4 495.0,235.9 496.4,232.9 497.9,229.6 499.3,225.8 500.8,221.4 502.2,216.6 503.7,211.2 505.1,205.3 506.6,198.9 508.0,192.0 509.5,184.7 510.9,176.9 512.4,168.8 513.8,160.5 515.3,152.0 516.7,143.5 518.2,135.2 519.6,127.0 521.1,119.2 522.5,111.9 524.0,105.3 525.4,99.4 526.9,94.5 528.3,90.5 529.8,87.6 531.2,85.8 532.7,85.2 534.1,85.8 535.6,87.6 537.0,90.5 538.5,94.5 539.9,99.4 541.4,105.3 542.8,111.9 544.3,119.2 545.7,127.0 547.2,135.2 548.6,143.5 550.1,152.0 551.5,160.5 553.0,168.8 554.4,176.9 555.9,184.7 557.3,192.0 558.7,198.9 560.2,205.3 561.6,211.2 563.1,216.6 564.5,221.4 566.0,225.8 567.4,229.6 568.9,232.9 570.3,235.9 571.8,238.4 573.2,240.5 574.7,242.3 576.1,243.9 577.6,245.1 579.0,246.2 580.5,247.0 581.9,247.7 583.4,248.3 584.8,248.8 586.3,249.1 587.7,249.4 589.2,249.6 590.6,249.8"/>
<polyline points="481.4,249.8 482.7,249.6 483.9,249.4 485.2,249.1 486.5,248.7 487.8,248.2 489.1,247.6 490.4,246.9 491.7,246.0 493.0,244.9 494.2,243.5 495.5,241.8 496.8,239.8 498.1,237.5 499.4,234.7 500.7,231.5 502.0,227.8 503.2,223.5 504.5,218.7 505.8,213.3 507.1,207.2 508.4,200.6 509.7,193.3 511.0,185.5 512.2,177.1 513.5,168.2 514.8,159.0 516.1,149.4 517.4,139.7 518.7,129.9 520.0,120.2 521.3,110.8 522.5,101.7 523.8,93.3 525.1,85.6 526.4,78.8 527.7,73.0 529.0,68.4 530.3,65.0 531.5,62.9 532.8,62.2 534.1,62.9 535.4,65.0 536.7,68.4 538.0,73.0 539.3,78.8 540.5,85.6 541.8,93.3 543.1,101.7 544.4,110.8 545.7,120.2 547.0,129.9 548.3,139.7 549.6,149.4 550.8,159.0 552.1,168.2 553.4,177.1 554.7,185.5 556.0,193.3 557.3,200.6 558.6,207.2 559.8,213.3 561.1,218.7 562.4,223.5 563.7,227.8 565.0,231.5 566.3,234.7 567.6,237.5 568.8,239.8 570.1,241.8 571.4,243.5 572.7,244.9 574.0,246.0 575.3,246.9 576.6,247.6 577.9,248.2 579.1,248.7 580.4,249.1 581.7,249.4 583.0,249.6 584.3,249.8"/>
<polyline points="475.1,249.8 476.6,249.6 478.0,249.4 479.4,249.1 480.8,248.7 482.3,248.3 483.7,247.7 485.1,247.0 486.5,246.2 488.0,245.1 489.4,243.8 490.8,242.3 492.2,240.4 493.7,238.3 495.1,235.7 496.5,232.8 497.9,229.4 499.4,225.5 500.8,221.1 502.2,216.2 503.6,210.7 505.1,204.7 506.5,198.2 507.9,191.2 509.4,183.7 510.8,175.8 512.2,167.6 513.6,159.1 515.1,150.5 516.5,141.8 517.9,133.2 519.3,124.9 520.8,117.0 522.2,109.6 523.6,102.8 525.0,96.8 526.5,91.7 527.9,87.7 529.3,84.7 530.7,82.9 532.2,82.3 533.6,82.9 535.0,84.7 536.4,87.7 537.9,91.7 539.3,96.8 540.7,102.8 542.2,109.6 543.6,117.0 545.0,124.9 546.4,133.2 547.9,141.8 549.3,150.5 550.7,159.1 552.1,167.6 553.6,175.8 555.0,183.7 556.4,191.2 557.8,198.2 559.3,204.7 560.7,210.7 562.1,216.2 563.5,221.1 565.0,225.5 566.4,229.4 567.8,232.8 569.3,235.7 570.7,238.3 572.1,240.4 573.5,242.3 575.0,243.8 576.4,245.1 577.8,246.2 579.2,247.0 580.7,247.7 582.1,248.3 583.5,248.7 584.9,249.1 586.4,249.4 587.8,249.6 589.2,249.8"/>
<polyline points="477.5,249.8 478.9,249.6 480.3,249.4 481.7,249.1 483.2,248.7 484.6,248.3 486.0,247.7 487.4,247.0 488.8,246.1 490.2,245.1 491.7,243.8 493.1,242.2 494.5,240.4 495.9,238.2 497.3,235.6 498.7,232.7 500.2,229.3 501.6,225.4 503.0,220.9 504.4,216.0 505.8,210.5 507.2,204.5 508.7,197.9 510.1,190.9 511.5,183.3 512.9,175.4 514.3,167.1 515.7,158.5 517.2,149.8 518.6,141.1 520.0,132.5 521.4,124.1 522.8,116.1 524.3,108.6 525.7,101.8 527.1,95.8 528.5,90.6 529.9,86.5 531.3,83.5 532.8,81.7 534.2,81.1 535.6,81.7 537.0,83.5 538.4,86.5 539.8,90.6 541.3,95.8 542.7,101.8 544.1,108.6 545.5,116.1 546.9,124.1 548.3,132.5 549.8,141.1 551.2,149.8 552.6,158.5 554.0,167.1 555.4,175.4 556.8,183.3 558.3,190.9 559.7,197.9 561.1,204.5 562.5,210.5 563.9,216.0 565.4,220.9 566.8,225.4 568.2,229.3 569.6,232.7 571.0,235.6 572.4,238.2 573.9,240.4 575.3,242.2 576.7,243.8 578.1,245.1 579.5,246.1 580.9,247.0 582.4,247.7 583.8,248.3 585.2,248.7 586.6,249.1 588.0,249.4 589.4,249.6 590.9,249.8"/>
<polyline points="480.0,249.8 481.3,249.6 482.6,249.4 483.9,249.1 485.2,248.7 486.6,248.3 487.9,247.7 489.2,246.9 490.5,246.0 491.9,244.9 493.2,243.6 494.5,241.9 495.8,240.0 497.2,237.7 498.5,235.0 499.8,231.8 501.1,228.2 502.4,224.1 503.8,219.4 505.1,214.1 506.4,208.2 507.7,201.7 509.1,194.7 510.4,187.1 511.7,178.9 513.0,170.3 514.3,161.4 515.7,152.1 517.0,142.7 518.3,133.2 519.6,123.8 521.0,114.7 522.3,106.0 523.6,97.8 524.9,90.4 526.2,83.8 527.6,78.2 528.9,73.7 530.2,70.5 531.5,68.5 532.9,67.8 534.2,68.5 535.5,70.5 536.8,73.7 538.1,78.2 539.5,83.8 540.8,90.4 542.1,97.8 543.4,106.0 544.8,114.7 546.1,123.8 547.4,133.2 548.7,142.7 550.1,152.1 551.4,161.4 552.7,170.3 554.0,178.9 555.3,187.1 556.7,194.7 558.0,201.7 559.3,208.2 560.6,214.1 562.0,219.4 563.3,224.1 564.6,228.2 565.9,231.8 567.2,235.0 568.6,237.7 569.9,240.0 571.2,241.9 572.5,243.6 573.9,244.9 575.2,246.0 576.5,246.9 577.8,247.7 579.1,248.3 580.5,248.7 581.8,249.1 583.1,249.4 584.4,249.6 585.8,249.8"/>
<polyline points="477.1,249.8 478.6,249.6 480.0,249.4 481.4,249.1 482.8,248.7 484.2,248.3 485.6,247.7 487.0,247.0 488.4,246.1 489.8,245.1 491.2,243.8 492.6,242.2 494.0,240.3 495.4,238.1 496.8,235.6 498.2,232.6 499.6,229.1 501.0,225.2 502.4,220.7 503.8,215.7 505.2,210.2 506.6,204.1 508.0,197.5 509.4,190.3 510.8,182.7 512.2,174.7 513.6,166.3 515.0,157.6 516.4,148.8 517.8,140.0 519.2,131.3 520.7,122.8 522.1,114.7 523.5,107.1 524.9,100.2 526.3,94.1 527.7,88.9 529.1,84.8 530.5,81.8 531.9,79.9 533.3,79.3 534.7,79.9 536.1,81.8 537.5,84.8 538.9,88.9 540.3,94.1 541.7,100.2 543.1,107.1 544.5,114.7 545.9,122.8 547.3,131.3 548.7,140.0 550.1,148.8 551.5,157.6 552.9,166.3 554.3,174.7 555.7,182.7 557.1,190.3 558.5,197.5 559.9,204.1 561.3,210.2 562.8,215.7 564.2,220.7 565.6,225.2 567.0,229.1 568.4,232.6 569.8,235.6 571.2,238.1 572.6,240.3 574.0,242.2 575.4,243.8 576.8,245.1 578.2,246.1 579.6,247.0 581.0,247.7 582.4,248.3 583.8,248.7 585.2,249.1 586.6,249.4 588.0,249.6 589.4,249.8"/>
<polyline points="477.6,249.8 479.0,249.6 480.4,249.4 481.8,249.1 483.2,248.7 484.6,248.3 486.0,247.7 487.4,247.0 488.8,246.1 490.3,245.1 491.7,243.8 493.1,242.2 494.5,240.4 495.9,238.2 497.3,235.6 498.7,232.6 500.1,229.2 501.5,225.3 502.9,220.8 504.3,215.9 505.8,210.3 507.2,204.3 508.6,197.7 510.0,190.6 511.4,183.0 512.8,175.0 514.2,166.6 515.6,158.0 517.0,149.3 518.4,140.5 519.9,131.8 521.3,123.4 522.7,115.3 524.1,107.8 525.5,100.9 526.9,94.9 528.3,89.7 529.7,85.6 531.1,82.6 532.5,80.7 534.0,80.1 535.4,80.7 536.8,82.6 538.2,85.6 539.6,89.7 541.0,94.9 542.4,100.9 543.8,107.8 545.2,115.3 546.6,123.4 548.0,131.8 549.5,140.5 550.9,149.3 552.3,158.0 553.7,166.6 555.1,175.0 556.5,183.0 557.9,190.6 559.3,197.7 560.7,204.3 562.1,210.3 563.6,215.9 565.0,220.8 566.4,225.3 567.8,229.2 569.2,232.6 570.6,235.6 572.0,238.2 573.4,240.4 574.8,242.2 576.2,243.8 577.7,245.1 579.1,246.1 580.5,247.0 581.9,247.7 583.3,248.3 584.7,248.7 586.1,249.1 587.5,249.4 588.9,249.6 590.3,249.8"/>
<polyline points="473.6,249.8 475.1,249.6 476.5,249.4 478.0,249.1 479.4,248.8 480.9,248.3 482.3,247.7 483.8,247.0 485.3,246.2 486.7,245.1 488.2,243.9 489.6,242.3 491.1,240.5 492.5,238.4 494.0,235.9 495.4,233.0 496.9,229.6 498.3,225.8 499.8,221.5 501.3,216.7 502.7,211.4 504.2,205.5 505.6,199.1 507.1,192.2 508.5,184.9 510.0,177.2 511.4,169.1 512.9,160.8 514.3,152.4 515.8,144.0 517.3,135.6 518.7,127.5 520.2,119.7 521.6,112.5 523.1,105.9 524.5,100.1 526.0,95.1 527.4,91.1 528.9,88.2 530.4,86.5 531.8,85.9 533.3,86.5 534.7,88.2 536.2,91.1 537.6,95.1 539.1,100.1 540.5,105.9 542.0,112.5 543.4,119.7 544.9,127.5 546.4,135.6 547.8,144.0 549.3,152.4 550.7,160.8 552.2,169.1 553.6,177.2 555.1,184.9 556.5,192.2 558.0,199.1 559.4,205.5 560.9,211.4 562.4,216.7 563.8,221.5 565.3,225.8 566.7,229.6 568.2,233.0 569.6,235.9 571.1,238.4 572.5,240.5 574.0,242.3 575.5,243.9 576.9,245.1 578.4,246.2 579.8,247.0 581.3,247.7 582.7,248.3 584.2,248.8 585.6,249.1 587.1,249.4 588.5,249.6 590.0,249.8"/>
<polyline points="472.5,249.8 474.0,249.6 475.4,249.4 476.9,249.1 478.4,248.8 479.8,248.3 481.3,247.7 482.7,247.0 484.2,246.2 485.6,245.1 487.1,243.9 488.5,242.3 490.0,240.5 491.4,238.4 492.9,235.9 494.3,233.0 495.8,229.6 497.2,225.8 498.7,221.5 500.1,216.6 501.6,211.3 503.0,205.4 504.5,199.0 505.9,192.1 507.4,184.8 508.8,177.0 510.3,168.9 511.7,160.6 513.2,152.2 514.6,143.7 516.1,135.3 517.5,127.2 519.0,119.4 520.4,112.1 521.9,105.5 523.3,99.7 524.8,94.7 526.2,90.7 527.7,87.8 529.1,86.1 530.6,85.5 532.0,86.1 533.5,87.8 535.0,90.7 536.4,94.7 537.9,99.7 539.3,105.5 540.8,112.1 542.2,119.4 543.7,127.2 545.1,135.3 546.6,143.7 548.0,152.2 549.5,160.6 550.9,168.9 552.4,177.0 553.8,184.8 555.3,192.1 556.7,199.0 558.2,205.4 559.6,211.3 561.1,216.6 562.5,221.5 564.0,225.8 565.4,229.6 566.9,233.0 568.3,235.9 569.8,238.4 571.2,240.5 572.7,242.3 574.1,243.9 575.6,245.1 577.0,246.2 578.5,247.0 579.9,247.7 581.4,248.3 582.8,248.8 584.3,249.1 585.7,249.4 587.2,249.6 588.6,249.8"/>
<polyline points="479.2,249.8 480.6,249.6 481.9,249.4 483.3,249.1 484.7,248.7 486.0,248.3 487.4,247.7 488.7,247.0 490.1,246.1 491.4,245.0 492.8,243.6 494.1,242.0 495.5,240.1 496.9,237.9 498.2,235.2 499.6,232.2 500.9,228.6 502.3,224.5 503.6,219.9 505.0,214.8 506.3,209.1 507.7,202.7 509.1,195.9 510.4,188.4 511.8,180.5 513.1,172.2 514.5,163.5 515.8,154.5 517.2,145.3 518.5,136.1 519.9,127.0 521.3,118.2 522.6,109.7 524.0,101.8 525.3,94.6 526.7,88.2 528.0,82.8 529.4,78.5 530.7,75.3 532.1,73.4 533.5,72.7 534.8,73.4 536.2,75.3 537.5,78.5 538.9,82.8 540.2,88.2 541.6,94.6 543.0,101.8 544.3,109.7 545.7,118.2 547.0,127.0 548.4,136.1 549.7,145.3 551.1,154.5 552.4,163.5 553.8,172.2 555.2,180.5 556.5,188.4 557.9,195.9 559.2,202.7 560.6,209.1 561.9,214.8 563.3,219.9 564.6,224.5 566.0,228.6 567.4,232.2 568.7,235.2 570.1,237.9 571.4,240.1 572.8,242.0 574.1,243.6 575.5,245.0 576.8,246.1 578.2,247.0 579.6,247.7 580.9,248.3 582.3,248.7 583.6,249.1 585.0,249.4 586.3,249.6 587.7,249.8"/>
<polyline points="475.1,249.8 476.6,249.6 478.0,249.4 479.4,249.1 480.8,248.7 482.2,248.3 483.7,247.7 485.1,247.0 486.5,246.1 487.9,245.1 489.3,243.8 490.8,242.2 492.2,240.4 493.6,238.2 495.0,235.7 496.4,232.7 497.9,229.3 499.3,225.4 500.7,221.0 502.1,216.1 503.5,210.6 505.0,204.6 506.4,198.0 507.8,191.0 509.2,183.4 510.6,175.5 512.1,167.2 513.5,158.7 514.9,150.0 516.3,141.3 517.7,132.7 519.2,124.4 520.6,116.4 522.0,108.9 523.4,102.1 524.8,96.1 526.3,91.0 527.7,86.9 529.1,83.9 530.5,82.1 531.9,81.5 533.4,82.1 534.8,83.9 536.2,86.9 537.6,91.0 539.0,96.1 540.5,102.1 541.9,108.9 543.3,116.4 544.7,124.4 546.1,132.7 547.6,141.3 549.0,150.0 550.4,158.7 551.8,167.2 553.2,175.5 554.7,183.4 556.1,191.0 557.5,198.0 558.9,204.6 560.3,210.6 561.8,216.1 563.2,221.0 564.6,225.4 566.0,229.3 567.5,232.7 568.9,235.7 570.3,238.2 571.7,240.4 573.1,242.2 574.6,243.8 576.0,245.1 577.4,246.1 578.8,247.0 580.2,247.7 581.7,248.3 583.1,248.7 584.5,249.1 585.9,249.4 587.3,249.6 588.8,249.8"/>
<polyline points="479.9,249.8 481.3,249.6 482.7,249.4 484.0,249.1 485.4,248.7 486.7,248.3 488.1,247.7 489.4,247.0 490.8,246.1 492.1,245.0 493.5,243.6 494.8,242.0 496.2,240.1 497.5,237.9 498.9,235.2 500.2,232.1 501.6,228.6 502.9,224.5 504.3,219.9 505.6,214.7 507.0,209.0 508.4,202.6 509.7,195.7 511.1,188.3 512.4,180.4 513.8,172.0 515.1,163.3 516.5,154.2 517.8,145.1 519.2,135.8 520.5,126.7 521.9,117.8 523.2,109.3 524.6,101.4 525.9,94.2 527.3,87.8 528.6,82.4 530.0,78.0 531.3,74.8 532.7,72.9 534.0,72.2 535.4,72.9 536.8,74.8 538.1,78.0 539.5,82.4 540.8,87.8 542.2,94.2 543.5,101.4 544.9,109.3 546.2,117.8 547.6,126.7 548.9,135.8 550.3,145.1 551.6,154.2 553.0,163.3 554.3,172.0 555.7,180.4 557.0,188.3 558.4,195.7 559.7,202.6 561.1,209.0 562.5,214.7 563.8,219.9 565.2,224.5 566.5,228.6 567.9,232.1 569.2,235.2 570.6,237.9 571.9,240.1 573.3,242.0 574.6,243.6 576.0,245.0 577.3,246.1 578.7,247.0 580.0,247.7 581.4,248.3 582.7,248.7 584.1,249.1 585.4,249.4 586.8,249.6 588.1,249.8"/>
<polyline points="477.2,249.8 478.6,249.6 480.0,249.4 481.4,249.1 482.8,248.7 484.2,248.3 485.6,247.7 487.0,247.0 488.4,246.1 489.8,245.0 491.2,243.7 492.6,242.2 494.0,240.3 495.4,238.1 496.8,235.5 498.1,232.5 499.5,229.0 500.9,225.1 502.3,220.6 503.7,215.6 505.1,210.0 506.5,203.9 507.9,197.2 509.3,190.0 510.7,182.3 512.1,174.2 513.5,165.8 514.9,157.1 516.3,148.2 517.7,139.4 519.1,130.6 520.5,122.0 521.9,113.9 523.3,106.2 524.7,99.3 526.0,93.1 527.4,87.9 528.8,83.7 530.2,80.7 531.6,78.8 533.0,78.2 534.4,78.8 535.8,80.7 537.2,83.7 538.6,87.9 540.0,93.1 541.4,99.3 542.8,106.2 544.2,113.9 545.6,122.0 547.0,130.6 548.4,139.4 549.8,148.2 551.2,157.1 552.6,165.8 554.0,174.2 555.3,182.3 556.7,190.0 558.1,197.2 559.5,203.9 560.9,210.0 562.3,215.6 563.7,220.6 565.1,225.1 566.5,229.0 567.9,232.5 569.3,235.5 570.7,238.1 572.1,240.3 573.5,242.2 574.9,243.7 576.3,245.0 577.7,246.1 579.1,247.0 580.5,247.7 581.9,248.3 583.2,248.7 584.6,249.1 586.0,249.4 587.4,249.6 588.8,249.8"/>
<polyline points="478.5,249.8 479.9,249.6 481.3,249.4 482.7,249.1 484.1,248.7 485.4,248.3 486.8,247.7 488.2,247.0 489.6,246.1 491.0,245.0 492.3,243.7 493.7,242.1 495.1,240.2 496.5,238.0 497.9,235.4 499.2,232.4 500.6,228.9 502.0,224.9 503.4,220.3 504.8,215.3 506.1,209.6 507.5,203.4 508.9,196.7 510.3,189.4 511.7,181.6 513.0,173.4 514.4,164.9 515.8,156.1 517.2,147.1 518.6,138.1 519.9,129.2 521.3,120.5 522.7,112.3 524.1,104.5 525.5,97.5 526.8,91.2 528.2,85.9 529.6,81.7 531.0,78.6 532.3,76.7 533.7,76.1 535.1,76.7 536.5,78.6 537.9,81.7 539.2,85.9 540.6,91.2 542.0,97.5 543.4,104.5 544.8,112.3 546.1,120.5 547.5,129.2 548.9,138.1 550.3,147.1 551.7,156.1 553.0,164.9 554.4,173.4 555.8,181.6 557.2,189.4 558.6,196.7 559.9,203.4 561.3,209.6 562.7,215.3 564.1,220.3 565.5,224.9 566.8,228.9 568.2,232.4 569.6,235.4 571.0,238.0 572.4,240.2 573.7,242.1 575.1,243.7 576.5,245.0 577.9,246.1 579.3,247.0 580.6,247.7 582.0,248.3 583.4,248.7 584.8,249.1 586.2,249.4 587.5,249.6 588.9,249.8"/>
</g>
<line x1="514.88" y1="28.7" x2="514.88" y2="250.3" stroke="#4a4aff" stroke-width="0.95" stroke-dasharray="6.1,3.28" stroke-dashoffset="1.18"/>
<line x1="550.46" y1="28.7" x2="550.46" y2="250.3" stroke="#4a4aff" stroke-width="0.95" stroke-dasharray="6.1,3.28" stroke-dashoffset="1.18"/>
<line x1="532.67" y1="28.7" x2="532.67" y2="250.3" stroke="#4a4aff" stroke-width="0.95" stroke-dasharray="5.9,2.1,1.2,2.05" stroke-dashoffset="8.55"/>
<polyline points="390.75,250.30 391.71,250.30 392.66,250.30 393.62,250.30 394.58,250.30 395.53,250.30 396.49,250.30 397.44,250.30 398.40,250.30 399.36,250.30 400.31,250.30 401.27,250.30 402.23,250.30 403.18,250.30 404.14,250.30 405.10,250.30 406.05,250.30 407.01,250.30 407.96,250.30 408.92,250.30 409.88,250.30 410.83,250.30 411.79,250.30 412.75,250.30 413.70,250.30 414.66,250.30 415.61,250.30 416.57,250.30 417.53,250.30 418.48,250.30 419.44,250.30 420.40,250.30 421.35,250.30 422.31,250.30 423.27,250.30 424.22,250.30 425.18,250.30 426.13,250.30 427.09,250.30 428.05,250.30 429.00,250.30 429.96,250.30 430.92,250.30 431.87,250.30 432.83,250.30 433.78,250.30 434.74,250.30 435.70,250.30 436.65,250.30 437.61,250.30 438.57,250.30 439.52,250.30 440.48,250.30 441.44,250.30 442.39,250.30 443.35,250.30 444.30,250.30 445.26,250.30 446.22,250.30 447.17,250.30 448.13,250.30 449.09,250.30 450.04,250.30 451.00,250.30 451.96,250.29 452.91,250.29 453.87,250.29 454.82,250.29 455.78,250.29 456.74,250.28 457.69,250.28 458.65,250.27 459.61,250.27 460.56,250.26 461.52,250.25 462.48,250.23 463.43,250.22 464.39,250.20 465.34,250.18 466.30,250.15 467.26,250.12 468.21,250.08 469.17,250.03 470.13,249.97 471.08,249.91 472.04,249.83 472.99,249.73 473.95,249.62 474.91,249.49 475.86,249.33 476.82,249.15 477.78,248.95 478.73,248.70 479.69,248.42 480.65,248.10 481.60,247.73 482.56,247.31 483.51,246.82 484.47,246.27 485.43,245.64 486.38,244.94 487.34,244.14 488.30,243.25 489.25,242.25 490.21,241.13 491.17,239.89 492.12,238.52 493.08,237.00 494.03,235.33 494.99,233.50 495.95,231.50 496.90,229.32 497.86,226.96 498.82,224.41 499.77,221.66 500.73,218.71 501.68,215.56 502.64,212.20 503.60,208.64 504.55,204.88 505.51,200.92 506.47,196.77 507.42,192.44 508.38,187.94 509.34,183.29 510.29,178.50 511.25,173.58 512.20,168.57 513.16,163.48 514.12,158.34 515.07,153.17 516.03,148.01 516.99,142.89 517.94,137.84 518.90,132.89 519.86,128.08 520.81,123.43 521.77,118.99 522.72,114.79 523.68,110.85 524.64,107.22 525.59,103.91 526.55,100.96 527.51,98.40 528.46,96.23 529.42,94.48 530.37,93.17 531.33,92.30 532.29,91.89 533.24,91.94 534.20,92.44 535.16,93.40 536.11,94.80 537.07,96.63 538.03,98.88 538.98,101.52 539.94,104.55 540.89,107.92 541.85,111.62 542.81,115.61 543.76,119.86 544.72,124.35 545.68,129.03 546.63,133.87 547.59,138.84 548.54,143.91 549.50,149.04 550.46,154.21 551.41,159.37 552.37,164.50 553.33,169.58 554.28,174.57 555.24,179.47 556.20,184.23 557.15,188.86 558.11,193.32 559.06,197.62 560.02,201.73 560.98,205.65 561.93,209.37 562.89,212.89 563.85,216.20 564.80,219.31 565.76,222.22 566.72,224.93 567.67,227.45 568.63,229.77 569.58,231.91 570.54,233.88 571.50,235.67 572.45,237.31 573.41,238.80 574.37,240.15 575.32,241.36 576.28,242.46 577.24,243.43 578.19,244.31 579.15,245.09 580.10,245.78 581.06,246.39 582.02,246.92 582.97,247.40 583.93,247.81 584.89,248.17 585.84,248.48 586.80,248.76 587.75,248.99 588.71,249.19 589.67,249.37 590.62,249.52 591.58,249.64 592.54,249.75 593.49,249.84 594.45,249.92 595.41,249.98 596.36,250.04 597.32,250.09 598.27,250.12 599.23,250.16 600.19,250.18 601.14,250.20 602.10,250.22 603.06,250.24 604.01,250.25 604.97,250.26 605.92,250.27 606.88,250.27 607.84,250.28 608.79,250.28 609.75,250.29 610.71,250.29 611.66,250.29 612.62,250.29 613.58,250.29 614.53,250.30 615.49,250.30 616.44,250.30 617.40,250.30 618.36,250.30 619.31,250.30 620.27,250.30 621.23,250.30 622.18,250.30 623.14,250.30 624.10,250.30 625.05,250.30 626.01,250.30 626.96,250.30 627.92,250.30 628.88,250.30 629.83,250.30 630.79,250.30 631.75,250.30 632.70,250.30 633.66,250.30 634.62,250.30 635.57,250.30 636.53,250.30 637.48,250.30 638.44,250.30 639.40,250.30 640.35,250.30 641.31,250.30 642.27,250.30 643.22,250.30 644.18,250.30 645.13,250.30 646.09,250.30 647.05,250.30 648.00,250.30 648.96,250.30 649.92,250.30 650.87,250.30 651.83,250.30 652.79,250.30 653.74,250.30 654.70,250.30 655.65,250.30 656.61,250.30 657.57,250.30 658.52,250.30 659.48,250.30 660.44,250.30 661.39,250.30 662.35,250.30 663.31,250.30 664.26,250.30 665.22,250.30 666.17,250.30 667.13,250.30 668.09,250.30 669.04,250.30 670.00,250.30 670.96,250.30 671.91,250.30 672.87,250.30 673.82,250.30 674.78,250.30 675.74,250.30 676.69,250.30 677.65,250.30" fill="none" stroke="#00f" stroke-width="1.6"/>
<text transform="translate(0.50,13.30) scale(0.9024,1)" font-size="18.5" fill="#000" stroke="#000" stroke-width="0.2" font-weight="bold">(a)</text>
<text transform="translate(23.89,256.95) scale(1.0500,1)" font-size="11.5" fill="#1a1a1a" stroke="#1a1a1a" stroke-width="0.2">0</text>
<text transform="translate(379.69,253.80) scale(1.0500,1)" font-size="11.5" fill="#1a1a1a" stroke="#1a1a1a" stroke-width="0.2">0</text>
<text transform="translate(13.82,220.05) scale(1.0500,1)" font-size="11.5" fill="#1a1a1a" stroke="#1a1a1a" stroke-width="0.2">0.5</text>
<text transform="translate(369.62,216.87) scale(1.0500,1)" font-size="11.5" fill="#1a1a1a" stroke="#1a1a1a" stroke-width="0.2">0.5</text>
<text transform="translate(23.89,183.15) scale(1.0500,1)" font-size="11.5" fill="#1a1a1a" stroke="#1a1a1a" stroke-width="0.2">1</text>
<text transform="translate(379.69,179.93) scale(1.0500,1)" font-size="11.5" fill="#1a1a1a" stroke="#1a1a1a" stroke-width="0.2">1</text>
<text transform="translate(13.82,146.25) scale(1.0500,1)" font-size="11.5" fill="#1a1a1a" stroke="#1a1a1a" stroke-width="0.2">1.5</text>
<text transform="translate(369.62,143.00) scale(1.0500,1)" font-size="11.5" fill="#1a1a1a" stroke="#1a1a1a" stroke-width="0.2">1.5</text>
<text transform="translate(23.89,109.35) scale(1.0500,1)" font-size="11.5" fill="#1a1a1a" stroke="#1a1a1a" stroke-width="0.2">2</text>
<text transform="translate(379.69,106.07) scale(1.0500,1)" font-size="11.5" fill="#1a1a1a" stroke="#1a1a1a" stroke-width="0.2">2</text>
<text transform="translate(13.82,72.45) scale(1.0500,1)" font-size="11.5" fill="#1a1a1a" stroke="#1a1a1a" stroke-width="0.2">2.5</text>
<text transform="translate(369.62,69.13) scale(1.0500,1)" font-size="11.5" fill="#1a1a1a" stroke="#1a1a1a" stroke-width="0.2">2.5</text>
<text transform="translate(23.89,35.55) scale(1.0500,1)" font-size="11.5" fill="#1a1a1a" stroke="#1a1a1a" stroke-width="0.2">3</text>
<text transform="translate(379.69,32.20) scale(1.0500,1)" font-size="11.5" fill="#1a1a1a" stroke="#1a1a1a" stroke-width="0.2">3</text>
<text transform="translate(30.00,267.60) scale(0.9781,1)" font-size="11.5" fill="#1a1a1a" stroke="#1a1a1a" stroke-width="0.2">-5</text>
<text transform="translate(175.10,267.60) scale(0.9853,1)" font-size="11.5" fill="#1a1a1a" stroke="#1a1a1a" stroke-width="0.2">0</text>
<text transform="translate(318.80,267.60) scale(0.9540,1)" font-size="11.5" fill="#1a1a1a" stroke="#1a1a1a" stroke-width="0.2">5</text>
<text transform="translate(380.80,264.60) scale(0.9993,1)" font-size="11.5" fill="#1a1a1a" stroke="#1a1a1a" stroke-width="0.2">-1.5</text>
<text transform="translate(433.00,264.60) scale(0.8901,1)" font-size="11.5" fill="#1a1a1a" stroke="#1a1a1a" stroke-width="0.2">-1</text>
<text transform="translate(531.10,264.60) scale(0.9853,1)" font-size="11.5" fill="#1a1a1a" stroke="#1a1a1a" stroke-width="0.2">0</text>
<text transform="translate(573.80,264.60) scale(0.9634,1)" font-size="11.5" fill="#1a1a1a" stroke="#1a1a1a" stroke-width="0.2">0.5</text>
<text transform="translate(627.20,264.60) scale(0.6256,1)" font-size="11.5" fill="#1a1a1a" stroke="#1a1a1a" stroke-width="0.2">1</text>
<text transform="translate(671.30,264.60) scale(0.9634,1)" font-size="11.5" fill="#1a1a1a" stroke="#1a1a1a" stroke-width="0.2">1.5</text>
<text transform="translate(474.88,264.60) scale(1.0600,1)" font-size="11.5" fill="#1a1a1a" stroke="#1a1a1a" stroke-width="0.2">-0.5</text>
<path d="M36.00,22.60L42.40,28.20M36.00,28.20L42.40,22.60" stroke="#1a1a1a" stroke-width="1.0" fill="none"/>
<text transform="translate(45.00,28.40) scale(0.8602,1)" font-size="11.5" fill="#1a1a1a" stroke="#1a1a1a" stroke-width="0.2">10</text>
<text transform="translate(57.10,24.40) scale(1.0618,1)" font-size="8.3" fill="#1a1a1a" stroke="#1a1a1a" stroke-width="0.2">4</text>
<path d="M391.90,20.00L398.00,25.90M391.90,25.90L398.00,20.00" stroke="#1a1a1a" stroke-width="1.0" fill="none"/>
<text transform="translate(400.40,26.00) scale(0.8524,1)" font-size="11.5" fill="#1a1a1a" stroke="#1a1a1a" stroke-width="0.2">10</text>
<text transform="translate(412.40,21.40) scale(1.0401,1)" font-size="8.3" fill="#1a1a1a" stroke="#1a1a1a" stroke-width="0.2">4</text>
<path d="M292.50,278.40L298.80,284.40M292.50,284.40L298.80,278.40" stroke="#1a1a1a" stroke-width="1.0" fill="none"/>
<text transform="translate(300.60,284.60) scale(0.8524,1)" font-size="11.5" fill="#1a1a1a" stroke="#1a1a1a" stroke-width="0.2">10</text>
<text transform="translate(313.60,279.80) scale(1.0164,1)" font-size="8.3" fill="#1a1a1a" stroke="#1a1a1a" stroke-width="0.2">-4</text>
<path d="M647.60,277.10L653.80,283.00M647.60,283.00L653.80,277.10" stroke="#1a1a1a" stroke-width="1.0" fill="none"/>
<text transform="translate(655.70,283.20) scale(0.8758,1)" font-size="11.5" fill="#1a1a1a" stroke="#1a1a1a" stroke-width="0.2">10</text>
<text transform="translate(668.30,277.90) scale(1.0978,1)" font-size="8.3" fill="#1a1a1a" stroke="#1a1a1a" stroke-width="0.2">-4</text>
<text transform="translate(103.20,283.90) scale(0.9909,1)" font-size="12.3" fill="#000" stroke="#000" stroke-width="0.3">Interface-parallel strain error</text>
<text transform="translate(455.20,283.90) scale(0.9896,1)" font-size="12.3" fill="#000" stroke="#000" stroke-width="0.3">Interface-parallel strain error</text>
<text transform="translate(10.00,204.60) rotate(-90) scale(1.0238,1)" font-size="12.3" fill="#000" stroke="#000" stroke-width="0.3">Probability distribution</text>
<text transform="translate(366.00,203.20) rotate(-90) scale(1.0206,1)" font-size="12.8" fill="#000" stroke="#000" stroke-width="0.3">Probability distribution</text>
<text transform="translate(359.10,13.70) scale(0.9566,1)" font-size="18.5" fill="#000" stroke="#000" stroke-width="0.2" font-weight="bold">(b)</text>
<text transform="translate(227.20,62.50) scale(1.0042,1)" font-size="13.5" fill="#00f" stroke="#00f" stroke-width="0.12">Subset</text>
<text transform="translate(227.00,78.30) scale(1.0114,1)" font-size="13.5" fill="#00f" stroke="#00f" stroke-width="0.12">41x41 pixels</text>
<text transform="translate(303.30,74.60) scale(0.8993,1)" font-size="9.8" fill="#00f" stroke="#00f" stroke-width="0.1">2</text>
<text transform="translate(227.60,95.20) scale(1.0057,1)" font-size="13.5" fill="#00f" stroke="#00f" stroke-width="0.12">(filtered)</text>
<text transform="translate(217.60,152.80) scale(1.0160,1)" font-size="13.5" fill="#f00" stroke="#f00" stroke-width="0.12">Subset</text>
<text transform="translate(217.60,168.40) scale(1.0114,1)" font-size="13.5" fill="#f00" stroke="#f00" stroke-width="0.12">41x41 pixels</text>
<text transform="translate(293.70,164.40) scale(0.9727,1)" font-size="9.8" fill="#f00" stroke="#f00" stroke-width="0.1">2</text>
<text transform="translate(218.00,184.10) scale(1.0197,1)" font-size="13.5" fill="#f00" stroke="#f00" stroke-width="0.12">(unfiltered)</text>
<text transform="translate(48.60,167.40) scale(1.0208,1)" font-size="13.5" fill="#000" stroke="#000" stroke-width="0.12">Subset</text>
<text transform="translate(48.60,183.30) scale(1.0114,1)" font-size="13.5" fill="#000" stroke="#000" stroke-width="0.12">31x31 pixels</text>
<text transform="translate(124.90,178.70) scale(0.9727,1)" font-size="9.8" fill="#000" stroke="#000" stroke-width="0.1">2</text>
<text transform="translate(48.80,198.60) scale(1.0197,1)" font-size="13.5" fill="#000" stroke="#000" stroke-width="0.12">(unfiltered)</text>
<line x1="218.8" y1="78.6" x2="195.77" y2="102.51" stroke="#00f" stroke-width="1.8"/>
<polygon points="189.8,108.7 193.39,100.22 198.14,104.80" fill="#00f"/>
<line x1="220.7" y1="194.7" x2="208.60" y2="219.28" stroke="#f00" stroke-width="1.8"/>
<polygon points="204.8,227.0 205.64,217.83 211.56,220.74" fill="#f00"/>
<line x1="92.7" y1="206.0" x2="117.23" y2="238.63" stroke="#000" stroke-width="1.8"/>
<polygon points="122.4,245.5 114.59,240.61 119.87,236.64" fill="#000"/>
</svg></body></html>
